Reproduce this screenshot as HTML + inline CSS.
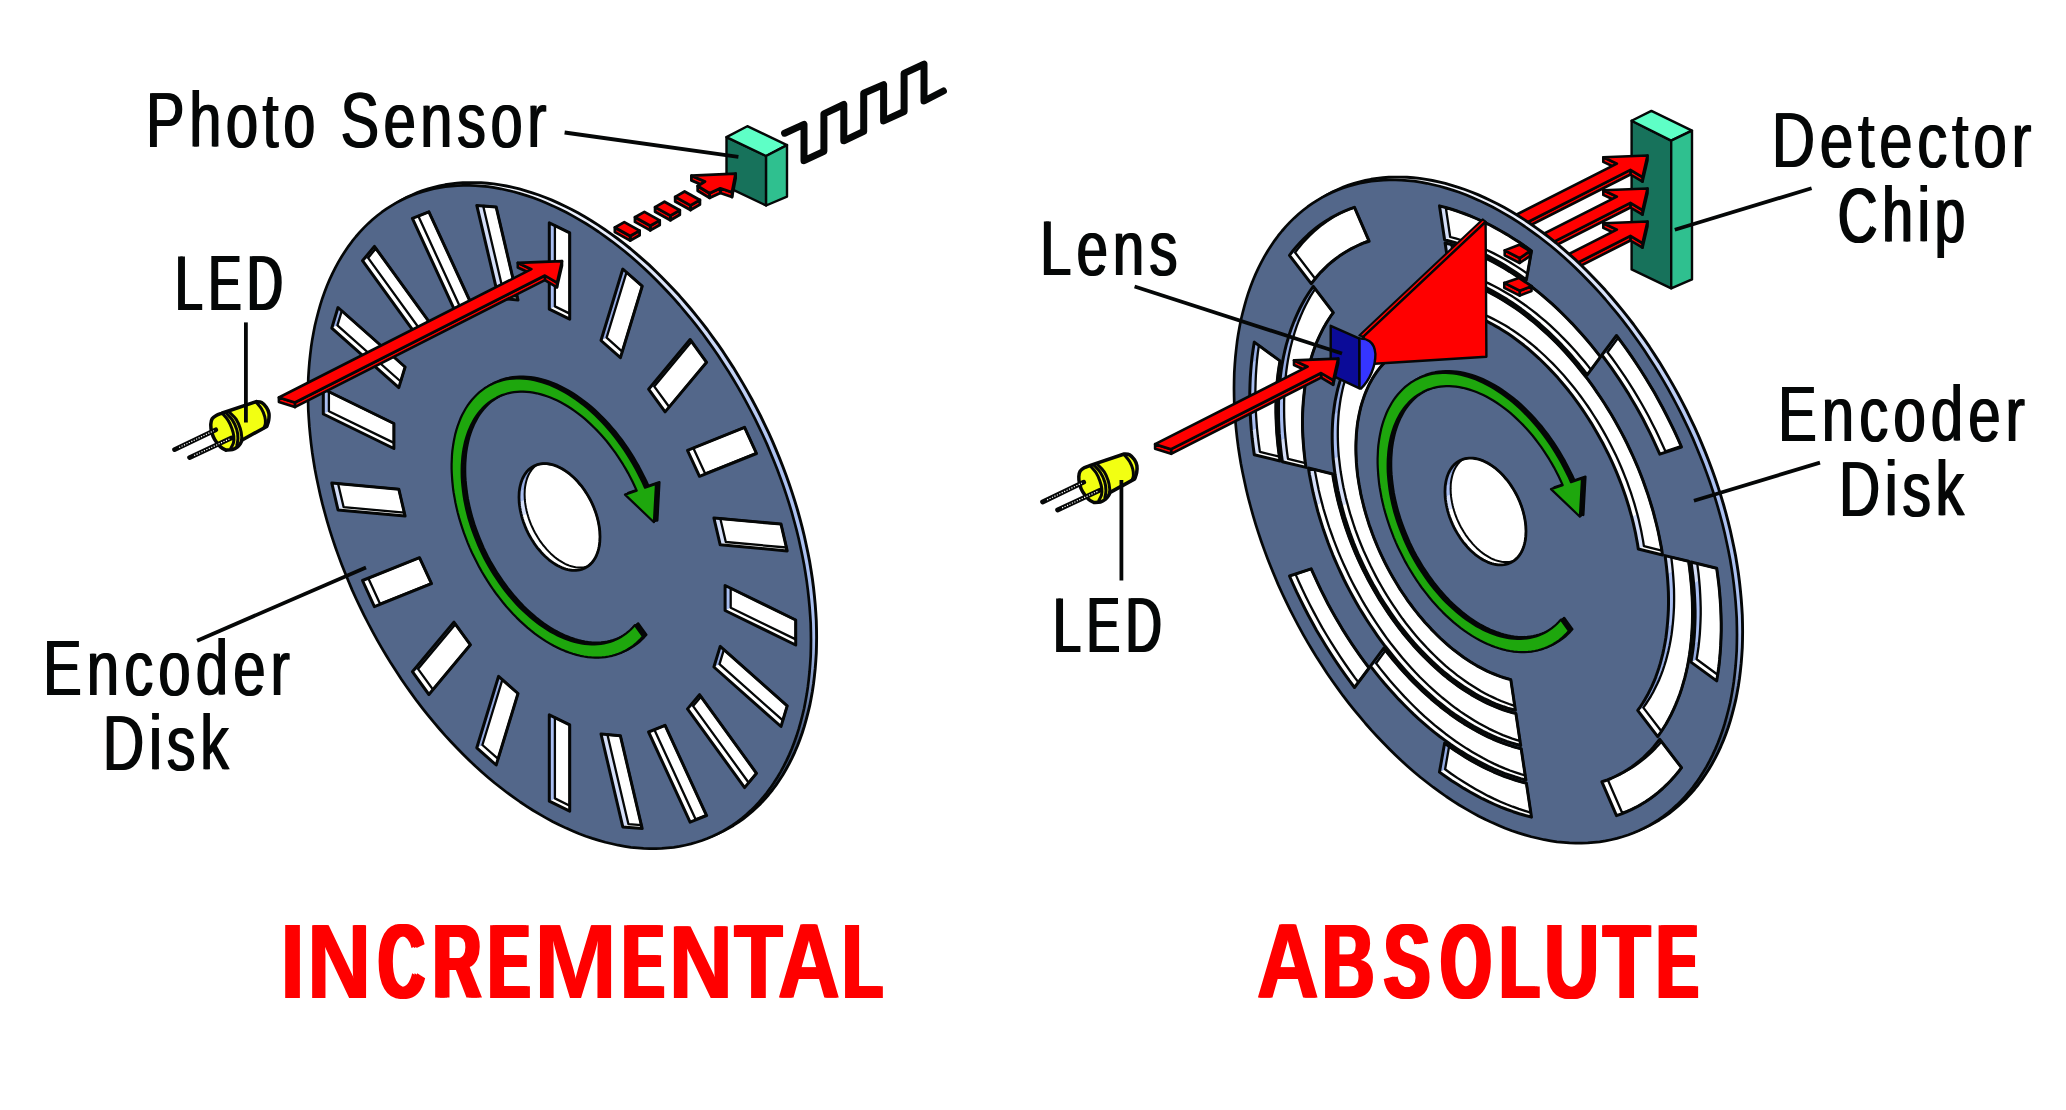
<!DOCTYPE html>
<html><head><meta charset="utf-8"><title>Encoders</title>
<style>
html,body{margin:0;padding:0;background:#fff;}
body{width:2066px;height:1110px;overflow:hidden;}
svg{display:block;}
text{font-family:"Liberation Sans",sans-serif;}
</style></head><body>
<svg width="2066" height="1110" viewBox="0 0 2066 1110">
<rect width="2066" height="1110" fill="#fff"/>
<polygon points="726.5,137.1 766.1,156.0 766.1,205.5 726.5,186.7" fill="#17725b" stroke="#050707" stroke-width="2.40" stroke-linejoin="round" />
<polygon points="726.5,137.1 747.3,126.2 787.0,145.1 766.1,156.0" fill="#5effc6" stroke="#050707" stroke-width="2.40" stroke-linejoin="round" />
<polygon points="766.1,156.0 787.0,145.1 787.0,196.6 766.1,205.5" fill="#2fc08f" stroke="#050707" stroke-width="2.40" stroke-linejoin="round" />
<polyline points="784.6,133.2 804.0,124.4 804.0,160.7 823.9,151.3 823.9,113.8 843.8,104.5 843.8,140.8 863.7,131.4 863.7,93.3 883.6,84.6 883.6,120.9 904.1,111.5 904.1,73.4 924.0,64.1 924.0,101.0 943.4,91.0" fill="none" stroke="#050707" stroke-width="7" stroke-linejoin="round" stroke-linecap="round"/>
<polygon points="639.6,230.6 630.2,236.0 630.2,240.6 639.6,235.2" fill="#ff0000" stroke="#050707" stroke-width="2.80" stroke-linejoin="round" />
<polygon points="630.2,236.0 614.9,227.5 614.9,232.1 630.2,240.6" fill="#ff0000" stroke="#050707" stroke-width="2.80" stroke-linejoin="round" />
<polygon points="614.9,227.5 624.3,222.1 639.6,230.6 630.2,236.0" fill="#ff0000" stroke="#050707" stroke-width="2.80" stroke-linejoin="round" />
<polygon points="659.7,220.4 650.3,225.8 650.3,230.4 659.7,225.0" fill="#ff0000" stroke="#050707" stroke-width="2.80" stroke-linejoin="round" />
<polygon points="650.3,225.8 635.0,217.3 635.0,221.9 650.3,230.4" fill="#ff0000" stroke="#050707" stroke-width="2.80" stroke-linejoin="round" />
<polygon points="635.0,217.3 644.4,211.9 659.7,220.4 650.3,225.8" fill="#ff0000" stroke="#050707" stroke-width="2.80" stroke-linejoin="round" />
<polygon points="679.8,210.2 670.4,215.6 670.4,220.2 679.8,214.8" fill="#ff0000" stroke="#050707" stroke-width="2.80" stroke-linejoin="round" />
<polygon points="670.4,215.6 655.1,207.1 655.1,211.7 670.4,220.2" fill="#ff0000" stroke="#050707" stroke-width="2.80" stroke-linejoin="round" />
<polygon points="655.1,207.1 664.5,201.7 679.8,210.2 670.4,215.6" fill="#ff0000" stroke="#050707" stroke-width="2.80" stroke-linejoin="round" />
<polygon points="699.9,200.0 690.5,205.4 690.5,210.0 699.9,204.6" fill="#ff0000" stroke="#050707" stroke-width="2.80" stroke-linejoin="round" />
<polygon points="690.5,205.4 675.2,196.9 675.2,201.5 690.5,210.0" fill="#ff0000" stroke="#050707" stroke-width="2.80" stroke-linejoin="round" />
<polygon points="675.2,196.9 684.6,191.5 699.9,200.0 690.5,205.4" fill="#ff0000" stroke="#050707" stroke-width="2.80" stroke-linejoin="round" />
<polygon points="735.6,173.6 732.0,192.3 732.0,197.0 735.6,178.3" fill="#ff0000" stroke="#050707" stroke-width="2.80" stroke-linejoin="round" />
<polygon points="732.0,192.3 720.3,188.3 720.3,193.0 732.0,197.0" fill="#ff0000" stroke="#050707" stroke-width="2.80" stroke-linejoin="round" />
<polygon points="720.3,188.3 709.5,193.2 709.5,197.9 720.3,193.0" fill="#ff0000" stroke="#050707" stroke-width="2.80" stroke-linejoin="round" />
<polygon points="709.5,193.2 697.7,186.0 697.7,190.7 709.5,197.9" fill="#ff0000" stroke="#050707" stroke-width="2.80" stroke-linejoin="round" />
<polygon points="705.0,181.5 691.4,175.7 691.4,180.4 705.0,186.2" fill="#ff0000" stroke="#050707" stroke-width="2.80" stroke-linejoin="round" />
<polygon points="691.4,175.7 735.6,173.6 732.0,192.3 720.3,188.3 709.5,193.2 697.7,186.0 705.0,181.5" fill="#ff0000" stroke="#050707" stroke-width="2.80" stroke-linejoin="round" />
<defs><linearGradient id="rim559" gradientUnits="userSpaceOnUse" x1="0" y1="182.0" x2="0" y2="852.0"><stop offset="0" stop-color="#f6f8ff"/><stop offset="0.42" stop-color="#abc0f0"/><stop offset="0.68" stop-color="#abc0f0"/><stop offset="0.84" stop-color="#44577a"/><stop offset="1" stop-color="#38496a"/></linearGradient></defs>
<polygon points="816.6,637.2 816.5,629.1 816.3,620.9 815.8,612.7 815.2,604.3 814.4,595.9 813.5,587.5 812.4,579.0 811.1,570.5 809.7,561.9 808.0,553.3 806.2,544.7 804.3,536.0 802.2,527.3 799.9,518.7 797.5,510.0 794.9,501.3 792.1,492.6 789.2,484.0 786.1,475.3 782.9,466.7 779.5,458.1 776.0,449.6 772.4,441.1 768.6,432.7 764.6,424.3 760.6,416.0 756.3,407.7 752.0,399.5 747.5,391.4 742.9,383.4 738.2,375.5 733.4,367.6 728.4,359.9 723.4,352.2 718.2,344.7 712.9,337.3 707.6,330.0 702.1,322.9 696.5,315.9 690.9,309.0 685.1,302.2 679.3,295.6 673.4,289.2 667.4,282.9 661.3,276.7 655.2,270.7 649.1,264.9 642.8,259.3 636.5,253.8 630.2,248.5 623.8,243.4 617.4,238.5 610.9,233.8 604.4,229.2 597.9,224.9 591.4,220.7 584.8,216.8 578.3,213.1 571.7,209.5 565.1,206.2 558.5,203.1 551.9,200.2 545.4,197.5 538.8,195.0 532.3,192.8 525.8,190.8 519.3,188.9 512.8,187.4 506.4,186.0 500.0,184.9 493.7,183.9 487.4,183.3 481.1,182.8 475.0,182.6 468.9,182.6 462.8,182.8 456.8,183.3 450.9,183.9 445.1,184.8 439.4,186.0 433.7,187.3 428.1,188.9 422.6,190.7 417.3,192.7 412.0,195.0 406.8,197.4 401.8,200.1 396.8,203.0 392.0,206.1 387.3,209.4 382.7,213.0 378.2,216.7 373.9,220.6 369.6,224.8 365.6,229.1 361.6,233.7 357.8,238.4 354.2,243.3 350.7,248.4 347.3,253.7 344.1,259.1 341.0,264.8 338.1,270.6 335.3,276.6 332.7,282.7 330.3,289.0 328.0,295.4 325.9,302.0 324.0,308.8 322.2,315.7 320.5,322.7 319.1,329.9 317.8,337.1 316.7,344.5 315.8,352.1 315.0,359.7 314.4,367.4 313.9,375.2 313.7,383.2 313.6,391.2 313.7,399.3 313.9,407.5 314.4,415.7 315.0,424.1 315.8,432.5 316.7,440.9 317.8,449.4 319.1,457.9 320.5,466.5 322.2,475.1 324.0,483.7 325.9,492.4 328.0,501.1 330.3,509.7 332.7,518.4 335.3,527.1 338.1,535.8 341.0,544.4 344.1,553.1 347.3,561.7 350.7,570.3 354.2,578.8 357.8,587.3 361.6,595.7 365.6,604.1 369.6,612.4 373.9,620.7 378.2,628.9 382.7,637.0 387.3,645.0 392.0,652.9 396.8,660.8 401.8,668.5 406.8,676.2 412.0,683.7 417.3,691.1 422.6,698.4 428.1,705.5 433.7,712.5 439.3,719.4 445.1,726.2 450.9,732.8 456.8,739.2 462.8,745.5 468.9,751.7 475.0,757.7 481.1,763.5 487.4,769.1 493.7,774.6 500.0,779.9 506.4,785.0 512.8,789.9 519.3,794.6 525.8,799.2 532.3,803.5 538.8,807.7 545.4,811.6 551.9,815.3 558.5,818.9 565.1,822.2 571.7,825.3 578.3,828.2 584.8,830.9 591.4,833.4 597.9,835.6 604.4,837.6 610.9,839.5 617.4,841.0 623.8,842.4 630.2,843.5 636.5,844.5 642.8,845.1 649.1,845.6 655.2,845.8 661.3,845.8 667.4,845.6 673.4,845.1 679.3,844.5 685.1,843.6 690.9,842.4 696.5,841.1 702.1,839.5 707.6,837.7 712.9,835.7 718.2,833.4 723.4,831.0 728.4,828.3 733.4,825.4 738.2,822.3 742.9,819.0 747.5,815.4 752.0,811.7 756.3,807.8 760.6,803.6 764.6,799.3 768.6,794.7 772.4,790.0 776.0,785.1 779.5,780.0 782.9,774.7 786.1,769.3 789.2,763.6 792.1,757.8 794.9,751.8 797.5,745.7 799.9,739.4 802.2,733.0 804.3,726.4 806.2,719.6 808.0,712.7 809.7,705.7 811.1,698.5 812.4,691.3 813.5,683.9 814.4,676.3 815.2,668.7 815.8,661.0 816.3,653.2 816.5,645.2 816.6,637.2" fill="url(#rim559)" stroke="#050707" stroke-width="2.90" stroke-linejoin="round" />
<polygon points="811.0,640.0 810.9,631.9 810.7,623.7 810.2,615.5 809.6,607.1 808.8,598.7 807.9,590.3 806.8,581.8 805.5,573.3 804.1,564.7 802.4,556.1 800.6,547.5 798.7,538.8 796.6,530.1 794.3,521.5 791.9,512.8 789.3,504.1 786.5,495.4 783.6,486.8 780.5,478.1 777.3,469.5 773.9,460.9 770.4,452.4 766.8,443.9 763.0,435.5 759.0,427.1 755.0,418.8 750.7,410.5 746.4,402.3 741.9,394.2 737.3,386.2 732.6,378.3 727.8,370.4 722.8,362.7 717.8,355.0 712.6,347.5 707.3,340.1 702.0,332.8 696.5,325.7 690.9,318.7 685.2,311.8 679.5,305.0 673.7,298.4 667.8,292.0 661.8,285.7 655.7,279.5 649.6,273.5 643.5,267.7 637.2,262.1 630.9,256.6 624.6,251.3 618.2,246.2 611.8,241.3 605.3,236.6 598.8,232.0 592.3,227.7 585.8,223.5 579.2,219.6 572.7,215.9 566.1,212.3 559.5,209.0 552.9,205.9 546.3,203.0 539.8,200.3 533.2,197.8 526.7,195.6 520.2,193.6 513.7,191.7 507.2,190.2 500.8,188.8 494.4,187.7 488.1,186.7 481.8,186.1 475.5,185.6 469.4,185.4 463.3,185.4 457.2,185.6 451.2,186.1 445.3,186.7 439.5,187.6 433.8,188.8 428.1,190.1 422.5,191.7 417.0,193.5 411.7,195.5 406.4,197.8 401.2,200.2 396.2,202.9 391.2,205.8 386.4,208.9 381.7,212.2 377.1,215.8 372.6,219.5 368.3,223.4 364.0,227.6 360.0,231.9 356.0,236.5 352.2,241.2 348.6,246.1 345.1,251.2 341.7,256.5 338.5,261.9 335.4,267.6 332.5,273.4 329.7,279.4 327.1,285.5 324.7,291.8 322.4,298.2 320.3,304.8 318.4,311.6 316.6,318.5 314.9,325.5 313.5,332.7 312.2,339.9 311.1,347.3 310.2,354.9 309.4,362.5 308.8,370.2 308.3,378.0 308.1,386.0 308.0,394.0 308.1,402.1 308.3,410.3 308.8,418.5 309.4,426.9 310.2,435.3 311.1,443.7 312.2,452.2 313.5,460.7 314.9,469.3 316.6,477.9 318.4,486.5 320.3,495.2 322.4,503.9 324.7,512.5 327.1,521.2 329.7,529.9 332.5,538.6 335.4,547.2 338.5,555.9 341.7,564.5 345.1,573.1 348.6,581.6 352.2,590.1 356.0,598.5 360.0,606.9 364.0,615.2 368.3,623.5 372.6,631.7 377.1,639.8 381.7,647.8 386.4,655.7 391.2,663.6 396.2,671.3 401.2,679.0 406.4,686.5 411.7,693.9 417.0,701.2 422.5,708.3 428.1,715.3 433.7,722.2 439.5,729.0 445.3,735.6 451.2,742.0 457.2,748.3 463.3,754.5 469.4,760.5 475.5,766.3 481.8,771.9 488.1,777.4 494.4,782.7 500.8,787.8 507.2,792.7 513.7,797.4 520.2,802.0 526.7,806.3 533.2,810.5 539.8,814.4 546.3,818.1 552.9,821.7 559.5,825.0 566.1,828.1 572.7,831.0 579.2,833.7 585.8,836.2 592.3,838.4 598.8,840.4 605.3,842.3 611.8,843.8 618.2,845.2 624.6,846.3 630.9,847.3 637.2,847.9 643.5,848.4 649.6,848.6 655.7,848.6 661.8,848.4 667.8,847.9 673.7,847.3 679.5,846.4 685.2,845.2 690.9,843.9 696.5,842.3 702.0,840.5 707.3,838.5 712.6,836.2 717.8,833.8 722.8,831.1 727.8,828.2 732.6,825.1 737.3,821.8 741.9,818.2 746.4,814.5 750.7,810.6 755.0,806.4 759.0,802.1 763.0,797.5 766.8,792.8 770.4,787.9 773.9,782.8 777.3,777.5 780.5,772.1 783.6,766.4 786.5,760.6 789.3,754.6 791.9,748.5 794.3,742.2 796.6,735.8 798.7,729.2 800.6,722.4 802.4,715.5 804.1,708.5 805.5,701.3 806.8,694.1 807.9,686.7 808.8,679.1 809.6,671.5 810.2,663.8 810.7,656.0 810.9,648.0 811.0,640.0" fill="#53678a" stroke="#050707" stroke-width="2.70" stroke-linejoin="round" />
<path d="M569.7 232.8 L549.3 222.8 L549.3 309.2 L569.7 319.2Z" fill="#ccd8f6"/>
<path d="M549.3 309.2 L554.9 306.4 L554.9 225.5 L549.3 222.8Z" fill="#a9bef1"/>
<path d="M569.7 319.2 L569.7 313.6 L554.9 306.4 L549.3 309.2Z" fill="#ffffff"/>
<path d="M554.9 225.5 L554.9 306.4 L569.7 313.6 L569.7 232.8Z" fill="#fff" stroke="#050707" stroke-width="2.30" stroke-linejoin="round"/>
<path d="M569.7 232.8 L549.3 222.8 L549.3 309.2 L569.7 319.2Z" fill="none" stroke="#050707" stroke-width="3.00" stroke-linejoin="round"/>
<path d="M642.2 286.2 L622.8 269.0 L601.0 340.5 L620.4 357.7Z" fill="#ccd8f6"/>
<path d="M601.0 340.5 L606.6 337.7 L626.5 272.4 L622.8 269.0Z" fill="#94aae0"/>
<path d="M620.4 357.7 L622.2 351.6 L606.6 337.7 L601.0 340.5Z" fill="#ffffff"/>
<path d="M626.5 272.4 L606.6 337.7 L622.2 351.6 L642.2 286.2Z" fill="#fff" stroke="#050707" stroke-width="2.30" stroke-linejoin="round"/>
<path d="M642.2 286.2 L622.8 269.0 L601.0 340.5 L620.4 357.7Z" fill="none" stroke="#050707" stroke-width="3.00" stroke-linejoin="round"/>
<path d="M706.6 362.3 L690.1 339.5 L648.6 389.2 L665.1 411.9Z" fill="#ccd8f6"/>
<path d="M648.6 389.2 L654.2 386.4 L691.6 341.6 L690.1 339.5Z" fill="#7f97cf"/>
<path d="M665.1 411.9 L669.2 407.0 L654.2 386.4 L648.6 389.2Z" fill="#ffffff"/>
<path d="M691.6 341.6 L654.2 386.4 L669.2 407.0 L706.6 362.3Z" fill="#fff" stroke="#050707" stroke-width="2.30" stroke-linejoin="round"/>
<path d="M706.6 362.3 L690.1 339.5 L648.6 389.2 L665.1 411.9Z" fill="none" stroke="#050707" stroke-width="3.00" stroke-linejoin="round"/>
<path d="M756.5 453.5 L744.6 427.4 L687.5 450.3 L699.5 476.3Z" fill="#ccd8f6"/>
<path d="M699.5 476.3 L756.5 453.5 L756.3 453.0 L705.1 473.5 L693.3 448.0 L687.5 450.3Z" fill="#ffffff"/>
<path d="M744.6 427.4 L693.3 448.0 L705.1 473.5 L756.3 453.0Z" fill="#fff" stroke="#050707" stroke-width="2.30" stroke-linejoin="round"/>
<path d="M756.5 453.5 L744.6 427.4 L687.5 450.3 L699.5 476.3Z" fill="none" stroke="#050707" stroke-width="3.00" stroke-linejoin="round"/>
<path d="M787.2 550.9 L781.0 524.1 L713.9 518.0 L720.2 544.8Z" fill="#ccd8f6"/>
<path d="M720.2 544.8 L725.8 542.0 L720.3 518.5 L713.9 518.0Z" fill="#d4def8"/>
<path d="M787.2 550.9 L786.5 547.5 L725.8 542.0 L720.2 544.8Z" fill="#ffffff"/>
<path d="M781.0 524.1 L720.3 518.5 L725.8 542.0 L786.5 547.5Z" fill="#fff" stroke="#050707" stroke-width="2.30" stroke-linejoin="round"/>
<path d="M787.2 550.9 L781.0 524.1 L713.9 518.0 L720.2 544.8Z" fill="none" stroke="#050707" stroke-width="3.00" stroke-linejoin="round"/>
<path d="M795.7 645.0 L795.7 620.0 L725.1 585.5 L725.1 610.5Z" fill="#ccd8f6"/>
<path d="M725.1 610.5 L730.7 607.7 L730.7 588.3 L725.1 585.5Z" fill="#a9bef1"/>
<path d="M795.7 645.0 L795.7 639.4 L730.7 607.7 L725.1 610.5Z" fill="#ffffff"/>
<path d="M795.7 620.0 L730.7 588.3 L730.7 607.7 L795.7 639.4Z" fill="#fff" stroke="#050707" stroke-width="2.30" stroke-linejoin="round"/>
<path d="M795.7 645.0 L795.7 620.0 L725.1 585.5 L725.1 610.5Z" fill="none" stroke="#050707" stroke-width="3.00" stroke-linejoin="round"/>
<path d="M781.0 726.5 L787.2 705.9 L720.2 646.4 L713.9 667.0Z" fill="#ccd8f6"/>
<path d="M713.9 667.0 L719.5 664.2 L723.9 649.7 L720.2 646.4Z" fill="#94aae0"/>
<path d="M781.0 726.5 L782.8 720.4 L719.5 664.2 L713.9 667.0Z" fill="#ffffff"/>
<path d="M787.2 705.9 L723.9 649.7 L719.5 664.2 L782.8 720.4Z" fill="#fff" stroke="#050707" stroke-width="2.30" stroke-linejoin="round"/>
<path d="M781.0 726.5 L787.2 705.9 L720.2 646.4 L713.9 667.0Z" fill="none" stroke="#050707" stroke-width="3.00" stroke-linejoin="round"/>
<path d="M744.6 787.6 L756.5 773.3 L699.5 694.6 L687.5 708.9Z" fill="#ccd8f6"/>
<path d="M687.5 708.9 L693.1 706.1 L701.0 696.7 L699.5 694.6Z" fill="#7f97cf"/>
<path d="M744.6 787.6 L748.7 782.7 L693.1 706.1 L687.5 708.9Z" fill="#ffffff"/>
<path d="M756.5 773.3 L701.0 696.7 L693.1 706.1 L748.7 782.7Z" fill="#fff" stroke="#050707" stroke-width="2.30" stroke-linejoin="round"/>
<path d="M744.6 787.6 L756.5 773.3 L699.5 694.6 L687.5 708.9Z" fill="none" stroke="#050707" stroke-width="3.00" stroke-linejoin="round"/>
<path d="M690.1 822.2 L706.6 815.6 L665.1 725.4 L648.6 732.0Z" fill="#ccd8f6"/>
<path d="M690.1 822.2 L706.6 815.6 L706.3 815.1 L695.7 819.4 L654.4 729.7 L648.6 732.0Z" fill="#ffffff"/>
<path d="M665.1 725.4 L654.4 729.7 L695.7 819.4 L706.3 815.1Z" fill="#fff" stroke="#050707" stroke-width="2.30" stroke-linejoin="round"/>
<path d="M690.1 822.2 L706.6 815.6 L665.1 725.4 L648.6 732.0Z" fill="none" stroke="#050707" stroke-width="3.00" stroke-linejoin="round"/>
<path d="M622.8 826.9 L642.2 828.6 L620.4 735.8 L601.0 734.0Z" fill="#ccd8f6"/>
<path d="M642.2 828.6 L641.4 825.2 L628.4 824.1 L622.8 826.9Z" fill="#ffffff"/>
<path d="M622.8 826.9 L628.4 824.1 L607.4 734.6 L601.0 734.0Z" fill="#d4def8"/>
<path d="M620.4 735.8 L607.4 734.6 L628.4 824.1 L641.4 825.2Z" fill="#fff" stroke="#050707" stroke-width="2.30" stroke-linejoin="round"/>
<path d="M622.8 826.9 L642.2 828.6 L620.4 735.8 L601.0 734.0Z" fill="none" stroke="#050707" stroke-width="3.00" stroke-linejoin="round"/>
<path d="M549.3 801.2 L569.7 811.2 L569.7 724.8 L549.3 714.8Z" fill="#ccd8f6"/>
<path d="M569.7 811.2 L569.7 805.7 L554.9 798.4 L549.3 801.2Z" fill="#ffffff"/>
<path d="M549.3 801.2 L554.9 798.4 L554.9 717.6 L549.3 714.8Z" fill="#a9bef1"/>
<path d="M569.7 724.8 L554.9 717.6 L554.9 798.4 L569.7 805.7Z" fill="#fff" stroke="#050707" stroke-width="2.30" stroke-linejoin="round"/>
<path d="M549.3 801.2 L569.7 811.2 L569.7 724.8 L549.3 714.8Z" fill="none" stroke="#050707" stroke-width="3.00" stroke-linejoin="round"/>
<path d="M476.8 747.8 L496.2 765.0 L518.0 693.5 L498.6 676.3Z" fill="#ccd8f6"/>
<path d="M496.2 765.0 L498.1 758.8 L482.4 745.0 L476.8 747.8Z" fill="#ffffff"/>
<path d="M476.8 747.8 L482.4 745.0 L502.4 679.6 L498.6 676.3Z" fill="#94aae0"/>
<path d="M518.0 693.5 L502.4 679.6 L482.4 745.0 L498.1 758.8Z" fill="#fff" stroke="#050707" stroke-width="2.30" stroke-linejoin="round"/>
<path d="M476.8 747.8 L496.2 765.0 L518.0 693.5 L498.6 676.3Z" fill="none" stroke="#050707" stroke-width="3.00" stroke-linejoin="round"/>
<path d="M412.4 671.7 L428.9 694.5 L470.4 644.8 L453.9 622.1Z" fill="#ccd8f6"/>
<path d="M428.9 694.5 L433.0 689.6 L418.0 668.9 L412.4 671.7Z" fill="#ffffff"/>
<path d="M412.4 671.7 L418.0 668.9 L455.4 624.2 L453.9 622.1Z" fill="#7f97cf"/>
<path d="M470.4 644.8 L455.4 624.2 L418.0 668.9 L433.0 689.6Z" fill="#fff" stroke="#050707" stroke-width="2.30" stroke-linejoin="round"/>
<path d="M412.4 671.7 L428.9 694.5 L470.4 644.8 L453.9 622.1Z" fill="none" stroke="#050707" stroke-width="3.00" stroke-linejoin="round"/>
<path d="M362.5 580.5 L374.4 606.6 L431.5 583.7 L419.5 557.7Z" fill="#ccd8f6"/>
<path d="M374.4 606.6 L431.5 583.7 L431.3 583.2 L380.0 603.8 L368.3 578.2 L362.5 580.5Z" fill="#ffffff"/>
<path d="M419.5 557.7 L368.3 578.2 L380.0 603.8 L431.3 583.2Z" fill="#fff" stroke="#050707" stroke-width="2.30" stroke-linejoin="round"/>
<path d="M362.5 580.5 L374.4 606.6 L431.5 583.7 L419.5 557.7Z" fill="none" stroke="#050707" stroke-width="3.00" stroke-linejoin="round"/>
<path d="M331.8 483.1 L338.0 509.9 L405.1 516.0 L398.8 489.2Z" fill="#ccd8f6"/>
<path d="M338.0 509.9 L343.6 507.1 L338.1 483.7 L331.8 483.1Z" fill="#d4def8"/>
<path d="M405.1 516.0 L404.3 512.7 L343.6 507.1 L338.0 509.9Z" fill="#ffffff"/>
<path d="M398.8 489.2 L338.1 483.7 L343.6 507.1 L404.3 512.7Z" fill="#fff" stroke="#050707" stroke-width="2.30" stroke-linejoin="round"/>
<path d="M331.8 483.1 L338.0 509.9 L405.1 516.0 L398.8 489.2Z" fill="none" stroke="#050707" stroke-width="3.00" stroke-linejoin="round"/>
<path d="M323.3 389.0 L323.3 414.0 L393.9 448.5 L393.9 423.5Z" fill="#ccd8f6"/>
<path d="M323.3 414.0 L328.9 411.2 L328.9 391.8 L323.3 389.0Z" fill="#a9bef1"/>
<path d="M393.9 448.5 L393.9 442.9 L328.9 411.2 L323.3 414.0Z" fill="#ffffff"/>
<path d="M393.9 423.5 L328.9 391.8 L328.9 411.2 L393.9 442.9Z" fill="#fff" stroke="#050707" stroke-width="2.30" stroke-linejoin="round"/>
<path d="M323.3 389.0 L323.3 414.0 L393.9 448.5 L393.9 423.5Z" fill="none" stroke="#050707" stroke-width="3.00" stroke-linejoin="round"/>
<path d="M338.0 307.5 L331.8 328.1 L398.8 387.6 L405.1 367.0Z" fill="#ccd8f6"/>
<path d="M331.8 328.1 L337.4 325.3 L341.8 310.8 L338.0 307.5Z" fill="#94aae0"/>
<path d="M398.8 387.6 L400.7 381.5 L337.4 325.3 L331.8 328.1Z" fill="#ffffff"/>
<path d="M405.1 367.0 L341.8 310.8 L337.4 325.3 L400.7 381.5Z" fill="#fff" stroke="#050707" stroke-width="2.30" stroke-linejoin="round"/>
<path d="M338.0 307.5 L331.8 328.1 L398.8 387.6 L405.1 367.0Z" fill="none" stroke="#050707" stroke-width="3.00" stroke-linejoin="round"/>
<path d="M374.4 246.4 L362.5 260.7 L419.5 339.4 L431.5 325.1Z" fill="#ccd8f6"/>
<path d="M362.5 260.7 L368.1 257.9 L375.9 248.5 L374.4 246.4Z" fill="#7f97cf"/>
<path d="M419.5 339.4 L423.6 334.5 L368.1 257.9 L362.5 260.7Z" fill="#ffffff"/>
<path d="M431.5 325.1 L375.9 248.5 L368.1 257.9 L423.6 334.5Z" fill="#fff" stroke="#050707" stroke-width="2.30" stroke-linejoin="round"/>
<path d="M374.4 246.4 L362.5 260.7 L419.5 339.4 L431.5 325.1Z" fill="none" stroke="#050707" stroke-width="3.00" stroke-linejoin="round"/>
<path d="M428.9 211.8 L412.4 218.4 L453.9 308.6 L470.4 302.0Z" fill="#ccd8f6"/>
<path d="M453.9 308.6 L470.4 302.0 L470.2 301.5 L459.5 305.8 L418.3 216.1 L412.4 218.4Z" fill="#ffffff"/>
<path d="M418.3 216.1 L459.5 305.8 L470.2 301.5 L428.9 211.8Z" fill="#fff" stroke="#050707" stroke-width="2.30" stroke-linejoin="round"/>
<path d="M428.9 211.8 L412.4 218.4 L453.9 308.6 L470.4 302.0Z" fill="none" stroke="#050707" stroke-width="3.00" stroke-linejoin="round"/>
<path d="M496.2 207.1 L476.8 205.4 L498.6 298.2 L518.0 300.0Z" fill="#ccd8f6"/>
<path d="M498.6 298.2 L504.2 295.4 L483.2 206.0 L476.8 205.4Z" fill="#d4def8"/>
<path d="M518.0 300.0 L517.2 296.6 L504.2 295.4 L498.6 298.2Z" fill="#ffffff"/>
<path d="M483.2 206.0 L504.2 295.4 L517.2 296.6 L496.2 207.1Z" fill="#fff" stroke="#050707" stroke-width="2.30" stroke-linejoin="round"/>
<path d="M496.2 207.1 L476.8 205.4 L498.6 298.2 L518.0 300.0Z" fill="none" stroke="#050707" stroke-width="3.00" stroke-linejoin="round"/>
<path d="M600.0 536.8 L599.9 534.2 L599.8 531.5 L599.5 528.8 L599.1 526.1 L598.6 523.3 L598.0 520.5 L597.3 517.7 L596.5 514.9 L595.6 512.1 L594.6 509.4 L593.5 506.6 L592.3 503.9 L591.0 501.2 L589.6 498.5 L588.1 495.9 L586.6 493.4 L585.0 490.9 L583.3 488.5 L581.6 486.2 L579.7 484.0 L577.9 481.8 L576.0 479.8 L574.0 477.8 L572.0 476.0 L570.0 474.2 L567.9 472.6 L565.8 471.1 L563.7 469.8 L561.6 468.5 L559.5 467.4 L557.4 466.4 L555.3 465.6 L553.2 464.9 L551.1 464.4 L549.0 464.0 L547.0 463.7 L545.0 463.6 L543.0 463.6 L541.1 463.8 L539.3 464.2 L537.4 464.6 L535.7 465.2 L534.0 466.0 L532.4 466.9 L530.9 467.9 L529.4 469.1 L528.0 470.4 L526.7 471.8 L525.5 473.4 L524.4 475.1 L523.4 476.8 L522.5 478.7 L521.7 480.7 L521.0 482.8 L520.4 485.0 L519.9 487.3 L519.5 489.7 L519.2 492.1 L519.1 494.6 L519.0 497.2 L519.1 499.8 L519.2 502.5 L519.5 505.2 L519.9 507.9 L520.4 510.7 L521.0 513.5 L521.7 516.3 L522.5 519.1 L523.4 521.9 L524.4 524.6 L525.5 527.4 L526.7 530.1 L528.0 532.8 L529.4 535.5 L530.9 538.1 L532.4 540.6 L534.0 543.1 L535.7 545.5 L537.4 547.8 L539.3 550.0 L541.1 552.2 L543.0 554.2 L545.0 556.2 L547.0 558.0 L549.0 559.8 L551.1 561.4 L553.2 562.9 L555.3 564.2 L557.4 565.5 L559.5 566.6 L561.6 567.6 L563.7 568.4 L565.8 569.1 L567.9 569.6 L570.0 570.0 L572.0 570.3 L574.0 570.4 L576.0 570.4 L577.9 570.2 L579.7 569.8 L581.6 569.4 L583.3 568.8 L585.0 568.0 L586.6 567.1 L588.1 566.1 L589.6 564.9 L591.0 563.6 L592.3 562.2 L593.5 560.6 L594.6 558.9 L595.6 557.2 L596.5 555.3 L597.3 553.3 L598.0 551.2 L598.6 549.0 L599.1 546.7 L599.5 544.3 L599.8 541.9 L599.9 539.4Z" fill="#ccd8f6"/>
<path d="M532.4 466.9 L530.9 467.9 L529.4 469.1 L528.0 470.4 L526.7 471.8 L525.5 473.4 L524.4 475.1 L523.4 476.8 L522.5 478.7 L521.7 480.7 L527.3 477.9 L528.1 475.9 L529.0 474.0 L530.0 472.3 L531.1 470.6 L532.3 469.0 L533.6 467.6 L535.0 466.3 L536.5 465.1 L537.0 464.8 L535.7 465.2 L534.0 466.0Z" fill="#7f97cf"/>
<path d="M521.0 482.8 L520.4 485.0 L519.9 487.3 L519.5 489.7 L519.2 492.1 L524.8 489.3 L525.1 486.9 L525.5 484.5 L526.0 482.2 L526.6 480.0 L527.3 477.9 L521.7 480.7Z" fill="#94aae0"/>
<path d="M519.1 494.6 L519.0 497.2 L519.1 499.8 L519.2 502.5 L524.8 499.7 L524.7 497.0 L524.6 494.4 L524.7 491.8 L524.8 489.3 L519.2 492.1Z" fill="#a9bef1"/>
<path d="M519.5 505.2 L519.9 507.9 L520.4 510.7 L521.0 513.5 L521.7 516.3 L527.3 513.5 L526.6 510.7 L526.0 507.9 L525.5 505.1 L525.1 502.4 L524.8 499.7 L519.2 502.5Z" fill="#d4def8"/>
<path d="M522.5 519.1 L523.4 521.9 L524.4 524.6 L525.5 527.4 L526.7 530.1 L528.0 532.8 L529.4 535.5 L530.9 538.1 L532.4 540.6 L534.0 543.1 L535.7 545.5 L537.4 547.8 L539.3 550.0 L541.1 552.2 L543.0 554.2 L545.0 556.2 L547.0 558.0 L549.0 559.8 L551.1 561.4 L553.2 562.9 L555.3 564.2 L557.4 565.5 L559.5 566.6 L561.6 567.6 L563.7 568.4 L565.8 569.1 L567.9 569.6 L570.0 570.0 L572.0 570.3 L574.0 570.4 L576.0 570.4 L577.9 570.2 L579.7 569.8 L581.6 569.4 L583.3 568.8 L585.0 568.0 L586.6 567.1 L587.6 566.4 L587.2 566.6 L585.3 567.0 L583.5 567.4 L581.6 567.6 L579.6 567.6 L577.6 567.5 L575.6 567.2 L573.5 566.8 L571.4 566.3 L569.3 565.6 L567.2 564.8 L565.1 563.8 L563.0 562.7 L560.9 561.4 L558.8 560.1 L556.7 558.6 L554.6 557.0 L552.6 555.2 L550.6 553.4 L548.6 551.4 L546.7 549.4 L544.9 547.2 L543.0 545.0 L541.3 542.7 L539.6 540.3 L538.0 537.8 L536.5 535.3 L535.0 532.7 L533.6 530.0 L532.3 527.3 L531.1 524.6 L530.0 521.8 L529.0 519.1 L528.1 516.3 L527.3 513.5 L521.7 516.3Z" fill="#ffffff"/>
<path d="M599.9 534.2 L599.8 531.5 L599.5 528.8 L599.1 526.1 L598.6 523.3 L598.0 520.5 L597.3 517.7 L596.5 514.9 L595.6 512.1 L594.6 509.4 L593.5 506.6 L592.3 503.9 L591.0 501.2 L589.6 498.5 L588.1 495.9 L586.6 493.4 L585.0 490.9 L583.3 488.5 L581.6 486.2 L579.7 484.0 L577.9 481.8 L576.0 479.8 L574.0 477.8 L572.0 476.0 L570.0 474.2 L567.9 472.6 L565.8 471.1 L563.7 469.8 L561.6 468.5 L559.5 467.4 L557.4 466.4 L555.3 465.6 L553.2 464.9 L551.1 464.4 L549.0 464.0 L547.0 463.7 L545.0 463.6 L543.0 463.6 L541.1 463.8 L539.3 464.2 L537.4 464.6 L537.0 464.8 L536.5 465.1 L535.0 466.3 L533.6 467.6 L532.3 469.0 L531.1 470.6 L530.0 472.3 L529.0 474.0 L528.1 475.9 L527.3 477.9 L526.6 480.0 L526.0 482.2 L525.5 484.5 L525.1 486.9 L524.8 489.3 L524.7 491.8 L524.6 494.4 L524.7 497.0 L524.8 499.7 L525.1 502.4 L525.5 505.1 L526.0 507.9 L526.6 510.7 L527.3 513.5 L528.1 516.3 L529.0 519.1 L530.0 521.8 L531.1 524.6 L532.3 527.3 L533.6 530.0 L535.0 532.7 L536.5 535.3 L538.0 537.8 L539.6 540.3 L541.3 542.7 L543.0 545.0 L544.9 547.2 L546.7 549.4 L548.6 551.4 L550.6 553.4 L552.6 555.2 L554.6 557.0 L556.7 558.6 L558.8 560.1 L560.9 561.4 L563.0 562.7 L565.1 563.8 L567.2 564.8 L569.3 565.6 L571.4 566.3 L573.5 566.8 L575.6 567.2 L577.6 567.5 L579.6 567.6 L581.6 567.6 L583.5 567.4 L585.3 567.0 L587.2 566.6 L587.6 566.4 L588.1 566.1 L589.6 564.9 L591.0 563.6 L592.3 562.2 L593.5 560.6 L594.6 558.9 L595.6 557.2 L596.5 555.3 L597.3 553.3 L598.0 551.2 L598.6 549.0 L599.1 546.7 L599.5 544.3 L599.8 541.9 L599.9 539.4 L600.0 536.8Z" fill="#fff" stroke="#050707" stroke-width="2.00" stroke-linejoin="round"/>
<path d="M600.0 536.8 L599.9 534.2 L599.8 531.5 L599.5 528.8 L599.1 526.1 L598.6 523.3 L598.0 520.5 L597.3 517.7 L596.5 514.9 L595.6 512.1 L594.6 509.4 L593.5 506.6 L592.3 503.9 L591.0 501.2 L589.6 498.5 L588.1 495.9 L586.6 493.4 L585.0 490.9 L583.3 488.5 L581.6 486.2 L579.7 484.0 L577.9 481.8 L576.0 479.8 L574.0 477.8 L572.0 476.0 L570.0 474.2 L567.9 472.6 L565.8 471.1 L563.7 469.8 L561.6 468.5 L559.5 467.4 L557.4 466.4 L555.3 465.6 L553.2 464.9 L551.1 464.4 L549.0 464.0 L547.0 463.7 L545.0 463.6 L543.0 463.6 L541.1 463.8 L539.3 464.2 L537.4 464.6 L535.7 465.2 L534.0 466.0 L532.4 466.9 L530.9 467.9 L529.4 469.1 L528.0 470.4 L526.7 471.8 L525.5 473.4 L524.4 475.1 L523.4 476.8 L522.5 478.7 L521.7 480.7 L521.0 482.8 L520.4 485.0 L519.9 487.3 L519.5 489.7 L519.2 492.1 L519.1 494.6 L519.0 497.2 L519.1 499.8 L519.2 502.5 L519.5 505.2 L519.9 507.9 L520.4 510.7 L521.0 513.5 L521.7 516.3 L522.5 519.1 L523.4 521.9 L524.4 524.6 L525.5 527.4 L526.7 530.1 L528.0 532.8 L529.4 535.5 L530.9 538.1 L532.4 540.6 L534.0 543.1 L535.7 545.5 L537.4 547.8 L539.3 550.0 L541.1 552.2 L543.0 554.2 L545.0 556.2 L547.0 558.0 L549.0 559.8 L551.1 561.4 L553.2 562.9 L555.3 564.2 L557.4 565.5 L559.5 566.6 L561.6 567.6 L563.7 568.4 L565.8 569.1 L567.9 569.6 L570.0 570.0 L572.0 570.3 L574.0 570.4 L576.0 570.4 L577.9 570.2 L579.7 569.8 L581.6 569.4 L583.3 568.8 L585.0 568.0 L586.6 567.1 L588.1 566.1 L589.6 564.9 L591.0 563.6 L592.3 562.2 L593.5 560.6 L594.6 558.9 L595.6 557.2 L596.5 555.3 L597.3 553.3 L598.0 551.2 L598.6 549.0 L599.1 546.7 L599.5 544.3 L599.8 541.9 L599.9 539.4Z" fill="none" stroke="#050707" stroke-width="2.80" stroke-linejoin="round"/>
<polygon points="646.3,634.7 644.0,637.3 641.6,639.7 639.1,642.0 636.5,644.1 633.7,646.0 630.9,647.8 628.0,649.4 625.0,650.9 621.9,652.1 618.8,653.2 615.5,654.1 612.2,654.8 608.8,655.4 605.4,655.7 601.9,655.9 598.4,655.9 594.8,655.7 591.1,655.4 587.4,654.8 583.7,654.1 580.0,653.2 576.2,652.1 572.4,650.8 568.6,649.4 564.8,647.8 561.0,646.0 557.1,644.1 553.3,641.9 549.5,639.7 545.7,637.2 542.0,634.6 538.2,631.9 534.5,629.0 530.8,625.9 527.2,622.7 523.6,619.4 520.0,615.9 516.5,612.3 513.1,608.6 509.7,604.8 506.4,600.8 503.2,596.7 500.0,592.6 496.9,588.3 493.9,583.9 491.0,579.5 488.2,575.0 485.4,570.3 482.8,565.7 480.3,560.9 477.9,556.1 475.5,551.3 473.3,546.4 471.2,541.4 469.3,536.5 467.4,531.5 465.7,526.4 464.1,521.4 462.6,516.4 461.2,511.3 460.0,506.3 458.9,501.3 458.0,496.3 457.1,491.3 456.4,486.4 455.9,481.5 455.5,476.6 455.2,471.8 455.0,467.1 455.0,462.4 455.2,457.8 455.4,453.2 455.8,448.8 456.4,444.4 457.1,440.1 457.9,436.0 458.8,431.9 459.9,427.9 461.1,424.1 462.5,420.4 463.9,416.8 465.5,413.3 467.3,410.0 469.1,406.8 471.1,403.7 473.2,400.8 475.4,398.1 477.7,395.5 480.1,393.0 482.6,390.7 485.2,388.6 487.9,386.6 490.8,384.9 493.7,383.2 496.7,381.8 499.7,380.5 502.9,379.5 506.1,378.5 509.4,377.8 512.8,377.3 516.2,376.9 519.7,376.7 523.3,376.7 526.9,376.9 530.5,377.2 534.2,377.8 537.9,378.5 541.7,379.4 545.4,380.5 549.2,381.7 553.0,383.1 556.8,384.7 560.7,386.5 564.5,388.5 568.3,390.6 572.1,392.8 575.9,395.3 579.7,397.9 583.4,400.6 587.1,403.5 590.8,406.5 594.5,409.7 598.1,413.1 601.6,416.5 605.1,420.1 608.6,423.8 611.9,427.7 615.3,431.6 618.5,435.7 621.7,439.8 624.8,444.1 627.8,448.5 630.7,452.9 633.5,457.4 636.2,462.0 638.9,466.7 641.4,471.5 643.8,476.3 646.2,481.1 648.4,486.0 659.4,482.2 657.3,520.5 628.4,492.9 640.1,488.9 638.1,484.5 636.0,480.1 633.8,475.7 631.5,471.4 629.1,467.2 626.6,463.0 624.0,458.9 621.4,454.9 618.7,451.0 615.9,447.1 613.0,443.3 610.1,439.6 607.1,436.1 604.0,432.6 600.9,429.2 597.7,426.0 594.5,422.9 591.3,419.9 588.0,417.0 584.6,414.2 581.3,411.6 577.9,409.1 574.5,406.8 571.0,404.6 567.6,402.5 564.1,400.6 560.7,398.8 557.2,397.2 553.8,395.8 550.3,394.5 546.9,393.4 543.5,392.4 540.1,391.6 536.7,390.9 533.4,390.4 530.1,390.1 526.9,390.0 523.6,390.0 520.5,390.1 517.4,390.5 514.3,391.0 511.3,391.6 508.4,392.5 505.5,393.4 502.8,394.6 500.1,395.9 497.4,397.4 494.9,399.0 492.4,400.7 490.0,402.7 487.8,404.7 485.6,406.9 483.5,409.3 481.5,411.8 479.6,414.4 477.8,417.2 476.2,420.1 474.6,423.1 473.2,426.2 471.8,429.5 470.6,432.9 469.5,436.3 468.5,439.9 467.7,443.6 466.9,447.4 466.3,451.2 465.8,455.2 465.5,459.2 465.2,463.3 465.1,467.5 465.1,471.7 465.2,476.0 465.5,480.4 465.9,484.8 466.4,489.2 467.0,493.7 467.7,498.2 468.6,502.7 469.6,507.2 470.7,511.8 471.9,516.4 473.3,520.9 474.7,525.5 476.3,530.0 478.0,534.5 479.8,539.0 481.7,543.5 483.6,547.9 485.7,552.3 487.9,556.7 490.2,561.0 492.6,565.2 495.1,569.4 497.6,573.5 500.3,577.5 503.0,581.5 505.8,585.3 508.6,589.1 511.6,592.8 514.6,596.4 517.6,599.8 520.7,603.2 523.9,606.5 527.1,609.6 530.4,612.6 533.7,615.5 537.0,618.3 540.4,620.9 543.8,623.4 547.2,625.7 550.6,627.9 554.0,630.0 557.5,631.9 561.0,633.7 564.4,635.3 567.9,636.7 571.3,638.0 574.7,639.2 578.2,640.2 581.5,641.0 584.9,641.6 588.2,642.1 591.5,642.5 594.8,642.6 598.0,642.6 601.2,642.5 604.3,642.1 607.3,641.7 610.3,641.0 613.3,640.2 616.1,639.2 618.9,638.1 621.6,636.8 624.3,635.3 626.8,633.7 629.3,631.9 631.7,630.0 633.9,628.0 636.1,625.8 638.2,623.4" fill="#050707" stroke="#050707" stroke-width="2.40" stroke-linejoin="round" />
<polygon points="642.9,636.4 640.6,639.0 644.0,637.3 646.3,634.7" fill="#050707" stroke="#050707" stroke-width="1.00" stroke-linejoin="round" />
<polygon points="640.6,639.0 638.2,641.4 641.6,639.7 644.0,637.3" fill="#050707" stroke="#050707" stroke-width="1.00" stroke-linejoin="round" />
<polygon points="638.2,641.4 635.7,643.7 639.1,642.0 641.6,639.7" fill="#050707" stroke="#050707" stroke-width="1.00" stroke-linejoin="round" />
<polygon points="635.7,643.7 633.1,645.8 636.5,644.1 639.1,642.0" fill="#050707" stroke="#050707" stroke-width="1.00" stroke-linejoin="round" />
<polygon points="633.1,645.8 630.3,647.7 633.7,646.0 636.5,644.1" fill="#050707" stroke="#050707" stroke-width="1.00" stroke-linejoin="round" />
<polygon points="630.3,647.7 627.5,649.5 630.9,647.8 633.7,646.0" fill="#050707" stroke="#050707" stroke-width="1.00" stroke-linejoin="round" />
<polygon points="627.5,649.5 624.6,651.1 628.0,649.4 630.9,647.8" fill="#050707" stroke="#050707" stroke-width="1.00" stroke-linejoin="round" />
<polygon points="624.6,651.1 621.6,652.6 625.0,650.9 628.0,649.4" fill="#050707" stroke="#050707" stroke-width="1.00" stroke-linejoin="round" />
<polygon points="621.6,652.6 618.5,653.8 621.9,652.1 625.0,650.9" fill="#050707" stroke="#050707" stroke-width="1.00" stroke-linejoin="round" />
<polygon points="618.5,653.8 615.4,654.9 618.8,653.2 621.9,652.1" fill="#050707" stroke="#050707" stroke-width="1.00" stroke-linejoin="round" />
<polygon points="615.4,654.9 612.1,655.8 615.5,654.1 618.8,653.2" fill="#050707" stroke="#050707" stroke-width="1.00" stroke-linejoin="round" />
<polygon points="612.1,655.8 608.8,656.5 612.2,654.8 615.5,654.1" fill="#050707" stroke="#050707" stroke-width="1.00" stroke-linejoin="round" />
<polygon points="608.8,656.5 605.4,657.1 608.8,655.4 612.2,654.8" fill="#050707" stroke="#050707" stroke-width="1.00" stroke-linejoin="round" />
<polygon points="605.4,657.1 602.0,657.4 605.4,655.7 608.8,655.4" fill="#050707" stroke="#050707" stroke-width="1.00" stroke-linejoin="round" />
<polygon points="602.0,657.4 598.5,657.6 601.9,655.9 605.4,655.7" fill="#050707" stroke="#050707" stroke-width="1.00" stroke-linejoin="round" />
<polygon points="598.5,657.6 595.0,657.6 598.4,655.9 601.9,655.9" fill="#050707" stroke="#050707" stroke-width="1.00" stroke-linejoin="round" />
<polygon points="595.0,657.6 591.4,657.4 594.8,655.7 598.4,655.9" fill="#050707" stroke="#050707" stroke-width="1.00" stroke-linejoin="round" />
<polygon points="591.4,657.4 587.7,657.1 591.1,655.4 594.8,655.7" fill="#050707" stroke="#050707" stroke-width="1.00" stroke-linejoin="round" />
<polygon points="587.7,657.1 584.0,656.5 587.4,654.8 591.1,655.4" fill="#050707" stroke="#050707" stroke-width="1.00" stroke-linejoin="round" />
<polygon points="584.0,656.5 580.3,655.8 583.7,654.1 587.4,654.8" fill="#050707" stroke="#050707" stroke-width="1.00" stroke-linejoin="round" />
<polygon points="580.3,655.8 576.6,654.9 580.0,653.2 583.7,654.1" fill="#050707" stroke="#050707" stroke-width="1.00" stroke-linejoin="round" />
<polygon points="576.6,654.9 572.8,653.8 576.2,652.1 580.0,653.2" fill="#050707" stroke="#050707" stroke-width="1.00" stroke-linejoin="round" />
<polygon points="572.8,653.8 569.0,652.5 572.4,650.8 576.2,652.1" fill="#050707" stroke="#050707" stroke-width="1.00" stroke-linejoin="round" />
<polygon points="569.0,652.5 565.2,651.1 568.6,649.4 572.4,650.8" fill="#050707" stroke="#050707" stroke-width="1.00" stroke-linejoin="round" />
<polygon points="565.2,651.1 561.4,649.5 564.8,647.8 568.6,649.4" fill="#050707" stroke="#050707" stroke-width="1.00" stroke-linejoin="round" />
<polygon points="561.4,649.5 557.6,647.7 561.0,646.0 564.8,647.8" fill="#050707" stroke="#050707" stroke-width="1.00" stroke-linejoin="round" />
<polygon points="557.6,647.7 553.7,645.8 557.1,644.1 561.0,646.0" fill="#050707" stroke="#050707" stroke-width="1.00" stroke-linejoin="round" />
<polygon points="553.7,645.8 549.9,643.6 553.3,641.9 557.1,644.1" fill="#050707" stroke="#050707" stroke-width="1.00" stroke-linejoin="round" />
<polygon points="549.9,643.6 546.1,641.4 549.5,639.7 553.3,641.9" fill="#050707" stroke="#050707" stroke-width="1.00" stroke-linejoin="round" />
<polygon points="546.1,641.4 542.3,638.9 545.7,637.2 549.5,639.7" fill="#050707" stroke="#050707" stroke-width="1.00" stroke-linejoin="round" />
<polygon points="542.3,638.9 538.6,636.3 542.0,634.6 545.7,637.2" fill="#050707" stroke="#050707" stroke-width="1.00" stroke-linejoin="round" />
<polygon points="538.6,636.3 534.8,633.6 538.2,631.9 542.0,634.6" fill="#050707" stroke="#050707" stroke-width="1.00" stroke-linejoin="round" />
<polygon points="534.8,633.6 531.1,630.7 534.5,629.0 538.2,631.9" fill="#050707" stroke="#050707" stroke-width="1.00" stroke-linejoin="round" />
<polygon points="531.1,630.7 527.4,627.6 530.8,625.9 534.5,629.0" fill="#050707" stroke="#050707" stroke-width="1.00" stroke-linejoin="round" />
<polygon points="527.4,627.6 523.8,624.4 527.2,622.7 530.8,625.9" fill="#050707" stroke="#050707" stroke-width="1.00" stroke-linejoin="round" />
<polygon points="523.8,624.4 520.2,621.1 523.6,619.4 527.2,622.7" fill="#050707" stroke="#050707" stroke-width="1.00" stroke-linejoin="round" />
<polygon points="520.2,621.1 516.6,617.6 520.0,615.9 523.6,619.4" fill="#050707" stroke="#050707" stroke-width="1.00" stroke-linejoin="round" />
<polygon points="516.6,617.6 513.1,614.0 516.5,612.3 520.0,615.9" fill="#050707" stroke="#050707" stroke-width="1.00" stroke-linejoin="round" />
<polygon points="513.1,614.0 509.7,610.3 513.1,608.6 516.5,612.3" fill="#050707" stroke="#050707" stroke-width="1.00" stroke-linejoin="round" />
<polygon points="509.7,610.3 506.3,606.5 509.7,604.8 513.1,608.6" fill="#050707" stroke="#050707" stroke-width="1.00" stroke-linejoin="round" />
<polygon points="506.3,606.5 503.0,602.5 506.4,600.8 509.7,604.8" fill="#050707" stroke="#050707" stroke-width="1.00" stroke-linejoin="round" />
<polygon points="503.0,602.5 499.8,598.4 503.2,596.7 506.4,600.8" fill="#050707" stroke="#050707" stroke-width="1.00" stroke-linejoin="round" />
<polygon points="499.8,598.4 496.6,594.3 500.0,592.6 503.2,596.7" fill="#050707" stroke="#050707" stroke-width="1.00" stroke-linejoin="round" />
<polygon points="496.6,594.3 493.5,590.0 496.9,588.3 500.0,592.6" fill="#050707" stroke="#050707" stroke-width="1.00" stroke-linejoin="round" />
<polygon points="493.5,590.0 490.5,585.6 493.9,583.9 496.9,588.3" fill="#050707" stroke="#050707" stroke-width="1.00" stroke-linejoin="round" />
<polygon points="490.5,585.6 487.6,581.2 491.0,579.5 493.9,583.9" fill="#050707" stroke="#050707" stroke-width="1.00" stroke-linejoin="round" />
<polygon points="487.6,581.2 484.8,576.7 488.2,575.0 491.0,579.5" fill="#050707" stroke="#050707" stroke-width="1.00" stroke-linejoin="round" />
<polygon points="484.8,576.7 482.0,572.0 485.4,570.3 488.2,575.0" fill="#050707" stroke="#050707" stroke-width="1.00" stroke-linejoin="round" />
<polygon points="482.0,572.0 479.4,567.4 482.8,565.7 485.4,570.3" fill="#050707" stroke="#050707" stroke-width="1.00" stroke-linejoin="round" />
<polygon points="479.4,567.4 476.9,562.6 480.3,560.9 482.8,565.7" fill="#050707" stroke="#050707" stroke-width="1.00" stroke-linejoin="round" />
<polygon points="476.9,562.6 474.5,557.8 477.9,556.1 480.3,560.9" fill="#050707" stroke="#050707" stroke-width="1.00" stroke-linejoin="round" />
<polygon points="474.5,557.8 472.1,553.0 475.5,551.3 477.9,556.1" fill="#050707" stroke="#050707" stroke-width="1.00" stroke-linejoin="round" />
<polygon points="472.1,553.0 469.9,548.1 473.3,546.4 475.5,551.3" fill="#050707" stroke="#050707" stroke-width="1.00" stroke-linejoin="round" />
<polygon points="469.9,548.1 467.8,543.1 471.2,541.4 473.3,546.4" fill="#050707" stroke="#050707" stroke-width="1.00" stroke-linejoin="round" />
<polygon points="467.8,543.1 465.9,538.2 469.3,536.5 471.2,541.4" fill="#050707" stroke="#050707" stroke-width="1.00" stroke-linejoin="round" />
<polygon points="465.9,538.2 464.0,533.2 467.4,531.5 469.3,536.5" fill="#050707" stroke="#050707" stroke-width="1.00" stroke-linejoin="round" />
<polygon points="464.0,533.2 462.3,528.1 465.7,526.4 467.4,531.5" fill="#050707" stroke="#050707" stroke-width="1.00" stroke-linejoin="round" />
<polygon points="462.3,528.1 460.7,523.1 464.1,521.4 465.7,526.4" fill="#050707" stroke="#050707" stroke-width="1.00" stroke-linejoin="round" />
<polygon points="460.7,523.1 459.2,518.1 462.6,516.4 464.1,521.4" fill="#050707" stroke="#050707" stroke-width="1.00" stroke-linejoin="round" />
<polygon points="459.2,518.1 457.8,513.0 461.2,511.3 462.6,516.4" fill="#050707" stroke="#050707" stroke-width="1.00" stroke-linejoin="round" />
<polygon points="457.8,513.0 456.6,508.0 460.0,506.3 461.2,511.3" fill="#050707" stroke="#050707" stroke-width="1.00" stroke-linejoin="round" />
<polygon points="456.6,508.0 455.5,503.0 458.9,501.3 460.0,506.3" fill="#050707" stroke="#050707" stroke-width="1.00" stroke-linejoin="round" />
<polygon points="455.5,503.0 454.6,498.0 458.0,496.3 458.9,501.3" fill="#050707" stroke="#050707" stroke-width="1.00" stroke-linejoin="round" />
<polygon points="454.6,498.0 453.7,493.0 457.1,491.3 458.0,496.3" fill="#050707" stroke="#050707" stroke-width="1.00" stroke-linejoin="round" />
<polygon points="453.7,493.0 453.0,488.1 456.4,486.4 457.1,491.3" fill="#050707" stroke="#050707" stroke-width="1.00" stroke-linejoin="round" />
<polygon points="453.0,488.1 452.5,483.2 455.9,481.5 456.4,486.4" fill="#050707" stroke="#050707" stroke-width="1.00" stroke-linejoin="round" />
<polygon points="452.5,483.2 452.1,478.3 455.5,476.6 455.9,481.5" fill="#050707" stroke="#050707" stroke-width="1.00" stroke-linejoin="round" />
<polygon points="452.1,478.3 451.8,473.5 455.2,471.8 455.5,476.6" fill="#050707" stroke="#050707" stroke-width="1.00" stroke-linejoin="round" />
<polygon points="451.8,473.5 451.6,468.8 455.0,467.1 455.2,471.8" fill="#050707" stroke="#050707" stroke-width="1.00" stroke-linejoin="round" />
<polygon points="451.6,468.8 451.6,464.1 455.0,462.4 455.0,467.1" fill="#050707" stroke="#050707" stroke-width="1.00" stroke-linejoin="round" />
<polygon points="451.6,464.1 451.8,459.5 455.2,457.8 455.0,462.4" fill="#050707" stroke="#050707" stroke-width="1.00" stroke-linejoin="round" />
<polygon points="451.8,459.5 452.0,454.9 455.4,453.2 455.2,457.8" fill="#050707" stroke="#050707" stroke-width="1.00" stroke-linejoin="round" />
<polygon points="452.0,454.9 452.4,450.5 455.8,448.8 455.4,453.2" fill="#050707" stroke="#050707" stroke-width="1.00" stroke-linejoin="round" />
<polygon points="452.4,450.5 453.0,446.1 456.4,444.4 455.8,448.8" fill="#050707" stroke="#050707" stroke-width="1.00" stroke-linejoin="round" />
<polygon points="453.0,446.1 453.7,441.8 457.1,440.1 456.4,444.4" fill="#050707" stroke="#050707" stroke-width="1.00" stroke-linejoin="round" />
<polygon points="453.7,441.8 454.5,437.7 457.9,436.0 457.1,440.1" fill="#050707" stroke="#050707" stroke-width="1.00" stroke-linejoin="round" />
<polygon points="454.5,437.7 455.4,433.6 458.8,431.9 457.9,436.0" fill="#050707" stroke="#050707" stroke-width="1.00" stroke-linejoin="round" />
<polygon points="455.4,433.6 456.5,429.6 459.9,427.9 458.8,431.9" fill="#050707" stroke="#050707" stroke-width="1.00" stroke-linejoin="round" />
<polygon points="456.5,429.6 457.7,425.8 461.1,424.1 459.9,427.9" fill="#050707" stroke="#050707" stroke-width="1.00" stroke-linejoin="round" />
<polygon points="457.7,425.8 459.1,422.1 462.5,420.4 461.1,424.1" fill="#050707" stroke="#050707" stroke-width="1.00" stroke-linejoin="round" />
<polygon points="459.1,422.1 460.5,418.5 463.9,416.8 462.5,420.4" fill="#050707" stroke="#050707" stroke-width="1.00" stroke-linejoin="round" />
<polygon points="460.5,418.5 462.1,415.0 465.5,413.3 463.9,416.8" fill="#050707" stroke="#050707" stroke-width="1.00" stroke-linejoin="round" />
<polygon points="462.1,415.0 463.9,411.7 467.3,410.0 465.5,413.3" fill="#050707" stroke="#050707" stroke-width="1.00" stroke-linejoin="round" />
<polygon points="463.9,411.7 465.7,408.5 469.1,406.8 467.3,410.0" fill="#050707" stroke="#050707" stroke-width="1.00" stroke-linejoin="round" />
<polygon points="465.7,408.5 467.7,405.4 471.1,403.7 469.1,406.8" fill="#050707" stroke="#050707" stroke-width="1.00" stroke-linejoin="round" />
<polygon points="467.7,405.4 469.8,402.5 473.2,400.8 471.1,403.7" fill="#050707" stroke="#050707" stroke-width="1.00" stroke-linejoin="round" />
<polygon points="469.8,402.5 472.0,399.8 475.4,398.1 473.2,400.8" fill="#050707" stroke="#050707" stroke-width="1.00" stroke-linejoin="round" />
<polygon points="472.0,399.8 474.3,397.2 477.7,395.5 475.4,398.1" fill="#050707" stroke="#050707" stroke-width="1.00" stroke-linejoin="round" />
<polygon points="474.3,397.2 476.7,394.7 480.1,393.0 477.7,395.5" fill="#050707" stroke="#050707" stroke-width="1.00" stroke-linejoin="round" />
<polygon points="476.7,394.7 479.2,392.4 482.6,390.7 480.1,393.0" fill="#050707" stroke="#050707" stroke-width="1.00" stroke-linejoin="round" />
<polygon points="479.2,392.4 481.8,390.3 485.2,388.6 482.6,390.7" fill="#050707" stroke="#050707" stroke-width="1.00" stroke-linejoin="round" />
<polygon points="481.8,390.3 484.5,388.3 487.9,386.6 485.2,388.6" fill="#050707" stroke="#050707" stroke-width="1.00" stroke-linejoin="round" />
<polygon points="484.5,388.3 487.4,386.6 490.8,384.9 487.9,386.6" fill="#050707" stroke="#050707" stroke-width="1.00" stroke-linejoin="round" />
<polygon points="487.4,386.6 490.3,384.9 493.7,383.2 490.8,384.9" fill="#050707" stroke="#050707" stroke-width="1.00" stroke-linejoin="round" />
<polygon points="490.3,384.9 493.3,383.5 496.7,381.8 493.7,383.2" fill="#050707" stroke="#050707" stroke-width="1.00" stroke-linejoin="round" />
<polygon points="493.3,383.5 496.3,382.2 499.7,380.5 496.7,381.8" fill="#050707" stroke="#050707" stroke-width="1.00" stroke-linejoin="round" />
<polygon points="496.3,382.2 499.5,381.2 502.9,379.5 499.7,380.5" fill="#050707" stroke="#050707" stroke-width="1.00" stroke-linejoin="round" />
<polygon points="499.5,381.2 502.7,380.2 506.1,378.5 502.9,379.5" fill="#050707" stroke="#050707" stroke-width="1.00" stroke-linejoin="round" />
<polygon points="502.7,380.2 506.0,379.5 509.4,377.8 506.1,378.5" fill="#050707" stroke="#050707" stroke-width="1.00" stroke-linejoin="round" />
<polygon points="506.0,379.5 509.4,379.0 512.8,377.3 509.4,377.8" fill="#050707" stroke="#050707" stroke-width="1.00" stroke-linejoin="round" />
<polygon points="509.4,379.0 512.8,378.6 516.2,376.9 512.8,377.3" fill="#050707" stroke="#050707" stroke-width="1.00" stroke-linejoin="round" />
<polygon points="512.8,378.6 516.3,378.4 519.7,376.7 516.2,376.9" fill="#050707" stroke="#050707" stroke-width="1.00" stroke-linejoin="round" />
<polygon points="516.3,378.4 519.9,378.4 523.3,376.7 519.7,376.7" fill="#050707" stroke="#050707" stroke-width="1.00" stroke-linejoin="round" />
<polygon points="519.9,378.4 523.5,378.6 526.9,376.9 523.3,376.7" fill="#050707" stroke="#050707" stroke-width="1.00" stroke-linejoin="round" />
<polygon points="523.5,378.6 527.1,378.9 530.5,377.2 526.9,376.9" fill="#050707" stroke="#050707" stroke-width="1.00" stroke-linejoin="round" />
<polygon points="527.1,378.9 530.8,379.5 534.2,377.8 530.5,377.2" fill="#050707" stroke="#050707" stroke-width="1.00" stroke-linejoin="round" />
<polygon points="530.8,379.5 534.5,380.2 537.9,378.5 534.2,377.8" fill="#050707" stroke="#050707" stroke-width="1.00" stroke-linejoin="round" />
<polygon points="534.5,380.2 538.3,381.1 541.7,379.4 537.9,378.5" fill="#050707" stroke="#050707" stroke-width="1.00" stroke-linejoin="round" />
<polygon points="538.3,381.1 542.0,382.2 545.4,380.5 541.7,379.4" fill="#050707" stroke="#050707" stroke-width="1.00" stroke-linejoin="round" />
<polygon points="542.0,382.2 545.8,383.4 549.2,381.7 545.4,380.5" fill="#050707" stroke="#050707" stroke-width="1.00" stroke-linejoin="round" />
<polygon points="545.8,383.4 549.6,384.8 553.0,383.1 549.2,381.7" fill="#050707" stroke="#050707" stroke-width="1.00" stroke-linejoin="round" />
<polygon points="549.6,384.8 553.4,386.4 556.8,384.7 553.0,383.1" fill="#050707" stroke="#050707" stroke-width="1.00" stroke-linejoin="round" />
<polygon points="553.4,386.4 557.3,388.2 560.7,386.5 556.8,384.7" fill="#050707" stroke="#050707" stroke-width="1.00" stroke-linejoin="round" />
<polygon points="557.3,388.2 561.1,390.2 564.5,388.5 560.7,386.5" fill="#050707" stroke="#050707" stroke-width="1.00" stroke-linejoin="round" />
<polygon points="561.1,390.2 564.9,392.3 568.3,390.6 564.5,388.5" fill="#050707" stroke="#050707" stroke-width="1.00" stroke-linejoin="round" />
<polygon points="564.9,392.3 568.7,394.5 572.1,392.8 568.3,390.6" fill="#050707" stroke="#050707" stroke-width="1.00" stroke-linejoin="round" />
<polygon points="568.7,394.5 572.5,397.0 575.9,395.3 572.1,392.8" fill="#050707" stroke="#050707" stroke-width="1.00" stroke-linejoin="round" />
<polygon points="572.5,397.0 576.3,399.6 579.7,397.9 575.9,395.3" fill="#050707" stroke="#050707" stroke-width="1.00" stroke-linejoin="round" />
<polygon points="576.3,399.6 580.0,402.3 583.4,400.6 579.7,397.9" fill="#050707" stroke="#050707" stroke-width="1.00" stroke-linejoin="round" />
<polygon points="580.0,402.3 583.7,405.2 587.1,403.5 583.4,400.6" fill="#050707" stroke="#050707" stroke-width="1.00" stroke-linejoin="round" />
<polygon points="583.7,405.2 587.4,408.2 590.8,406.5 587.1,403.5" fill="#050707" stroke="#050707" stroke-width="1.00" stroke-linejoin="round" />
<polygon points="587.4,408.2 591.1,411.4 594.5,409.7 590.8,406.5" fill="#050707" stroke="#050707" stroke-width="1.00" stroke-linejoin="round" />
<polygon points="591.1,411.4 594.7,414.8 598.1,413.1 594.5,409.7" fill="#050707" stroke="#050707" stroke-width="1.00" stroke-linejoin="round" />
<polygon points="594.7,414.8 598.2,418.2 601.6,416.5 598.1,413.1" fill="#050707" stroke="#050707" stroke-width="1.00" stroke-linejoin="round" />
<polygon points="598.2,418.2 601.7,421.8 605.1,420.1 601.6,416.5" fill="#050707" stroke="#050707" stroke-width="1.00" stroke-linejoin="round" />
<polygon points="601.7,421.8 605.2,425.5 608.6,423.8 605.1,420.1" fill="#050707" stroke="#050707" stroke-width="1.00" stroke-linejoin="round" />
<polygon points="605.2,425.5 608.5,429.4 611.9,427.7 608.6,423.8" fill="#050707" stroke="#050707" stroke-width="1.00" stroke-linejoin="round" />
<polygon points="608.5,429.4 611.9,433.3 615.3,431.6 611.9,427.7" fill="#050707" stroke="#050707" stroke-width="1.00" stroke-linejoin="round" />
<polygon points="611.9,433.3 615.1,437.4 618.5,435.7 615.3,431.6" fill="#050707" stroke="#050707" stroke-width="1.00" stroke-linejoin="round" />
<polygon points="615.1,437.4 618.3,441.5 621.7,439.8 618.5,435.7" fill="#050707" stroke="#050707" stroke-width="1.00" stroke-linejoin="round" />
<polygon points="618.3,441.5 621.4,445.8 624.8,444.1 621.7,439.8" fill="#050707" stroke="#050707" stroke-width="1.00" stroke-linejoin="round" />
<polygon points="621.4,445.8 624.4,450.2 627.8,448.5 624.8,444.1" fill="#050707" stroke="#050707" stroke-width="1.00" stroke-linejoin="round" />
<polygon points="624.4,450.2 627.3,454.6 630.7,452.9 627.8,448.5" fill="#050707" stroke="#050707" stroke-width="1.00" stroke-linejoin="round" />
<polygon points="627.3,454.6 630.1,459.1 633.5,457.4 630.7,452.9" fill="#050707" stroke="#050707" stroke-width="1.00" stroke-linejoin="round" />
<polygon points="630.1,459.1 632.8,463.7 636.2,462.0 633.5,457.4" fill="#050707" stroke="#050707" stroke-width="1.00" stroke-linejoin="round" />
<polygon points="632.8,463.7 635.5,468.4 638.9,466.7 636.2,462.0" fill="#050707" stroke="#050707" stroke-width="1.00" stroke-linejoin="round" />
<polygon points="635.5,468.4 638.0,473.2 641.4,471.5 638.9,466.7" fill="#050707" stroke="#050707" stroke-width="1.00" stroke-linejoin="round" />
<polygon points="638.0,473.2 640.4,478.0 643.8,476.3 641.4,471.5" fill="#050707" stroke="#050707" stroke-width="1.00" stroke-linejoin="round" />
<polygon points="640.4,478.0 642.8,482.8 646.2,481.1 643.8,476.3" fill="#050707" stroke="#050707" stroke-width="1.00" stroke-linejoin="round" />
<polygon points="642.8,482.8 645.0,487.7 648.4,486.0 646.2,481.1" fill="#050707" stroke="#050707" stroke-width="1.00" stroke-linejoin="round" />
<polygon points="645.0,487.7 656.0,483.9 659.4,482.2 648.4,486.0" fill="#050707" stroke="#050707" stroke-width="1.00" stroke-linejoin="round" />
<polygon points="656.0,483.9 653.9,522.2 657.3,520.5 659.4,482.2" fill="#050707" stroke="#050707" stroke-width="1.00" stroke-linejoin="round" />
<polygon points="653.9,522.2 625.0,494.6 628.4,492.9 657.3,520.5" fill="#050707" stroke="#050707" stroke-width="1.00" stroke-linejoin="round" />
<polygon points="625.0,494.6 636.7,490.6 640.1,488.9 628.4,492.9" fill="#050707" stroke="#050707" stroke-width="1.00" stroke-linejoin="round" />
<polygon points="636.7,490.6 634.7,486.2 638.1,484.5 640.1,488.9" fill="#050707" stroke="#050707" stroke-width="1.00" stroke-linejoin="round" />
<polygon points="634.7,486.2 632.6,481.8 636.0,480.1 638.1,484.5" fill="#050707" stroke="#050707" stroke-width="1.00" stroke-linejoin="round" />
<polygon points="632.6,481.8 630.4,477.4 633.8,475.7 636.0,480.1" fill="#050707" stroke="#050707" stroke-width="1.00" stroke-linejoin="round" />
<polygon points="630.4,477.4 628.1,473.1 631.5,471.4 633.8,475.7" fill="#050707" stroke="#050707" stroke-width="1.00" stroke-linejoin="round" />
<polygon points="628.1,473.1 625.7,468.9 629.1,467.2 631.5,471.4" fill="#050707" stroke="#050707" stroke-width="1.00" stroke-linejoin="round" />
<polygon points="625.7,468.9 623.2,464.7 626.6,463.0 629.1,467.2" fill="#050707" stroke="#050707" stroke-width="1.00" stroke-linejoin="round" />
<polygon points="623.2,464.7 620.6,460.6 624.0,458.9 626.6,463.0" fill="#050707" stroke="#050707" stroke-width="1.00" stroke-linejoin="round" />
<polygon points="620.6,460.6 618.0,456.6 621.4,454.9 624.0,458.9" fill="#050707" stroke="#050707" stroke-width="1.00" stroke-linejoin="round" />
<polygon points="618.0,456.6 615.3,452.7 618.7,451.0 621.4,454.9" fill="#050707" stroke="#050707" stroke-width="1.00" stroke-linejoin="round" />
<polygon points="615.3,452.7 612.5,448.8 615.9,447.1 618.7,451.0" fill="#050707" stroke="#050707" stroke-width="1.00" stroke-linejoin="round" />
<polygon points="612.5,448.8 609.6,445.0 613.0,443.3 615.9,447.1" fill="#050707" stroke="#050707" stroke-width="1.00" stroke-linejoin="round" />
<polygon points="609.6,445.0 606.7,441.3 610.1,439.6 613.0,443.3" fill="#050707" stroke="#050707" stroke-width="1.00" stroke-linejoin="round" />
<polygon points="606.7,441.3 603.7,437.8 607.1,436.1 610.1,439.6" fill="#050707" stroke="#050707" stroke-width="1.00" stroke-linejoin="round" />
<polygon points="603.7,437.8 600.6,434.3 604.0,432.6 607.1,436.1" fill="#050707" stroke="#050707" stroke-width="1.00" stroke-linejoin="round" />
<polygon points="600.6,434.3 597.5,430.9 600.9,429.2 604.0,432.6" fill="#050707" stroke="#050707" stroke-width="1.00" stroke-linejoin="round" />
<polygon points="597.5,430.9 594.3,427.7 597.7,426.0 600.9,429.2" fill="#050707" stroke="#050707" stroke-width="1.00" stroke-linejoin="round" />
<polygon points="594.3,427.7 591.1,424.6 594.5,422.9 597.7,426.0" fill="#050707" stroke="#050707" stroke-width="1.00" stroke-linejoin="round" />
<polygon points="591.1,424.6 587.9,421.6 591.3,419.9 594.5,422.9" fill="#050707" stroke="#050707" stroke-width="1.00" stroke-linejoin="round" />
<polygon points="587.9,421.6 584.6,418.7 588.0,417.0 591.3,419.9" fill="#050707" stroke="#050707" stroke-width="1.00" stroke-linejoin="round" />
<polygon points="584.6,418.7 581.2,415.9 584.6,414.2 588.0,417.0" fill="#050707" stroke="#050707" stroke-width="1.00" stroke-linejoin="round" />
<polygon points="581.2,415.9 577.9,413.3 581.3,411.6 584.6,414.2" fill="#050707" stroke="#050707" stroke-width="1.00" stroke-linejoin="round" />
<polygon points="577.9,413.3 574.5,410.8 577.9,409.1 581.3,411.6" fill="#050707" stroke="#050707" stroke-width="1.00" stroke-linejoin="round" />
<polygon points="574.5,410.8 571.1,408.5 574.5,406.8 577.9,409.1" fill="#050707" stroke="#050707" stroke-width="1.00" stroke-linejoin="round" />
<polygon points="571.1,408.5 567.6,406.3 571.0,404.6 574.5,406.8" fill="#050707" stroke="#050707" stroke-width="1.00" stroke-linejoin="round" />
<polygon points="567.6,406.3 564.2,404.2 567.6,402.5 571.0,404.6" fill="#050707" stroke="#050707" stroke-width="1.00" stroke-linejoin="round" />
<polygon points="564.2,404.2 560.7,402.3 564.1,400.6 567.6,402.5" fill="#050707" stroke="#050707" stroke-width="1.00" stroke-linejoin="round" />
<polygon points="560.7,402.3 557.3,400.5 560.7,398.8 564.1,400.6" fill="#050707" stroke="#050707" stroke-width="1.00" stroke-linejoin="round" />
<polygon points="557.3,400.5 553.8,398.9 557.2,397.2 560.7,398.8" fill="#050707" stroke="#050707" stroke-width="1.00" stroke-linejoin="round" />
<polygon points="553.8,398.9 550.4,397.5 553.8,395.8 557.2,397.2" fill="#050707" stroke="#050707" stroke-width="1.00" stroke-linejoin="round" />
<polygon points="550.4,397.5 546.9,396.2 550.3,394.5 553.8,395.8" fill="#050707" stroke="#050707" stroke-width="1.00" stroke-linejoin="round" />
<polygon points="546.9,396.2 543.5,395.1 546.9,393.4 550.3,394.5" fill="#050707" stroke="#050707" stroke-width="1.00" stroke-linejoin="round" />
<polygon points="543.5,395.1 540.1,394.1 543.5,392.4 546.9,393.4" fill="#050707" stroke="#050707" stroke-width="1.00" stroke-linejoin="round" />
<polygon points="540.1,394.1 536.7,393.3 540.1,391.6 543.5,392.4" fill="#050707" stroke="#050707" stroke-width="1.00" stroke-linejoin="round" />
<polygon points="536.7,393.3 533.3,392.6 536.7,390.9 540.1,391.6" fill="#050707" stroke="#050707" stroke-width="1.00" stroke-linejoin="round" />
<polygon points="533.3,392.6 530.0,392.1 533.4,390.4 536.7,390.9" fill="#050707" stroke="#050707" stroke-width="1.00" stroke-linejoin="round" />
<polygon points="530.0,392.1 526.7,391.8 530.1,390.1 533.4,390.4" fill="#050707" stroke="#050707" stroke-width="1.00" stroke-linejoin="round" />
<polygon points="526.7,391.8 523.5,391.7 526.9,390.0 530.1,390.1" fill="#050707" stroke="#050707" stroke-width="1.00" stroke-linejoin="round" />
<polygon points="523.5,391.7 520.2,391.7 523.6,390.0 526.9,390.0" fill="#050707" stroke="#050707" stroke-width="1.00" stroke-linejoin="round" />
<polygon points="520.2,391.7 517.1,391.8 520.5,390.1 523.6,390.0" fill="#050707" stroke="#050707" stroke-width="1.00" stroke-linejoin="round" />
<polygon points="517.1,391.8 514.0,392.2 517.4,390.5 520.5,390.1" fill="#050707" stroke="#050707" stroke-width="1.00" stroke-linejoin="round" />
<polygon points="514.0,392.2 510.9,392.7 514.3,391.0 517.4,390.5" fill="#050707" stroke="#050707" stroke-width="1.00" stroke-linejoin="round" />
<polygon points="510.9,392.7 507.9,393.3 511.3,391.6 514.3,391.0" fill="#050707" stroke="#050707" stroke-width="1.00" stroke-linejoin="round" />
<polygon points="507.9,393.3 505.0,394.2 508.4,392.5 511.3,391.6" fill="#050707" stroke="#050707" stroke-width="1.00" stroke-linejoin="round" />
<polygon points="505.0,394.2 502.1,395.1 505.5,393.4 508.4,392.5" fill="#050707" stroke="#050707" stroke-width="1.00" stroke-linejoin="round" />
<polygon points="502.1,395.1 499.4,396.3 502.8,394.6 505.5,393.4" fill="#050707" stroke="#050707" stroke-width="1.00" stroke-linejoin="round" />
<polygon points="499.4,396.3 496.7,397.6 500.1,395.9 502.8,394.6" fill="#050707" stroke="#050707" stroke-width="1.00" stroke-linejoin="round" />
<polygon points="496.7,397.6 494.0,399.1 497.4,397.4 500.1,395.9" fill="#050707" stroke="#050707" stroke-width="1.00" stroke-linejoin="round" />
<polygon points="494.0,399.1 491.5,400.7 494.9,399.0 497.4,397.4" fill="#050707" stroke="#050707" stroke-width="1.00" stroke-linejoin="round" />
<polygon points="491.5,400.7 489.0,402.4 492.4,400.7 494.9,399.0" fill="#050707" stroke="#050707" stroke-width="1.00" stroke-linejoin="round" />
<polygon points="489.0,402.4 486.6,404.4 490.0,402.7 492.4,400.7" fill="#050707" stroke="#050707" stroke-width="1.00" stroke-linejoin="round" />
<polygon points="486.6,404.4 484.4,406.4 487.8,404.7 490.0,402.7" fill="#050707" stroke="#050707" stroke-width="1.00" stroke-linejoin="round" />
<polygon points="484.4,406.4 482.2,408.6 485.6,406.9 487.8,404.7" fill="#050707" stroke="#050707" stroke-width="1.00" stroke-linejoin="round" />
<polygon points="482.2,408.6 480.1,411.0 483.5,409.3 485.6,406.9" fill="#050707" stroke="#050707" stroke-width="1.00" stroke-linejoin="round" />
<polygon points="480.1,411.0 478.1,413.5 481.5,411.8 483.5,409.3" fill="#050707" stroke="#050707" stroke-width="1.00" stroke-linejoin="round" />
<polygon points="478.1,413.5 476.2,416.1 479.6,414.4 481.5,411.8" fill="#050707" stroke="#050707" stroke-width="1.00" stroke-linejoin="round" />
<polygon points="476.2,416.1 474.4,418.9 477.8,417.2 479.6,414.4" fill="#050707" stroke="#050707" stroke-width="1.00" stroke-linejoin="round" />
<polygon points="474.4,418.9 472.8,421.8 476.2,420.1 477.8,417.2" fill="#050707" stroke="#050707" stroke-width="1.00" stroke-linejoin="round" />
<polygon points="472.8,421.8 471.2,424.8 474.6,423.1 476.2,420.1" fill="#050707" stroke="#050707" stroke-width="1.00" stroke-linejoin="round" />
<polygon points="471.2,424.8 469.8,427.9 473.2,426.2 474.6,423.1" fill="#050707" stroke="#050707" stroke-width="1.00" stroke-linejoin="round" />
<polygon points="469.8,427.9 468.4,431.2 471.8,429.5 473.2,426.2" fill="#050707" stroke="#050707" stroke-width="1.00" stroke-linejoin="round" />
<polygon points="468.4,431.2 467.2,434.6 470.6,432.9 471.8,429.5" fill="#050707" stroke="#050707" stroke-width="1.00" stroke-linejoin="round" />
<polygon points="467.2,434.6 466.1,438.0 469.5,436.3 470.6,432.9" fill="#050707" stroke="#050707" stroke-width="1.00" stroke-linejoin="round" />
<polygon points="466.1,438.0 465.1,441.6 468.5,439.9 469.5,436.3" fill="#050707" stroke="#050707" stroke-width="1.00" stroke-linejoin="round" />
<polygon points="465.1,441.6 464.3,445.3 467.7,443.6 468.5,439.9" fill="#050707" stroke="#050707" stroke-width="1.00" stroke-linejoin="round" />
<polygon points="464.3,445.3 463.5,449.1 466.9,447.4 467.7,443.6" fill="#050707" stroke="#050707" stroke-width="1.00" stroke-linejoin="round" />
<polygon points="463.5,449.1 462.9,452.9 466.3,451.2 466.9,447.4" fill="#050707" stroke="#050707" stroke-width="1.00" stroke-linejoin="round" />
<polygon points="462.9,452.9 462.4,456.9 465.8,455.2 466.3,451.2" fill="#050707" stroke="#050707" stroke-width="1.00" stroke-linejoin="round" />
<polygon points="462.4,456.9 462.1,460.9 465.5,459.2 465.8,455.2" fill="#050707" stroke="#050707" stroke-width="1.00" stroke-linejoin="round" />
<polygon points="462.1,460.9 461.8,465.0 465.2,463.3 465.5,459.2" fill="#050707" stroke="#050707" stroke-width="1.00" stroke-linejoin="round" />
<polygon points="461.8,465.0 461.7,469.2 465.1,467.5 465.2,463.3" fill="#050707" stroke="#050707" stroke-width="1.00" stroke-linejoin="round" />
<polygon points="461.7,469.2 461.7,473.4 465.1,471.7 465.1,467.5" fill="#050707" stroke="#050707" stroke-width="1.00" stroke-linejoin="round" />
<polygon points="461.7,473.4 461.8,477.7 465.2,476.0 465.1,471.7" fill="#050707" stroke="#050707" stroke-width="1.00" stroke-linejoin="round" />
<polygon points="461.8,477.7 462.1,482.1 465.5,480.4 465.2,476.0" fill="#050707" stroke="#050707" stroke-width="1.00" stroke-linejoin="round" />
<polygon points="462.1,482.1 462.5,486.5 465.9,484.8 465.5,480.4" fill="#050707" stroke="#050707" stroke-width="1.00" stroke-linejoin="round" />
<polygon points="462.5,486.5 463.0,490.9 466.4,489.2 465.9,484.8" fill="#050707" stroke="#050707" stroke-width="1.00" stroke-linejoin="round" />
<polygon points="463.0,490.9 463.6,495.4 467.0,493.7 466.4,489.2" fill="#050707" stroke="#050707" stroke-width="1.00" stroke-linejoin="round" />
<polygon points="463.6,495.4 464.3,499.9 467.7,498.2 467.0,493.7" fill="#050707" stroke="#050707" stroke-width="1.00" stroke-linejoin="round" />
<polygon points="464.3,499.9 465.2,504.4 468.6,502.7 467.7,498.2" fill="#050707" stroke="#050707" stroke-width="1.00" stroke-linejoin="round" />
<polygon points="465.2,504.4 466.2,508.9 469.6,507.2 468.6,502.7" fill="#050707" stroke="#050707" stroke-width="1.00" stroke-linejoin="round" />
<polygon points="466.2,508.9 467.3,513.5 470.7,511.8 469.6,507.2" fill="#050707" stroke="#050707" stroke-width="1.00" stroke-linejoin="round" />
<polygon points="467.3,513.5 468.5,518.1 471.9,516.4 470.7,511.8" fill="#050707" stroke="#050707" stroke-width="1.00" stroke-linejoin="round" />
<polygon points="468.5,518.1 469.9,522.6 473.3,520.9 471.9,516.4" fill="#050707" stroke="#050707" stroke-width="1.00" stroke-linejoin="round" />
<polygon points="469.9,522.6 471.3,527.2 474.7,525.5 473.3,520.9" fill="#050707" stroke="#050707" stroke-width="1.00" stroke-linejoin="round" />
<polygon points="471.3,527.2 472.9,531.7 476.3,530.0 474.7,525.5" fill="#050707" stroke="#050707" stroke-width="1.00" stroke-linejoin="round" />
<polygon points="472.9,531.7 474.6,536.2 478.0,534.5 476.3,530.0" fill="#050707" stroke="#050707" stroke-width="1.00" stroke-linejoin="round" />
<polygon points="474.6,536.2 476.4,540.7 479.8,539.0 478.0,534.5" fill="#050707" stroke="#050707" stroke-width="1.00" stroke-linejoin="round" />
<polygon points="476.4,540.7 478.3,545.2 481.7,543.5 479.8,539.0" fill="#050707" stroke="#050707" stroke-width="1.00" stroke-linejoin="round" />
<polygon points="478.3,545.2 480.2,549.6 483.6,547.9 481.7,543.5" fill="#050707" stroke="#050707" stroke-width="1.00" stroke-linejoin="round" />
<polygon points="480.2,549.6 482.3,554.0 485.7,552.3 483.6,547.9" fill="#050707" stroke="#050707" stroke-width="1.00" stroke-linejoin="round" />
<polygon points="482.3,554.0 484.5,558.4 487.9,556.7 485.7,552.3" fill="#050707" stroke="#050707" stroke-width="1.00" stroke-linejoin="round" />
<polygon points="484.5,558.4 486.8,562.7 490.2,561.0 487.9,556.7" fill="#050707" stroke="#050707" stroke-width="1.00" stroke-linejoin="round" />
<polygon points="486.8,562.7 489.2,566.9 492.6,565.2 490.2,561.0" fill="#050707" stroke="#050707" stroke-width="1.00" stroke-linejoin="round" />
<polygon points="489.2,566.9 491.7,571.1 495.1,569.4 492.6,565.2" fill="#050707" stroke="#050707" stroke-width="1.00" stroke-linejoin="round" />
<polygon points="491.7,571.1 494.2,575.2 497.6,573.5 495.1,569.4" fill="#050707" stroke="#050707" stroke-width="1.00" stroke-linejoin="round" />
<polygon points="494.2,575.2 496.9,579.2 500.3,577.5 497.6,573.5" fill="#050707" stroke="#050707" stroke-width="1.00" stroke-linejoin="round" />
<polygon points="496.9,579.2 499.6,583.2 503.0,581.5 500.3,577.5" fill="#050707" stroke="#050707" stroke-width="1.00" stroke-linejoin="round" />
<polygon points="499.6,583.2 502.4,587.0 505.8,585.3 503.0,581.5" fill="#050707" stroke="#050707" stroke-width="1.00" stroke-linejoin="round" />
<polygon points="502.4,587.0 505.2,590.8 508.6,589.1 505.8,585.3" fill="#050707" stroke="#050707" stroke-width="1.00" stroke-linejoin="round" />
<polygon points="505.2,590.8 508.2,594.5 511.6,592.8 508.6,589.1" fill="#050707" stroke="#050707" stroke-width="1.00" stroke-linejoin="round" />
<polygon points="508.2,594.5 511.2,598.1 514.6,596.4 511.6,592.8" fill="#050707" stroke="#050707" stroke-width="1.00" stroke-linejoin="round" />
<polygon points="511.2,598.1 514.2,601.5 517.6,599.8 514.6,596.4" fill="#050707" stroke="#050707" stroke-width="1.00" stroke-linejoin="round" />
<polygon points="514.2,601.5 517.3,604.9 520.7,603.2 517.6,599.8" fill="#050707" stroke="#050707" stroke-width="1.00" stroke-linejoin="round" />
<polygon points="517.3,604.9 520.5,608.2 523.9,606.5 520.7,603.2" fill="#050707" stroke="#050707" stroke-width="1.00" stroke-linejoin="round" />
<polygon points="520.5,608.2 523.7,611.3 527.1,609.6 523.9,606.5" fill="#050707" stroke="#050707" stroke-width="1.00" stroke-linejoin="round" />
<polygon points="523.7,611.3 527.0,614.3 530.4,612.6 527.1,609.6" fill="#050707" stroke="#050707" stroke-width="1.00" stroke-linejoin="round" />
<polygon points="527.0,614.3 530.3,617.2 533.7,615.5 530.4,612.6" fill="#050707" stroke="#050707" stroke-width="1.00" stroke-linejoin="round" />
<polygon points="530.3,617.2 533.6,620.0 537.0,618.3 533.7,615.5" fill="#050707" stroke="#050707" stroke-width="1.00" stroke-linejoin="round" />
<polygon points="533.6,620.0 537.0,622.6 540.4,620.9 537.0,618.3" fill="#050707" stroke="#050707" stroke-width="1.00" stroke-linejoin="round" />
<polygon points="537.0,622.6 540.4,625.1 543.8,623.4 540.4,620.9" fill="#050707" stroke="#050707" stroke-width="1.00" stroke-linejoin="round" />
<polygon points="540.4,625.1 543.8,627.4 547.2,625.7 543.8,623.4" fill="#050707" stroke="#050707" stroke-width="1.00" stroke-linejoin="round" />
<polygon points="543.8,627.4 547.2,629.6 550.6,627.9 547.2,625.7" fill="#050707" stroke="#050707" stroke-width="1.00" stroke-linejoin="round" />
<polygon points="547.2,629.6 550.6,631.7 554.0,630.0 550.6,627.9" fill="#050707" stroke="#050707" stroke-width="1.00" stroke-linejoin="round" />
<polygon points="550.6,631.7 554.1,633.6 557.5,631.9 554.0,630.0" fill="#050707" stroke="#050707" stroke-width="1.00" stroke-linejoin="round" />
<polygon points="554.1,633.6 557.6,635.4 561.0,633.7 557.5,631.9" fill="#050707" stroke="#050707" stroke-width="1.00" stroke-linejoin="round" />
<polygon points="557.6,635.4 561.0,637.0 564.4,635.3 561.0,633.7" fill="#050707" stroke="#050707" stroke-width="1.00" stroke-linejoin="round" />
<polygon points="561.0,637.0 564.5,638.4 567.9,636.7 564.4,635.3" fill="#050707" stroke="#050707" stroke-width="1.00" stroke-linejoin="round" />
<polygon points="564.5,638.4 567.9,639.7 571.3,638.0 567.9,636.7" fill="#050707" stroke="#050707" stroke-width="1.00" stroke-linejoin="round" />
<polygon points="567.9,639.7 571.3,640.9 574.7,639.2 571.3,638.0" fill="#050707" stroke="#050707" stroke-width="1.00" stroke-linejoin="round" />
<polygon points="571.3,640.9 574.8,641.9 578.2,640.2 574.7,639.2" fill="#050707" stroke="#050707" stroke-width="1.00" stroke-linejoin="round" />
<polygon points="574.8,641.9 578.1,642.7 581.5,641.0 578.2,640.2" fill="#050707" stroke="#050707" stroke-width="1.00" stroke-linejoin="round" />
<polygon points="578.1,642.7 581.5,643.3 584.9,641.6 581.5,641.0" fill="#050707" stroke="#050707" stroke-width="1.00" stroke-linejoin="round" />
<polygon points="581.5,643.3 584.8,643.8 588.2,642.1 584.9,641.6" fill="#050707" stroke="#050707" stroke-width="1.00" stroke-linejoin="round" />
<polygon points="584.8,643.8 588.1,644.2 591.5,642.5 588.2,642.1" fill="#050707" stroke="#050707" stroke-width="1.00" stroke-linejoin="round" />
<polygon points="588.1,644.2 591.4,644.3 594.8,642.6 591.5,642.5" fill="#050707" stroke="#050707" stroke-width="1.00" stroke-linejoin="round" />
<polygon points="591.4,644.3 594.6,644.3 598.0,642.6 594.8,642.6" fill="#050707" stroke="#050707" stroke-width="1.00" stroke-linejoin="round" />
<polygon points="594.6,644.3 597.8,644.2 601.2,642.5 598.0,642.6" fill="#050707" stroke="#050707" stroke-width="1.00" stroke-linejoin="round" />
<polygon points="597.8,644.2 600.9,643.8 604.3,642.1 601.2,642.5" fill="#050707" stroke="#050707" stroke-width="1.00" stroke-linejoin="round" />
<polygon points="600.9,643.8 603.9,643.4 607.3,641.7 604.3,642.1" fill="#050707" stroke="#050707" stroke-width="1.00" stroke-linejoin="round" />
<polygon points="603.9,643.4 606.9,642.7 610.3,641.0 607.3,641.7" fill="#050707" stroke="#050707" stroke-width="1.00" stroke-linejoin="round" />
<polygon points="606.9,642.7 609.9,641.9 613.3,640.2 610.3,641.0" fill="#050707" stroke="#050707" stroke-width="1.00" stroke-linejoin="round" />
<polygon points="609.9,641.9 612.7,640.9 616.1,639.2 613.3,640.2" fill="#050707" stroke="#050707" stroke-width="1.00" stroke-linejoin="round" />
<polygon points="612.7,640.9 615.5,639.8 618.9,638.1 616.1,639.2" fill="#050707" stroke="#050707" stroke-width="1.00" stroke-linejoin="round" />
<polygon points="615.5,639.8 618.2,638.5 621.6,636.8 618.9,638.1" fill="#050707" stroke="#050707" stroke-width="1.00" stroke-linejoin="round" />
<polygon points="618.2,638.5 620.9,637.0 624.3,635.3 621.6,636.8" fill="#050707" stroke="#050707" stroke-width="1.00" stroke-linejoin="round" />
<polygon points="620.9,637.0 623.4,635.4 626.8,633.7 624.3,635.3" fill="#050707" stroke="#050707" stroke-width="1.00" stroke-linejoin="round" />
<polygon points="623.4,635.4 625.9,633.6 629.3,631.9 626.8,633.7" fill="#050707" stroke="#050707" stroke-width="1.00" stroke-linejoin="round" />
<polygon points="625.9,633.6 628.3,631.7 631.7,630.0 629.3,631.9" fill="#050707" stroke="#050707" stroke-width="1.00" stroke-linejoin="round" />
<polygon points="628.3,631.7 630.5,629.7 633.9,628.0 631.7,630.0" fill="#050707" stroke="#050707" stroke-width="1.00" stroke-linejoin="round" />
<polygon points="630.5,629.7 632.7,627.5 636.1,625.8 633.9,628.0" fill="#050707" stroke="#050707" stroke-width="1.00" stroke-linejoin="round" />
<polygon points="632.7,627.5 634.8,625.1 638.2,623.4 636.1,625.8" fill="#050707" stroke="#050707" stroke-width="1.00" stroke-linejoin="round" />
<polygon points="634.8,625.1 642.9,636.4 646.3,634.7 638.2,623.4" fill="#050707" stroke="#050707" stroke-width="1.00" stroke-linejoin="round" />
<polygon points="642.9,636.4 640.6,639.0 638.2,641.4 635.7,643.7 633.1,645.8 630.3,647.7 627.5,649.5 624.6,651.1 621.6,652.6 618.5,653.8 615.4,654.9 612.1,655.8 608.8,656.5 605.4,657.1 602.0,657.4 598.5,657.6 595.0,657.6 591.4,657.4 587.7,657.1 584.0,656.5 580.3,655.8 576.6,654.9 572.8,653.8 569.0,652.5 565.2,651.1 561.4,649.5 557.6,647.7 553.7,645.8 549.9,643.6 546.1,641.4 542.3,638.9 538.6,636.3 534.8,633.6 531.1,630.7 527.4,627.6 523.8,624.4 520.2,621.1 516.6,617.6 513.1,614.0 509.7,610.3 506.3,606.5 503.0,602.5 499.8,598.4 496.6,594.3 493.5,590.0 490.5,585.6 487.6,581.2 484.8,576.7 482.0,572.0 479.4,567.4 476.9,562.6 474.5,557.8 472.1,553.0 469.9,548.1 467.8,543.1 465.9,538.2 464.0,533.2 462.3,528.1 460.7,523.1 459.2,518.1 457.8,513.0 456.6,508.0 455.5,503.0 454.6,498.0 453.7,493.0 453.0,488.1 452.5,483.2 452.1,478.3 451.8,473.5 451.6,468.8 451.6,464.1 451.8,459.5 452.0,454.9 452.4,450.5 453.0,446.1 453.7,441.8 454.5,437.7 455.4,433.6 456.5,429.6 457.7,425.8 459.1,422.1 460.5,418.5 462.1,415.0 463.9,411.7 465.7,408.5 467.7,405.4 469.8,402.5 472.0,399.8 474.3,397.2 476.7,394.7 479.2,392.4 481.8,390.3 484.5,388.3 487.4,386.6 490.3,384.9 493.3,383.5 496.3,382.2 499.5,381.2 502.7,380.2 506.0,379.5 509.4,379.0 512.8,378.6 516.3,378.4 519.9,378.4 523.5,378.6 527.1,378.9 530.8,379.5 534.5,380.2 538.3,381.1 542.0,382.2 545.8,383.4 549.6,384.8 553.4,386.4 557.3,388.2 561.1,390.2 564.9,392.3 568.7,394.5 572.5,397.0 576.3,399.6 580.0,402.3 583.7,405.2 587.4,408.2 591.1,411.4 594.7,414.8 598.2,418.2 601.7,421.8 605.2,425.5 608.5,429.4 611.9,433.3 615.1,437.4 618.3,441.5 621.4,445.8 624.4,450.2 627.3,454.6 630.1,459.1 632.8,463.7 635.5,468.4 638.0,473.2 640.4,478.0 642.8,482.8 645.0,487.7 656.0,483.9 653.9,522.2 625.0,494.6 636.7,490.6 634.7,486.2 632.6,481.8 630.4,477.4 628.1,473.1 625.7,468.9 623.2,464.7 620.6,460.6 618.0,456.6 615.3,452.7 612.5,448.8 609.6,445.0 606.7,441.3 603.7,437.8 600.6,434.3 597.5,430.9 594.3,427.7 591.1,424.6 587.9,421.6 584.6,418.7 581.2,415.9 577.9,413.3 574.5,410.8 571.1,408.5 567.6,406.3 564.2,404.2 560.7,402.3 557.3,400.5 553.8,398.9 550.4,397.5 546.9,396.2 543.5,395.1 540.1,394.1 536.7,393.3 533.3,392.6 530.0,392.1 526.7,391.8 523.5,391.7 520.2,391.7 517.1,391.8 514.0,392.2 510.9,392.7 507.9,393.3 505.0,394.2 502.1,395.1 499.4,396.3 496.7,397.6 494.0,399.1 491.5,400.7 489.0,402.4 486.6,404.4 484.4,406.4 482.2,408.6 480.1,411.0 478.1,413.5 476.2,416.1 474.4,418.9 472.8,421.8 471.2,424.8 469.8,427.9 468.4,431.2 467.2,434.6 466.1,438.0 465.1,441.6 464.3,445.3 463.5,449.1 462.9,452.9 462.4,456.9 462.1,460.9 461.8,465.0 461.7,469.2 461.7,473.4 461.8,477.7 462.1,482.1 462.5,486.5 463.0,490.9 463.6,495.4 464.3,499.9 465.2,504.4 466.2,508.9 467.3,513.5 468.5,518.1 469.9,522.6 471.3,527.2 472.9,531.7 474.6,536.2 476.4,540.7 478.3,545.2 480.2,549.6 482.3,554.0 484.5,558.4 486.8,562.7 489.2,566.9 491.7,571.1 494.2,575.2 496.9,579.2 499.6,583.2 502.4,587.0 505.2,590.8 508.2,594.5 511.2,598.1 514.2,601.5 517.3,604.9 520.5,608.2 523.7,611.3 527.0,614.3 530.3,617.2 533.6,620.0 537.0,622.6 540.4,625.1 543.8,627.4 547.2,629.6 550.6,631.7 554.1,633.6 557.6,635.4 561.0,637.0 564.5,638.4 567.9,639.7 571.3,640.9 574.8,641.9 578.1,642.7 581.5,643.3 584.8,643.8 588.1,644.2 591.4,644.3 594.6,644.3 597.8,644.2 600.9,643.8 603.9,643.4 606.9,642.7 609.9,641.9 612.7,640.9 615.5,639.8 618.2,638.5 620.9,637.0 623.4,635.4 625.9,633.6 628.3,631.7 630.5,629.7 632.7,627.5 634.8,625.1" fill="#1ea70d" stroke="#050707" stroke-width="2.20" stroke-linejoin="round" />
<polygon points="562.0,261.1 557.0,282.7 557.0,287.3 562.0,265.7" fill="#ff0000" stroke="#050707" stroke-width="2.60" stroke-linejoin="round" />
<polygon points="557.0,282.7 544.9,275.5 544.9,280.1 557.0,287.3" fill="#ff0000" stroke="#050707" stroke-width="2.60" stroke-linejoin="round" />
<polygon points="544.9,275.5 294.9,402.5 294.9,407.1 544.9,280.1" fill="#ff0000" stroke="#050707" stroke-width="2.60" stroke-linejoin="round" />
<polygon points="294.9,402.5 278.9,397.5 278.9,402.1 294.9,407.1" fill="#ff0000" stroke="#050707" stroke-width="2.60" stroke-linejoin="round" />
<polygon points="531.4,269.2 517.8,262.9 517.8,267.5 531.4,273.8" fill="#ff0000" stroke="#050707" stroke-width="2.60" stroke-linejoin="round" />
<polygon points="517.8,262.9 562.0,261.1 557.0,282.7 544.9,275.5 294.9,402.5 278.9,397.5 531.4,269.2" fill="#ff0000" stroke="#050707" stroke-width="2.60" stroke-linejoin="round" />
<g transform="translate(0.0,0.0)">
<path d="M225.95,450.14 C225.05,449.59 222.43,448.69 220.54,446.89 C218.65,445.09 216.08,441.85 214.59,439.32 C213.11,436.80 212.25,434.28 211.62,431.76 C210.99,429.23 210.72,426.35 210.81,424.19 C210.90,422.03 211.26,420.24 212.16,418.78 C213.06,417.32 214.64,416.35 216.22,415.43 C217.79,414.51 220.72,413.63 221.62,413.27 L256.22,401.59 C257.12,401.74 259.91,401.49 261.62,402.46 C263.33,403.43 265.27,405.61 266.49,407.43 C267.70,409.25 268.56,411.22 268.92,413.38 C269.28,415.54 269.01,418.23 268.65,420.41 C268.29,422.59 267.07,425.45 266.76,426.46 L242.16,439.97 C241.85,440.59 241.08,442.48 240.27,443.65 C239.46,444.82 238.60,446.01 237.30,447.00 C235.99,447.99 234.32,449.07 232.43,449.59 C230.54,450.12 227.03,450.05 225.95,450.14Z" fill="#f2ff12" stroke="#050707" stroke-width="3.5" stroke-linejoin="round"/>
<path d="M222.43,413.65 C223.38,414.77 226.53,417.93 228.11,420.41 C229.68,422.88 230.95,425.90 231.89,428.51 C232.84,431.13 233.51,433.74 233.78,436.08 C234.05,438.42 234.01,440.54 233.51,442.57 C233.02,444.59 231.26,447.30 230.81,448.24" fill="none" stroke="#050707" stroke-width="3.0" stroke-linecap="round"/>
<path d="M225.95,412.84 C227.03,414.05 230.63,417.34 232.43,420.14 C234.23,422.93 235.84,426.58 236.76,429.59 C237.68,432.61 237.93,435.63 237.95,438.24 C237.96,440.86 237.05,444.10 236.86,445.27" fill="none" stroke="#050707" stroke-width="3.0" stroke-linecap="round"/>
<path d="M229.46,412.19 C230.59,413.38 234.41,416.60 236.22,419.32 C238.02,422.05 239.35,425.63 240.27,428.51 C241.19,431.40 241.55,434.55 241.73,436.62 C241.91,438.69 241.41,440.23 241.35,440.95" fill="none" stroke="#050707" stroke-width="3.0" stroke-linecap="round"/>
<path d="M256.49,402.57 C257.34,403.65 260.24,406.71 261.62,409.05 C263.00,411.40 264.13,414.28 264.76,416.62 C265.39,418.96 265.52,421.26 265.41,423.11 C265.29,424.95 264.28,426.94 264.05,427.70" fill="none" stroke="#050707" stroke-width="3.0" stroke-linecap="round"/>
<line x1="174.6" y1="449.6" x2="215.7" y2="429.8" stroke="#050707" stroke-width="4.8" stroke-linecap="round"/>
<line x1="179.1" y1="447.5" x2="213.9" y2="430.7" stroke="#fff" stroke-width="1.2" stroke-dasharray="1.2 1.5"/>
<line x1="189.6" y1="457.6" x2="231.6" y2="437.9" stroke="#050707" stroke-width="4.8" stroke-linecap="round"/>
<line x1="194.1" y1="455.5" x2="229.8" y2="438.8" stroke="#fff" stroke-width="1.2" stroke-dasharray="1.2 1.5"/>
</g>
<line x1="245.9" y1="322.4" x2="245.9" y2="422.5" stroke="#050707" stroke-width="3.80" stroke-linecap="butt"/>
<line x1="564.6" y1="132.5" x2="738.4" y2="156.9" stroke="#050707" stroke-width="3.80" stroke-linecap="butt"/>
<line x1="197.1" y1="640.7" x2="366.0" y2="567.5" stroke="#050707" stroke-width="3.80" stroke-linecap="butt"/>
<polygon points="1631.6,120.8 1671.2,140.6 1671.2,288.3 1631.6,269.4" fill="#17725b" stroke="#050707" stroke-width="2.40" stroke-linejoin="round" />
<polygon points="1631.6,120.8 1651.4,110.9 1692.0,130.7 1671.2,140.6" fill="#5effc6" stroke="#050707" stroke-width="2.40" stroke-linejoin="round" />
<polygon points="1671.2,140.6 1692.0,130.7 1692.0,279.4 1671.2,288.3" fill="#2fc08f" stroke="#050707" stroke-width="2.40" stroke-linejoin="round" />
<polygon points="1647.5,155.5 1642.5,177.1 1642.5,181.7 1647.5,160.1" fill="#ff0000" stroke="#050707" stroke-width="2.60" stroke-linejoin="round" />
<polygon points="1642.5,177.1 1630.4,169.9 1630.4,174.5 1642.5,181.7" fill="#ff0000" stroke="#050707" stroke-width="2.60" stroke-linejoin="round" />
<polygon points="1630.4,169.9 1482.9,244.8 1482.9,249.4 1630.4,174.5" fill="#ff0000" stroke="#050707" stroke-width="2.60" stroke-linejoin="round" />
<polygon points="1482.9,244.8 1466.9,239.8 1466.9,244.4 1482.9,249.4" fill="#ff0000" stroke="#050707" stroke-width="2.60" stroke-linejoin="round" />
<polygon points="1616.9,163.6 1603.3,157.3 1603.3,161.9 1616.9,168.2" fill="#ff0000" stroke="#050707" stroke-width="2.60" stroke-linejoin="round" />
<polygon points="1603.3,157.3 1647.5,155.5 1642.5,177.1 1630.4,169.9 1482.9,244.8 1466.9,239.8 1616.9,163.6" fill="#ff0000" stroke="#050707" stroke-width="2.60" stroke-linejoin="round" />
<polygon points="1647.5,188.5 1642.5,210.1 1642.5,214.7 1647.5,193.1" fill="#ff0000" stroke="#050707" stroke-width="2.60" stroke-linejoin="round" />
<polygon points="1642.5,210.1 1630.4,202.9 1630.4,207.5 1642.5,214.7" fill="#ff0000" stroke="#050707" stroke-width="2.60" stroke-linejoin="round" />
<polygon points="1630.4,202.9 1482.9,277.8 1482.9,282.4 1630.4,207.5" fill="#ff0000" stroke="#050707" stroke-width="2.60" stroke-linejoin="round" />
<polygon points="1482.9,277.8 1466.9,272.8 1466.9,277.4 1482.9,282.4" fill="#ff0000" stroke="#050707" stroke-width="2.60" stroke-linejoin="round" />
<polygon points="1616.9,196.6 1603.3,190.3 1603.3,194.9 1616.9,201.2" fill="#ff0000" stroke="#050707" stroke-width="2.60" stroke-linejoin="round" />
<polygon points="1603.3,190.3 1647.5,188.5 1642.5,210.1 1630.4,202.9 1482.9,277.8 1466.9,272.8 1616.9,196.6" fill="#ff0000" stroke="#050707" stroke-width="2.60" stroke-linejoin="round" />
<polygon points="1647.5,221.5 1642.5,243.1 1642.5,247.7 1647.5,226.1" fill="#ff0000" stroke="#050707" stroke-width="2.60" stroke-linejoin="round" />
<polygon points="1642.5,243.1 1630.4,235.9 1630.4,240.5 1642.5,247.7" fill="#ff0000" stroke="#050707" stroke-width="2.60" stroke-linejoin="round" />
<polygon points="1630.4,235.9 1482.9,310.8 1482.9,315.4 1630.4,240.5" fill="#ff0000" stroke="#050707" stroke-width="2.60" stroke-linejoin="round" />
<polygon points="1482.9,310.8 1466.9,305.8 1466.9,310.4 1482.9,315.4" fill="#ff0000" stroke="#050707" stroke-width="2.60" stroke-linejoin="round" />
<polygon points="1616.9,229.6 1603.3,223.3 1603.3,227.9 1616.9,234.2" fill="#ff0000" stroke="#050707" stroke-width="2.60" stroke-linejoin="round" />
<polygon points="1603.3,223.3 1647.5,221.5 1642.5,243.1 1630.4,235.9 1482.9,310.8 1466.9,305.8 1616.9,229.6" fill="#ff0000" stroke="#050707" stroke-width="2.60" stroke-linejoin="round" />
<defs><linearGradient id="rim1485" gradientUnits="userSpaceOnUse" x1="0" y1="176.5" x2="0" y2="846.5"><stop offset="0" stop-color="#f6f8ff"/><stop offset="0.42" stop-color="#abc0f0"/><stop offset="0.68" stop-color="#abc0f0"/><stop offset="0.84" stop-color="#44577a"/><stop offset="1" stop-color="#38496a"/></linearGradient></defs>
<polygon points="1742.6,631.7 1742.5,623.6 1742.3,615.4 1741.8,607.2 1741.2,598.8 1740.4,590.4 1739.5,582.0 1738.4,573.5 1737.1,565.0 1735.7,556.4 1734.0,547.8 1732.2,539.2 1730.3,530.5 1728.2,521.8 1725.9,513.2 1723.5,504.5 1720.9,495.8 1718.1,487.1 1715.2,478.5 1712.1,469.8 1708.9,461.2 1705.5,452.6 1702.0,444.1 1698.4,435.6 1694.6,427.2 1690.6,418.8 1686.6,410.5 1682.3,402.2 1678.0,394.0 1673.5,385.9 1668.9,377.9 1664.2,370.0 1659.4,362.1 1654.4,354.4 1649.4,346.7 1644.2,339.2 1638.9,331.8 1633.6,324.5 1628.1,317.4 1622.5,310.4 1616.8,303.5 1611.1,296.7 1605.3,290.1 1599.4,283.7 1593.4,277.4 1587.3,271.2 1581.2,265.2 1575.1,259.4 1568.8,253.8 1562.5,248.3 1556.2,243.0 1549.8,237.9 1543.4,233.0 1536.9,228.3 1530.4,223.7 1523.9,219.4 1517.4,215.2 1510.8,211.3 1504.3,207.6 1497.7,204.0 1491.1,200.7 1484.5,197.6 1477.9,194.7 1471.4,192.0 1464.8,189.5 1458.3,187.3 1451.8,185.3 1445.3,183.4 1438.8,181.9 1432.4,180.5 1426.0,179.4 1419.7,178.4 1413.4,177.8 1407.1,177.3 1401.0,177.1 1394.9,177.1 1388.8,177.3 1382.8,177.8 1376.9,178.4 1371.1,179.3 1365.3,180.5 1359.7,181.8 1354.1,183.4 1348.6,185.2 1343.3,187.2 1338.0,189.5 1332.8,191.9 1327.8,194.6 1322.8,197.5 1318.0,200.6 1313.3,203.9 1308.7,207.5 1304.2,211.2 1299.9,215.1 1295.6,219.3 1291.6,223.6 1287.6,228.2 1283.8,232.9 1280.2,237.8 1276.7,242.9 1273.3,248.2 1270.1,253.6 1267.0,259.3 1264.1,265.1 1261.3,271.1 1258.7,277.2 1256.3,283.5 1254.0,289.9 1251.9,296.5 1250.0,303.3 1248.2,310.2 1246.5,317.2 1245.1,324.4 1243.8,331.6 1242.7,339.0 1241.8,346.6 1241.0,354.2 1240.4,361.9 1239.9,369.7 1239.7,377.7 1239.6,385.7 1239.7,393.8 1239.9,402.0 1240.4,410.2 1241.0,418.6 1241.8,427.0 1242.7,435.4 1243.8,443.9 1245.1,452.4 1246.5,461.0 1248.2,469.6 1250.0,478.2 1251.9,486.9 1254.0,495.6 1256.3,504.2 1258.7,512.9 1261.3,521.6 1264.1,530.3 1267.0,538.9 1270.1,547.6 1273.3,556.2 1276.7,564.8 1280.2,573.3 1283.8,581.8 1287.6,590.2 1291.6,598.6 1295.6,606.9 1299.9,615.2 1304.2,623.4 1308.7,631.5 1313.3,639.5 1318.0,647.4 1322.8,655.3 1327.8,663.0 1332.8,670.7 1338.0,678.2 1343.3,685.6 1348.6,692.9 1354.1,700.0 1359.7,707.0 1365.3,713.9 1371.1,720.7 1376.9,727.3 1382.8,733.7 1388.8,740.0 1394.9,746.2 1401.0,752.2 1407.1,758.0 1413.4,763.6 1419.7,769.1 1426.0,774.4 1432.4,779.5 1438.8,784.4 1445.3,789.1 1451.8,793.7 1458.3,798.0 1464.8,802.2 1471.4,806.1 1477.9,809.8 1484.5,813.4 1491.1,816.7 1497.7,819.8 1504.3,822.7 1510.8,825.4 1517.4,827.9 1523.9,830.1 1530.4,832.1 1536.9,834.0 1543.4,835.5 1549.8,836.9 1556.2,838.0 1562.5,839.0 1568.8,839.6 1575.1,840.1 1581.2,840.3 1587.3,840.3 1593.4,840.1 1599.4,839.6 1605.3,839.0 1611.1,838.1 1616.8,836.9 1622.5,835.6 1628.1,834.0 1633.6,832.2 1638.9,830.2 1644.2,827.9 1649.4,825.5 1654.4,822.8 1659.4,819.9 1664.2,816.8 1668.9,813.5 1673.5,809.9 1678.0,806.2 1682.3,802.3 1686.6,798.1 1690.6,793.8 1694.6,789.2 1698.4,784.5 1702.0,779.6 1705.5,774.5 1708.9,769.2 1712.1,763.8 1715.2,758.1 1718.1,752.3 1720.9,746.3 1723.5,740.2 1725.9,733.9 1728.2,727.5 1730.3,720.9 1732.2,714.1 1734.0,707.2 1735.7,700.2 1737.1,693.0 1738.4,685.8 1739.5,678.4 1740.4,670.8 1741.2,663.2 1741.8,655.5 1742.3,647.7 1742.5,639.7 1742.6,631.7" fill="url(#rim1485)" stroke="#050707" stroke-width="2.90" stroke-linejoin="round" />
<polygon points="1737.0,634.5 1736.9,626.4 1736.7,618.2 1736.2,610.0 1735.6,601.6 1734.8,593.2 1733.9,584.8 1732.8,576.3 1731.5,567.8 1730.1,559.2 1728.4,550.6 1726.6,542.0 1724.7,533.3 1722.6,524.6 1720.3,516.0 1717.9,507.3 1715.3,498.6 1712.5,489.9 1709.6,481.3 1706.5,472.6 1703.3,464.0 1699.9,455.4 1696.4,446.9 1692.8,438.4 1689.0,430.0 1685.0,421.6 1681.0,413.3 1676.7,405.0 1672.4,396.8 1667.9,388.7 1663.3,380.7 1658.6,372.8 1653.8,364.9 1648.8,357.2 1643.8,349.5 1638.6,342.0 1633.3,334.6 1628.0,327.3 1622.5,320.2 1616.9,313.2 1611.2,306.3 1605.5,299.5 1599.7,292.9 1593.8,286.5 1587.8,280.2 1581.7,274.0 1575.6,268.0 1569.5,262.2 1563.2,256.6 1556.9,251.1 1550.6,245.8 1544.2,240.7 1537.8,235.8 1531.3,231.1 1524.8,226.5 1518.3,222.2 1511.8,218.0 1505.2,214.1 1498.7,210.4 1492.1,206.8 1485.5,203.5 1478.9,200.4 1472.3,197.5 1465.8,194.8 1459.2,192.3 1452.7,190.1 1446.2,188.1 1439.7,186.2 1433.2,184.7 1426.8,183.3 1420.4,182.2 1414.1,181.2 1407.8,180.6 1401.5,180.1 1395.4,179.9 1389.3,179.9 1383.2,180.1 1377.2,180.6 1371.3,181.2 1365.5,182.1 1359.8,183.3 1354.1,184.6 1348.5,186.2 1343.0,188.0 1337.7,190.0 1332.4,192.3 1327.2,194.7 1322.2,197.4 1317.2,200.3 1312.4,203.4 1307.7,206.7 1303.1,210.3 1298.6,214.0 1294.3,217.9 1290.0,222.1 1286.0,226.4 1282.0,231.0 1278.2,235.7 1274.6,240.6 1271.1,245.7 1267.7,251.0 1264.5,256.4 1261.4,262.1 1258.5,267.9 1255.7,273.9 1253.1,280.0 1250.7,286.3 1248.4,292.7 1246.3,299.3 1244.4,306.1 1242.6,313.0 1240.9,320.0 1239.5,327.2 1238.2,334.4 1237.1,341.8 1236.2,349.4 1235.4,357.0 1234.8,364.7 1234.3,372.5 1234.1,380.5 1234.0,388.5 1234.1,396.6 1234.3,404.8 1234.8,413.0 1235.4,421.4 1236.2,429.8 1237.1,438.2 1238.2,446.7 1239.5,455.2 1240.9,463.8 1242.6,472.4 1244.4,481.0 1246.3,489.7 1248.4,498.4 1250.7,507.0 1253.1,515.7 1255.7,524.4 1258.5,533.1 1261.4,541.7 1264.5,550.4 1267.7,559.0 1271.1,567.6 1274.6,576.1 1278.2,584.6 1282.0,593.0 1286.0,601.4 1290.0,609.7 1294.3,618.0 1298.6,626.2 1303.1,634.3 1307.7,642.3 1312.4,650.2 1317.2,658.1 1322.2,665.8 1327.2,673.5 1332.4,681.0 1337.7,688.4 1343.0,695.7 1348.5,702.8 1354.1,709.8 1359.8,716.7 1365.5,723.5 1371.3,730.1 1377.2,736.5 1383.2,742.8 1389.3,749.0 1395.4,755.0 1401.5,760.8 1407.8,766.4 1414.1,771.9 1420.4,777.2 1426.8,782.3 1433.2,787.2 1439.7,791.9 1446.2,796.5 1452.7,800.8 1459.2,805.0 1465.8,808.9 1472.3,812.6 1478.9,816.2 1485.5,819.5 1492.1,822.6 1498.7,825.5 1505.2,828.2 1511.8,830.7 1518.3,832.9 1524.8,834.9 1531.3,836.8 1537.8,838.3 1544.2,839.7 1550.6,840.8 1556.9,841.8 1563.2,842.4 1569.5,842.9 1575.6,843.1 1581.7,843.1 1587.8,842.9 1593.8,842.4 1599.7,841.8 1605.5,840.9 1611.2,839.7 1616.9,838.4 1622.5,836.8 1628.0,835.0 1633.3,833.0 1638.6,830.7 1643.8,828.3 1648.8,825.6 1653.8,822.7 1658.6,819.6 1663.3,816.3 1667.9,812.7 1672.4,809.0 1676.7,805.1 1681.0,800.9 1685.0,796.6 1689.0,792.0 1692.8,787.3 1696.4,782.4 1699.9,777.3 1703.3,772.0 1706.5,766.6 1709.6,760.9 1712.5,755.1 1715.3,749.1 1717.9,743.0 1720.3,736.7 1722.6,730.3 1724.7,723.7 1726.6,716.9 1728.4,710.0 1730.1,703.0 1731.5,695.8 1732.8,688.6 1733.9,681.2 1734.8,673.6 1735.6,666.0 1736.2,658.3 1736.7,650.5 1736.9,642.5 1737.0,634.5" fill="#53678a" stroke="#050707" stroke-width="2.70" stroke-linejoin="round" />
<path d="M1515.4 710.3 L1510.8 679.6 L1507.5 678.7 L1504.1 677.7 L1500.7 676.6 L1497.4 675.4 L1494.0 674.0 L1490.6 672.6 L1487.2 671.1 L1483.8 669.4 L1480.4 667.6 L1477.0 665.8 L1473.6 663.8 L1470.3 661.7 L1466.9 659.5 L1463.5 657.2 L1460.2 654.8 L1456.9 652.3 L1453.6 649.8 L1450.3 647.1 L1447.1 644.3 L1443.8 641.4 L1440.6 638.5 L1437.5 635.5 L1434.3 632.3 L1431.2 629.1 L1428.2 625.8 L1425.1 622.5 L1422.2 619.0 L1419.2 615.5 L1416.3 611.9 L1413.5 608.3 L1410.7 604.5 L1407.9 600.8 L1405.3 596.9 L1402.6 593.0 L1400.0 589.1 L1397.5 585.0 L1395.1 581.0 L1392.7 576.9 L1390.3 572.7 L1388.0 568.5 L1385.8 564.3 L1383.7 560.0 L1381.6 555.7 L1379.6 551.3 L1377.7 547.0 L1375.9 542.6 L1374.1 538.2 L1372.4 533.8 L1370.8 529.3 L1369.2 524.9 L1367.8 520.4 L1366.4 515.9 L1365.1 511.4 L1363.9 507.0 L1362.8 502.5 L1361.7 498.0 L1360.7 493.6 L1359.9 489.1 L1359.1 484.7 L1358.4 480.3 L1357.7 475.9 L1357.2 471.5 L1356.8 467.2 L1356.4 462.9 L1356.2 458.6 L1356.0 454.4 L1355.9 450.2 L1355.9 446.0 L1356.0 441.9 L1356.2 437.9 L1356.4 433.8 L1356.8 429.9 L1357.2 426.0 L1357.7 422.1 L1358.4 418.4 L1359.1 414.6 L1359.9 411.0 L1360.7 407.4 L1361.7 403.9 L1362.8 400.4 L1363.9 397.1 L1365.1 393.8 L1366.4 390.6 L1367.8 387.5 L1369.2 384.4 L1370.8 381.5 L1372.4 378.6 L1374.1 375.9 L1375.9 373.2 L1377.7 370.6 L1379.6 368.1 L1381.6 365.7 L1383.7 363.4 L1385.8 361.3 L1388.0 359.2 L1390.3 357.2 L1392.7 355.3 L1395.1 353.6 L1397.5 351.9 L1400.0 350.4 L1402.6 348.9 L1405.3 347.6 L1407.9 346.4 L1410.7 345.3 L1413.5 344.3 L1416.3 343.4 L1419.2 342.7 L1422.2 342.0 L1425.1 341.5 L1428.2 341.1 L1431.2 340.8 L1434.3 340.6 L1437.5 340.6 L1440.6 340.6 L1443.8 340.8 L1447.1 341.1 L1450.3 341.5 L1453.6 342.0 L1456.9 342.7 L1460.2 343.4 L1455.6 312.7 L1451.7 311.8 L1447.8 311.1 L1443.9 310.4 L1440.0 310.0 L1436.2 309.6 L1432.4 309.4 L1428.7 309.3 L1425.0 309.4 L1421.3 309.6 L1417.7 309.9 L1414.1 310.4 L1410.6 311.0 L1407.1 311.8 L1403.7 312.7 L1400.3 313.7 L1397.0 314.9 L1393.8 316.2 L1390.6 317.6 L1387.5 319.2 L1384.4 320.9 L1381.4 322.7 L1378.5 324.7 L1375.7 326.8 L1372.9 329.0 L1370.2 331.3 L1367.6 333.8 L1365.1 336.4 L1362.7 339.1 L1360.3 341.9 L1358.0 344.8 L1355.8 347.9 L1353.7 351.1 L1351.7 354.3 L1349.8 357.7 L1348.0 361.2 L1346.3 364.8 L1344.6 368.5 L1343.1 372.3 L1341.7 376.2 L1340.3 380.1 L1339.1 384.2 L1337.9 388.4 L1336.9 392.6 L1336.0 396.9 L1335.1 401.3 L1334.4 405.8 L1333.8 410.4 L1333.2 415.0 L1332.8 419.7 L1332.5 424.4 L1332.3 429.2 L1332.2 434.1 L1332.2 439.0 L1332.3 443.9 L1332.5 449.0 L1332.8 454.0 L1333.2 459.1 L1333.8 464.2 L1334.4 469.4 L1335.1 474.6 L1336.0 479.8 L1336.9 485.0 L1337.9 490.3 L1339.1 495.6 L1340.3 500.9 L1341.7 506.1 L1343.1 511.4 L1344.6 516.7 L1346.3 522.0 L1348.0 527.3 L1349.8 532.6 L1351.7 537.8 L1353.7 543.1 L1355.8 548.3 L1358.0 553.5 L1360.3 558.6 L1362.7 563.8 L1365.1 568.9 L1367.6 573.9 L1370.2 578.9 L1372.9 583.9 L1375.7 588.8 L1378.5 593.7 L1381.4 598.5 L1384.4 603.2 L1387.5 607.9 L1390.6 612.5 L1393.8 617.1 L1397.0 621.6 L1400.3 626.0 L1403.7 630.3 L1407.1 634.5 L1410.6 638.7 L1414.1 642.8 L1417.7 646.7 L1421.3 650.6 L1425.0 654.4 L1428.7 658.1 L1432.4 661.7 L1436.2 665.2 L1440.0 668.6 L1443.9 671.9 L1447.8 675.0 L1451.7 678.1 L1455.6 681.0 L1459.5 683.8 L1463.5 686.6 L1467.5 689.1 L1471.5 691.6 L1475.5 694.0 L1479.5 696.2 L1483.5 698.3 L1487.5 700.2 L1491.5 702.1 L1495.5 703.8 L1499.5 705.3 L1503.5 706.8 L1507.5 708.1 L1511.5 709.2Z" fill="#ccd8f6"/>
<path d="M1513.1 705.3 L1509.1 704.0 L1505.1 702.5 L1501.1 701.0 L1497.1 699.3 L1493.1 697.4 L1489.1 695.5 L1485.1 693.4 L1481.1 691.2 L1477.1 688.8 L1473.1 686.3 L1469.1 683.8 L1465.1 681.0 L1461.2 678.2 L1457.3 675.3 L1453.4 672.2 L1449.5 669.1 L1445.6 665.8 L1441.8 662.4 L1438.0 658.9 L1434.3 655.3 L1430.6 651.6 L1426.9 647.8 L1423.3 643.9 L1419.7 640.0 L1416.2 635.9 L1412.7 631.7 L1409.3 627.5 L1405.9 623.2 L1402.6 618.8 L1399.4 614.3 L1396.2 609.7 L1393.1 605.1 L1390.0 600.4 L1387.0 595.7 L1384.1 590.9 L1381.3 586.0 L1378.5 581.1 L1375.8 576.1 L1373.2 571.1 L1370.7 566.1 L1368.3 561.0 L1365.9 555.8 L1363.6 550.7 L1361.4 545.5 L1359.3 540.3 L1357.3 535.0 L1355.4 529.8 L1353.6 524.5 L1351.9 519.2 L1350.2 513.9 L1348.7 508.6 L1347.3 503.3 L1341.7 506.1 L1343.1 511.4 L1344.6 516.7 L1346.3 522.0 L1348.0 527.3 L1349.8 532.6 L1351.7 537.8 L1353.7 543.1 L1355.8 548.3 L1358.0 553.5 L1360.3 558.6 L1362.7 563.8 L1365.1 568.9 L1367.6 573.9 L1370.2 578.9 L1372.9 583.9 L1375.7 588.8 L1378.5 593.7 L1381.4 598.5 L1384.4 603.2 L1387.5 607.9 L1390.6 612.5 L1393.8 617.1 L1397.0 621.6 L1400.3 626.0 L1403.7 630.3 L1407.1 634.5 L1410.6 638.7 L1414.1 642.8 L1417.7 646.7 L1421.3 650.6 L1425.0 654.4 L1428.7 658.1 L1432.4 661.7 L1436.2 665.2 L1440.0 668.6 L1443.9 671.9 L1447.8 675.0 L1451.7 678.1 L1455.6 681.0 L1459.5 683.8 L1463.5 686.6 L1467.5 689.1 L1471.5 691.6 L1475.5 694.0 L1479.5 696.2 L1483.5 698.3 L1487.5 700.2 L1491.5 702.1 L1495.5 703.8 L1499.5 705.3 L1503.5 706.8 L1507.5 708.1 L1511.5 709.2 L1515.4 710.3 L1514.7 705.8Z" fill="#ffffff"/>
<path d="M1347.3 503.3 L1345.9 498.1 L1344.7 492.8 L1343.5 487.5 L1342.5 482.2 L1341.6 477.0 L1340.7 471.8 L1340.0 466.6 L1339.4 461.4 L1338.8 456.3 L1333.2 459.1 L1333.8 464.2 L1334.4 469.4 L1335.1 474.6 L1336.0 479.8 L1336.9 485.0 L1337.9 490.3 L1339.1 495.6 L1340.3 500.9 L1341.7 506.1Z" fill="#d4def8"/>
<path d="M1338.8 456.3 L1338.4 451.2 L1338.1 446.2 L1337.9 441.1 L1337.8 436.2 L1337.8 431.3 L1337.9 426.4 L1338.1 421.6 L1338.4 416.9 L1338.8 412.2 L1333.2 415.0 L1332.8 419.7 L1332.5 424.4 L1332.3 429.2 L1332.2 434.1 L1332.2 439.0 L1332.3 443.9 L1332.5 449.0 L1332.8 454.0 L1333.2 459.1Z" fill="#a9bef1"/>
<path d="M1338.8 412.2 L1339.4 407.6 L1340.0 403.0 L1340.7 398.5 L1341.6 394.1 L1342.5 389.8 L1343.5 385.6 L1344.7 381.4 L1345.9 377.3 L1347.3 373.4 L1348.7 369.5 L1343.1 372.3 L1341.7 376.2 L1340.3 380.1 L1339.1 384.2 L1337.9 388.4 L1336.9 392.6 L1336.0 396.9 L1335.1 401.3 L1334.4 405.8 L1333.8 410.4 L1333.2 415.0Z" fill="#94aae0"/>
<path d="M1348.7 369.5 L1350.2 365.7 L1351.9 362.0 L1353.6 358.4 L1355.4 354.9 L1357.3 351.5 L1359.3 348.3 L1361.4 345.1 L1363.6 342.0 L1365.9 339.1 L1368.3 336.3 L1370.7 333.6 L1373.2 331.0 L1375.8 328.5 L1378.5 326.2 L1381.3 324.0 L1384.1 321.9 L1387.0 319.9 L1390.0 318.1 L1392.0 317.0 L1390.6 317.6 L1387.5 319.2 L1384.4 320.9 L1381.4 322.7 L1378.5 324.7 L1375.7 326.8 L1372.9 329.0 L1370.2 331.3 L1367.6 333.8 L1365.1 336.4 L1362.7 339.1 L1360.3 341.9 L1358.0 344.8 L1355.8 347.9 L1353.7 351.1 L1351.7 354.3 L1349.8 357.7 L1348.0 361.2 L1346.3 364.8 L1344.6 368.5 L1343.1 372.3Z" fill="#7f97cf"/>
<path d="M1459.2 339.2 L1455.9 338.7 L1452.7 338.3 L1449.4 338.0 L1446.2 337.8 L1443.1 337.8 L1439.9 337.8 L1436.8 338.0 L1433.8 338.3 L1430.7 338.7 L1427.8 339.2 L1424.8 339.9 L1421.9 340.6 L1419.1 341.5 L1416.3 342.5 L1413.5 343.6 L1410.9 344.8 L1405.3 347.6 L1407.9 346.4 L1410.7 345.3 L1413.5 344.3 L1416.3 343.4 L1419.2 342.7 L1422.2 342.0 L1425.1 341.5 L1428.2 341.1 L1431.2 340.8 L1434.3 340.6 L1437.5 340.6 L1440.6 340.6 L1443.8 340.8 L1447.1 341.1 L1450.3 341.5 L1453.6 342.0 L1456.9 342.7 L1460.2 343.4 L1459.6 339.3Z" fill="#ffffff"/>
<path d="M1510.8 679.6 L1507.5 678.7 L1504.1 677.7 L1500.7 676.6 L1497.4 675.4 L1494.0 674.0 L1490.6 672.6 L1487.2 671.1 L1483.8 669.4 L1480.4 667.6 L1477.0 665.8 L1473.6 663.8 L1470.3 661.7 L1466.9 659.5 L1463.5 657.2 L1460.2 654.8 L1456.9 652.3 L1453.6 649.8 L1450.3 647.1 L1447.1 644.3 L1443.8 641.4 L1440.6 638.5 L1437.5 635.5 L1434.3 632.3 L1431.2 629.1 L1428.2 625.8 L1425.1 622.5 L1422.2 619.0 L1419.2 615.5 L1416.3 611.9 L1413.5 608.3 L1410.7 604.5 L1407.9 600.8 L1405.3 596.9 L1402.6 593.0 L1400.0 589.1 L1397.5 585.0 L1395.1 581.0 L1392.7 576.9 L1390.3 572.7 L1388.0 568.5 L1385.8 564.3 L1383.7 560.0 L1381.6 555.7 L1379.6 551.3 L1377.7 547.0 L1375.9 542.6 L1374.1 538.2 L1372.4 533.8 L1370.8 529.3 L1369.2 524.9 L1367.8 520.4 L1366.4 515.9 L1365.1 511.4 L1363.9 507.0 L1362.8 502.5 L1361.7 498.0 L1360.7 493.6 L1359.9 489.1 L1359.1 484.7 L1358.4 480.3 L1357.7 475.9 L1357.2 471.5 L1356.8 467.2 L1356.4 462.9 L1356.2 458.6 L1356.0 454.4 L1355.9 450.2 L1355.9 446.0 L1356.0 441.9 L1356.2 437.9 L1356.4 433.8 L1356.8 429.9 L1357.2 426.0 L1357.7 422.1 L1358.4 418.4 L1359.1 414.6 L1359.9 411.0 L1360.7 407.4 L1361.7 403.9 L1362.8 400.4 L1363.9 397.1 L1365.1 393.8 L1366.4 390.6 L1367.8 387.5 L1369.2 384.4 L1370.8 381.5 L1372.4 378.6 L1374.1 375.9 L1375.9 373.2 L1377.7 370.6 L1379.6 368.1 L1381.6 365.7 L1383.7 363.4 L1385.8 361.3 L1388.0 359.2 L1390.3 357.2 L1392.7 355.3 L1395.1 353.6 L1397.5 351.9 L1400.0 350.4 L1402.6 348.9 L1405.3 347.6 L1406.9 346.8 L1408.2 346.1 L1410.9 344.8 L1413.5 343.6 L1416.3 342.5 L1419.1 341.5 L1421.9 340.6 L1424.8 339.9 L1427.8 339.2 L1430.7 338.7 L1433.8 338.3 L1436.8 338.0 L1439.9 337.8 L1443.1 337.8 L1446.2 337.8 L1449.4 338.0 L1452.7 338.3 L1455.9 338.7 L1459.2 339.2 L1459.6 339.3 L1455.6 312.7 L1451.7 311.8 L1447.8 311.1 L1443.9 310.4 L1440.0 310.0 L1436.2 309.6 L1432.4 309.4 L1428.7 309.3 L1425.0 309.4 L1421.3 309.6 L1417.7 309.9 L1414.1 310.4 L1410.6 311.0 L1407.1 311.8 L1403.7 312.7 L1400.3 313.7 L1397.0 314.9 L1393.8 316.2 L1392.0 317.0 L1390.0 318.1 L1387.0 319.9 L1384.1 321.9 L1381.3 324.0 L1378.5 326.2 L1375.8 328.5 L1373.2 331.0 L1370.7 333.6 L1368.3 336.3 L1365.9 339.1 L1363.6 342.0 L1361.4 345.1 L1359.3 348.3 L1357.3 351.5 L1355.4 354.9 L1353.6 358.4 L1351.9 362.0 L1350.2 365.7 L1348.7 369.5 L1347.3 373.4 L1345.9 377.3 L1344.7 381.4 L1343.5 385.6 L1342.5 389.8 L1341.6 394.1 L1340.7 398.5 L1340.0 403.0 L1339.4 407.6 L1338.8 412.2 L1338.4 416.9 L1338.1 421.6 L1337.9 426.4 L1337.8 431.3 L1337.8 436.2 L1337.9 441.1 L1338.1 446.2 L1338.4 451.2 L1338.8 456.3 L1339.4 461.4 L1340.0 466.6 L1340.7 471.8 L1341.6 477.0 L1342.5 482.2 L1343.5 487.5 L1344.7 492.8 L1345.9 498.1 L1347.3 503.3 L1348.7 508.6 L1350.2 513.9 L1351.9 519.2 L1353.6 524.5 L1355.4 529.8 L1357.3 535.0 L1359.3 540.3 L1361.4 545.5 L1363.6 550.7 L1365.9 555.8 L1368.3 561.0 L1370.7 566.1 L1373.2 571.1 L1375.8 576.1 L1378.5 581.1 L1381.3 586.0 L1384.1 590.9 L1387.0 595.7 L1390.0 600.4 L1393.1 605.1 L1396.2 609.7 L1399.4 614.3 L1402.6 618.8 L1405.9 623.2 L1409.3 627.5 L1412.7 631.7 L1416.2 635.9 L1419.7 640.0 L1423.3 643.9 L1426.9 647.8 L1430.6 651.6 L1434.3 655.3 L1438.0 658.9 L1441.8 662.4 L1445.6 665.8 L1449.5 669.1 L1453.4 672.2 L1457.3 675.3 L1461.2 678.2 L1465.1 681.0 L1469.1 683.8 L1473.1 686.3 L1477.1 688.8 L1481.1 691.2 L1485.1 693.4 L1489.1 695.5 L1493.1 697.4 L1497.1 699.3 L1501.1 701.0 L1505.1 702.5 L1509.1 704.0 L1513.1 705.3 L1514.7 705.8Z" fill="#fff" stroke="#050707" stroke-width="2.30" stroke-linejoin="round"/>
<path d="M1515.4 710.3 L1510.8 679.6 L1507.5 678.7 L1504.1 677.7 L1500.7 676.6 L1497.4 675.4 L1494.0 674.0 L1490.6 672.6 L1487.2 671.1 L1483.8 669.4 L1480.4 667.6 L1477.0 665.8 L1473.6 663.8 L1470.3 661.7 L1466.9 659.5 L1463.5 657.2 L1460.2 654.8 L1456.9 652.3 L1453.6 649.8 L1450.3 647.1 L1447.1 644.3 L1443.8 641.4 L1440.6 638.5 L1437.5 635.5 L1434.3 632.3 L1431.2 629.1 L1428.2 625.8 L1425.1 622.5 L1422.2 619.0 L1419.2 615.5 L1416.3 611.9 L1413.5 608.3 L1410.7 604.5 L1407.9 600.8 L1405.3 596.9 L1402.6 593.0 L1400.0 589.1 L1397.5 585.0 L1395.1 581.0 L1392.7 576.9 L1390.3 572.7 L1388.0 568.5 L1385.8 564.3 L1383.7 560.0 L1381.6 555.7 L1379.6 551.3 L1377.7 547.0 L1375.9 542.6 L1374.1 538.2 L1372.4 533.8 L1370.8 529.3 L1369.2 524.9 L1367.8 520.4 L1366.4 515.9 L1365.1 511.4 L1363.9 507.0 L1362.8 502.5 L1361.7 498.0 L1360.7 493.6 L1359.9 489.1 L1359.1 484.7 L1358.4 480.3 L1357.7 475.9 L1357.2 471.5 L1356.8 467.2 L1356.4 462.9 L1356.2 458.6 L1356.0 454.4 L1355.9 450.2 L1355.9 446.0 L1356.0 441.9 L1356.2 437.9 L1356.4 433.8 L1356.8 429.9 L1357.2 426.0 L1357.7 422.1 L1358.4 418.4 L1359.1 414.6 L1359.9 411.0 L1360.7 407.4 L1361.7 403.9 L1362.8 400.4 L1363.9 397.1 L1365.1 393.8 L1366.4 390.6 L1367.8 387.5 L1369.2 384.4 L1370.8 381.5 L1372.4 378.6 L1374.1 375.9 L1375.9 373.2 L1377.7 370.6 L1379.6 368.1 L1381.6 365.7 L1383.7 363.4 L1385.8 361.3 L1388.0 359.2 L1390.3 357.2 L1392.7 355.3 L1395.1 353.6 L1397.5 351.9 L1400.0 350.4 L1402.6 348.9 L1405.3 347.6 L1407.9 346.4 L1410.7 345.3 L1413.5 344.3 L1416.3 343.4 L1419.2 342.7 L1422.2 342.0 L1425.1 341.5 L1428.2 341.1 L1431.2 340.8 L1434.3 340.6 L1437.5 340.6 L1440.6 340.6 L1443.8 340.8 L1447.1 341.1 L1450.3 341.5 L1453.6 342.0 L1456.9 342.7 L1460.2 343.4 L1455.6 312.7 L1451.7 311.8 L1447.8 311.1 L1443.9 310.4 L1440.0 310.0 L1436.2 309.6 L1432.4 309.4 L1428.7 309.3 L1425.0 309.4 L1421.3 309.6 L1417.7 309.9 L1414.1 310.4 L1410.6 311.0 L1407.1 311.8 L1403.7 312.7 L1400.3 313.7 L1397.0 314.9 L1393.8 316.2 L1390.6 317.6 L1387.5 319.2 L1384.4 320.9 L1381.4 322.7 L1378.5 324.7 L1375.7 326.8 L1372.9 329.0 L1370.2 331.3 L1367.6 333.8 L1365.1 336.4 L1362.7 339.1 L1360.3 341.9 L1358.0 344.8 L1355.8 347.9 L1353.7 351.1 L1351.7 354.3 L1349.8 357.7 L1348.0 361.2 L1346.3 364.8 L1344.6 368.5 L1343.1 372.3 L1341.7 376.2 L1340.3 380.1 L1339.1 384.2 L1337.9 388.4 L1336.9 392.6 L1336.0 396.9 L1335.1 401.3 L1334.4 405.8 L1333.8 410.4 L1333.2 415.0 L1332.8 419.7 L1332.5 424.4 L1332.3 429.2 L1332.2 434.1 L1332.2 439.0 L1332.3 443.9 L1332.5 449.0 L1332.8 454.0 L1333.2 459.1 L1333.8 464.2 L1334.4 469.4 L1335.1 474.6 L1336.0 479.8 L1336.9 485.0 L1337.9 490.3 L1339.1 495.6 L1340.3 500.9 L1341.7 506.1 L1343.1 511.4 L1344.6 516.7 L1346.3 522.0 L1348.0 527.3 L1349.8 532.6 L1351.7 537.8 L1353.7 543.1 L1355.8 548.3 L1358.0 553.5 L1360.3 558.6 L1362.7 563.8 L1365.1 568.9 L1367.6 573.9 L1370.2 578.9 L1372.9 583.9 L1375.7 588.8 L1378.5 593.7 L1381.4 598.5 L1384.4 603.2 L1387.5 607.9 L1390.6 612.5 L1393.8 617.1 L1397.0 621.6 L1400.3 626.0 L1403.7 630.3 L1407.1 634.5 L1410.6 638.7 L1414.1 642.8 L1417.7 646.7 L1421.3 650.6 L1425.0 654.4 L1428.7 658.1 L1432.4 661.7 L1436.2 665.2 L1440.0 668.6 L1443.9 671.9 L1447.8 675.0 L1451.7 678.1 L1455.6 681.0 L1459.5 683.8 L1463.5 686.6 L1467.5 689.1 L1471.5 691.6 L1475.5 694.0 L1479.5 696.2 L1483.5 698.3 L1487.5 700.2 L1491.5 702.1 L1495.5 703.8 L1499.5 705.3 L1503.5 706.8 L1507.5 708.1 L1511.5 709.2Z" fill="none" stroke="#050707" stroke-width="3.00" stroke-linejoin="round"/>
<path d="M1520.7 745.5 L1515.9 713.5 L1511.9 712.5 L1507.9 711.3 L1503.8 710.0 L1499.8 708.5 L1495.7 706.9 L1491.6 705.2 L1487.5 703.3 L1483.5 701.3 L1479.4 699.2 L1475.3 696.9 L1471.2 694.6 L1467.2 692.1 L1463.1 689.4 L1459.1 686.7 L1455.1 683.8 L1451.1 680.8 L1447.1 677.7 L1443.2 674.5 L1439.3 671.2 L1435.4 667.7 L1431.6 664.2 L1427.8 660.5 L1424.0 656.8 L1420.3 652.9 L1416.6 648.9 L1412.9 644.9 L1409.4 640.8 L1405.8 636.5 L1402.3 632.2 L1398.9 627.8 L1395.6 623.4 L1392.3 618.8 L1389.0 614.2 L1385.9 609.5 L1382.8 604.7 L1379.7 599.9 L1376.8 595.0 L1373.9 590.1 L1371.1 585.1 L1368.3 580.0 L1365.7 574.9 L1363.1 569.8 L1360.6 564.6 L1358.2 559.4 L1355.9 554.2 L1353.7 548.9 L1351.6 543.6 L1349.5 538.3 L1347.6 532.9 L1345.7 527.6 L1344.0 522.2 L1342.3 516.8 L1340.8 511.4 L1339.3 506.1 L1337.9 500.7 L1336.7 495.3 L1335.5 490.0 L1334.5 484.6 L1333.5 479.3 L1332.7 474.0 L1308.5 468.0 L1309.4 474.2 L1310.6 480.4 L1311.8 486.5 L1313.1 492.7 L1314.6 499.0 L1316.2 505.2 L1317.8 511.4 L1319.7 517.7 L1321.6 523.9 L1323.6 530.1 L1325.8 536.3 L1328.0 542.5 L1330.4 548.7 L1332.8 554.8 L1335.4 560.9 L1338.1 567.0 L1340.9 573.0 L1343.7 579.0 L1346.7 585.0 L1349.8 590.9 L1353.0 596.7 L1356.2 602.5 L1359.5 608.2 L1363.0 613.9 L1366.5 619.5 L1370.1 625.0 L1373.8 630.4 L1377.5 635.8 L1381.3 641.1 L1385.2 646.3 L1389.2 651.3 L1393.2 656.3 L1397.3 661.2 L1401.5 666.0 L1405.7 670.7 L1409.9 675.3 L1414.2 679.8 L1418.6 684.1 L1423.0 688.3 L1427.5 692.4 L1432.0 696.4 L1436.5 700.3 L1441.1 704.0 L1445.7 707.6 L1450.3 711.1 L1454.9 714.4 L1459.6 717.6 L1464.3 720.6 L1469.0 723.5 L1473.7 726.3 L1478.4 728.9 L1483.1 731.4 L1487.9 733.7 L1492.6 735.8 L1497.3 737.9 L1502.0 739.7 L1506.7 741.4 L1511.4 742.9 L1516.1 744.3Z" fill="#ccd8f6"/>
<path d="M1517.0 740.1 L1512.3 738.6 L1507.6 736.9 L1502.9 735.1 L1498.2 733.0 L1493.5 730.9 L1488.7 728.6 L1484.0 726.1 L1479.3 723.5 L1474.6 720.7 L1469.9 717.8 L1465.2 714.8 L1460.5 711.6 L1455.9 708.3 L1451.3 704.8 L1446.7 701.2 L1442.1 697.5 L1437.6 693.6 L1433.1 689.6 L1428.6 685.5 L1424.2 681.3 L1419.8 677.0 L1415.5 672.5 L1411.3 667.9 L1407.1 663.2 L1402.9 658.4 L1398.8 653.5 L1394.8 648.5 L1390.8 643.5 L1386.9 638.3 L1383.1 633.0 L1379.4 627.6 L1375.7 622.2 L1372.1 616.7 L1368.6 611.1 L1365.1 605.4 L1361.8 599.7 L1358.6 593.9 L1355.4 588.1 L1352.3 582.2 L1349.3 576.2 L1346.5 570.2 L1343.7 564.2 L1341.0 558.1 L1338.4 552.0 L1336.0 545.9 L1333.6 539.7 L1331.4 533.5 L1329.2 527.3 L1327.2 521.1 L1325.3 514.9 L1323.4 508.6 L1321.8 502.4 L1316.2 505.2 L1317.8 511.4 L1319.7 517.7 L1321.6 523.9 L1323.6 530.1 L1325.8 536.3 L1328.0 542.5 L1330.4 548.7 L1332.8 554.8 L1335.4 560.9 L1338.1 567.0 L1340.9 573.0 L1343.7 579.0 L1346.7 585.0 L1349.8 590.9 L1353.0 596.7 L1356.2 602.5 L1359.5 608.2 L1363.0 613.9 L1366.5 619.5 L1370.1 625.0 L1373.8 630.4 L1377.5 635.8 L1381.3 641.1 L1385.2 646.3 L1389.2 651.3 L1393.2 656.3 L1397.3 661.2 L1401.5 666.0 L1405.7 670.7 L1409.9 675.3 L1414.2 679.8 L1418.6 684.1 L1423.0 688.3 L1427.5 692.4 L1432.0 696.4 L1436.5 700.3 L1441.1 704.0 L1445.7 707.6 L1450.3 711.1 L1454.9 714.4 L1459.6 717.6 L1464.3 720.6 L1469.0 723.5 L1473.7 726.3 L1478.4 728.9 L1483.1 731.4 L1487.9 733.7 L1492.6 735.8 L1497.3 737.9 L1502.0 739.7 L1506.7 741.4 L1511.4 742.9 L1516.1 744.3 L1520.7 745.5 L1520.0 741.0Z" fill="#ffffff"/>
<path d="M1321.8 502.4 L1320.2 496.2 L1318.7 489.9 L1317.4 483.7 L1316.2 477.6 L1315.0 471.4 L1314.8 469.6 L1308.5 468.0 L1309.4 474.2 L1310.6 480.4 L1311.8 486.5 L1313.1 492.7 L1314.6 499.0 L1316.2 505.2Z" fill="#d4def8"/>
<path d="M1515.9 713.5 L1511.9 712.5 L1507.9 711.3 L1503.8 710.0 L1499.8 708.5 L1495.7 706.9 L1491.6 705.2 L1487.5 703.3 L1483.5 701.3 L1479.4 699.2 L1475.3 696.9 L1471.2 694.6 L1467.2 692.1 L1463.1 689.4 L1459.1 686.7 L1455.1 683.8 L1451.1 680.8 L1447.1 677.7 L1443.2 674.5 L1439.3 671.2 L1435.4 667.7 L1431.6 664.2 L1427.8 660.5 L1424.0 656.8 L1420.3 652.9 L1416.6 648.9 L1412.9 644.9 L1409.4 640.8 L1405.8 636.5 L1402.3 632.2 L1398.9 627.8 L1395.6 623.4 L1392.3 618.8 L1389.0 614.2 L1385.9 609.5 L1382.8 604.7 L1379.7 599.9 L1376.8 595.0 L1373.9 590.1 L1371.1 585.1 L1368.3 580.0 L1365.7 574.9 L1363.1 569.8 L1360.6 564.6 L1358.2 559.4 L1355.9 554.2 L1353.7 548.9 L1351.6 543.6 L1349.5 538.3 L1347.6 532.9 L1345.7 527.6 L1344.0 522.2 L1342.3 516.8 L1340.8 511.4 L1339.3 506.1 L1337.9 500.7 L1336.7 495.3 L1335.5 490.0 L1334.5 484.6 L1333.5 479.3 L1332.7 474.0 L1314.8 469.6 L1315.0 471.4 L1316.2 477.6 L1317.4 483.7 L1318.7 489.9 L1320.2 496.2 L1321.8 502.4 L1323.4 508.6 L1325.3 514.9 L1327.2 521.1 L1329.2 527.3 L1331.4 533.5 L1333.6 539.7 L1336.0 545.9 L1338.4 552.0 L1341.0 558.1 L1343.7 564.2 L1346.5 570.2 L1349.3 576.2 L1352.3 582.2 L1355.4 588.1 L1358.6 593.9 L1361.8 599.7 L1365.1 605.4 L1368.6 611.1 L1372.1 616.7 L1375.7 622.2 L1379.4 627.6 L1383.1 633.0 L1386.9 638.3 L1390.8 643.5 L1394.8 648.5 L1398.8 653.5 L1402.9 658.4 L1407.1 663.2 L1411.3 667.9 L1415.5 672.5 L1419.8 677.0 L1424.2 681.3 L1428.6 685.5 L1433.1 689.6 L1437.6 693.6 L1442.1 697.5 L1446.7 701.2 L1451.3 704.8 L1455.9 708.3 L1460.5 711.6 L1465.2 714.8 L1469.9 717.8 L1474.6 720.7 L1479.3 723.5 L1484.0 726.1 L1488.7 728.6 L1493.5 730.9 L1498.2 733.0 L1502.9 735.1 L1507.6 736.9 L1512.3 738.6 L1517.0 740.1 L1520.0 741.0Z" fill="#fff" stroke="#050707" stroke-width="2.30" stroke-linejoin="round"/>
<path d="M1520.7 745.5 L1515.9 713.5 L1511.9 712.5 L1507.9 711.3 L1503.8 710.0 L1499.8 708.5 L1495.7 706.9 L1491.6 705.2 L1487.5 703.3 L1483.5 701.3 L1479.4 699.2 L1475.3 696.9 L1471.2 694.6 L1467.2 692.1 L1463.1 689.4 L1459.1 686.7 L1455.1 683.8 L1451.1 680.8 L1447.1 677.7 L1443.2 674.5 L1439.3 671.2 L1435.4 667.7 L1431.6 664.2 L1427.8 660.5 L1424.0 656.8 L1420.3 652.9 L1416.6 648.9 L1412.9 644.9 L1409.4 640.8 L1405.8 636.5 L1402.3 632.2 L1398.9 627.8 L1395.6 623.4 L1392.3 618.8 L1389.0 614.2 L1385.9 609.5 L1382.8 604.7 L1379.7 599.9 L1376.8 595.0 L1373.9 590.1 L1371.1 585.1 L1368.3 580.0 L1365.7 574.9 L1363.1 569.8 L1360.6 564.6 L1358.2 559.4 L1355.9 554.2 L1353.7 548.9 L1351.6 543.6 L1349.5 538.3 L1347.6 532.9 L1345.7 527.6 L1344.0 522.2 L1342.3 516.8 L1340.8 511.4 L1339.3 506.1 L1337.9 500.7 L1336.7 495.3 L1335.5 490.0 L1334.5 484.6 L1333.5 479.3 L1332.7 474.0 L1308.5 468.0 L1309.4 474.2 L1310.6 480.4 L1311.8 486.5 L1313.1 492.7 L1314.6 499.0 L1316.2 505.2 L1317.8 511.4 L1319.7 517.7 L1321.6 523.9 L1323.6 530.1 L1325.8 536.3 L1328.0 542.5 L1330.4 548.7 L1332.8 554.8 L1335.4 560.9 L1338.1 567.0 L1340.9 573.0 L1343.7 579.0 L1346.7 585.0 L1349.8 590.9 L1353.0 596.7 L1356.2 602.5 L1359.5 608.2 L1363.0 613.9 L1366.5 619.5 L1370.1 625.0 L1373.8 630.4 L1377.5 635.8 L1381.3 641.1 L1385.2 646.3 L1389.2 651.3 L1393.2 656.3 L1397.3 661.2 L1401.5 666.0 L1405.7 670.7 L1409.9 675.3 L1414.2 679.8 L1418.6 684.1 L1423.0 688.3 L1427.5 692.4 L1432.0 696.4 L1436.5 700.3 L1441.1 704.0 L1445.7 707.6 L1450.3 711.1 L1454.9 714.4 L1459.6 717.6 L1464.3 720.6 L1469.0 723.5 L1473.7 726.3 L1478.4 728.9 L1483.1 731.4 L1487.9 733.7 L1492.6 735.8 L1497.3 737.9 L1502.0 739.7 L1506.7 741.4 L1511.4 742.9 L1516.1 744.3Z" fill="none" stroke="#050707" stroke-width="3.00" stroke-linejoin="round"/>
<path d="M1450.3 277.5 L1455.1 309.5 L1459.1 310.5 L1463.1 311.7 L1467.2 313.0 L1471.2 314.5 L1475.3 316.1 L1479.4 317.8 L1483.5 319.7 L1487.5 321.7 L1491.6 323.8 L1495.7 326.1 L1499.8 328.4 L1503.8 330.9 L1507.9 333.6 L1511.9 336.3 L1515.9 339.2 L1519.9 342.2 L1523.9 345.3 L1527.8 348.5 L1531.7 351.8 L1535.6 355.3 L1539.4 358.8 L1543.2 362.5 L1547.0 366.2 L1550.7 370.1 L1554.4 374.1 L1558.1 378.1 L1561.6 382.2 L1565.2 386.5 L1568.7 390.8 L1572.1 395.2 L1575.4 399.6 L1578.7 404.2 L1582.0 408.8 L1585.1 413.5 L1588.2 418.3 L1591.3 423.1 L1594.2 428.0 L1597.1 432.9 L1599.9 437.9 L1602.7 443.0 L1605.3 448.1 L1607.9 453.2 L1610.4 458.4 L1612.8 463.6 L1615.1 468.8 L1617.3 474.1 L1619.4 479.4 L1621.5 484.7 L1623.4 490.1 L1625.3 495.4 L1627.0 500.8 L1628.7 506.2 L1630.2 511.6 L1631.7 516.9 L1633.1 522.3 L1634.3 527.7 L1635.5 533.0 L1636.5 538.4 L1637.5 543.7 L1638.3 549.0 L1662.5 555.0 L1661.6 548.8 L1660.4 542.6 L1659.2 536.5 L1657.9 530.3 L1656.4 524.0 L1654.8 517.8 L1653.2 511.6 L1651.3 505.3 L1649.4 499.1 L1647.4 492.9 L1645.2 486.7 L1643.0 480.5 L1640.6 474.3 L1638.2 468.2 L1635.6 462.1 L1632.9 456.0 L1630.1 450.0 L1627.3 444.0 L1624.3 438.0 L1621.2 432.1 L1618.0 426.3 L1614.8 420.5 L1611.5 414.8 L1608.0 409.1 L1604.5 403.5 L1600.9 398.0 L1597.2 392.6 L1593.5 387.2 L1589.7 381.9 L1585.8 376.7 L1581.8 371.7 L1577.8 366.7 L1573.7 361.8 L1569.5 357.0 L1565.3 352.3 L1561.1 347.7 L1556.8 343.2 L1552.4 338.9 L1548.0 334.7 L1543.5 330.6 L1539.0 326.6 L1534.5 322.7 L1529.9 319.0 L1525.3 315.4 L1520.7 311.9 L1516.1 308.6 L1511.4 305.4 L1506.7 302.4 L1502.0 299.5 L1497.3 296.7 L1492.6 294.1 L1487.9 291.6 L1483.1 289.3 L1478.4 287.2 L1473.7 285.1 L1469.0 283.3 L1464.3 281.6 L1459.6 280.1 L1454.9 278.7Z" fill="#ccd8f6"/>
<path d="M1643.9 546.2 L1638.3 549.0 L1662.5 555.0 L1661.8 550.6Z" fill="#ffffff"/>
<path d="M1643.9 546.2 L1643.1 540.9 L1642.1 535.6 L1641.1 530.2 L1639.9 524.9 L1638.7 519.5 L1637.3 514.1 L1631.7 516.9 L1633.1 522.3 L1634.3 527.7 L1635.5 533.0 L1636.5 538.4 L1637.5 543.7 L1638.3 549.0Z" fill="#d4def8"/>
<path d="M1637.3 514.1 L1635.8 508.8 L1634.3 503.4 L1632.6 498.0 L1630.9 492.6 L1629.0 487.3 L1627.1 481.9 L1625.0 476.6 L1622.9 471.3 L1620.7 466.0 L1618.4 460.8 L1616.0 455.6 L1613.5 450.4 L1610.9 445.3 L1608.3 440.2 L1605.5 435.1 L1602.7 430.1 L1599.8 425.2 L1596.9 420.3 L1593.8 415.5 L1590.7 410.7 L1587.6 406.0 L1584.3 401.4 L1581.0 396.8 L1577.7 392.4 L1574.3 388.0 L1570.8 383.7 L1567.2 379.4 L1563.7 375.3 L1560.0 371.3 L1556.3 367.3 L1552.6 363.4 L1548.8 359.7 L1545.0 356.0 L1541.2 352.5 L1537.3 349.0 L1533.4 345.7 L1529.5 342.5 L1525.5 339.4 L1521.5 336.4 L1517.5 333.5 L1513.5 330.8 L1509.4 328.1 L1505.4 325.6 L1501.3 323.3 L1497.2 321.0 L1493.1 318.9 L1489.1 316.9 L1485.0 315.0 L1480.9 313.3 L1476.8 311.7 L1472.8 310.2 L1468.7 308.9 L1464.7 307.7 L1460.7 306.7 L1455.1 309.5 L1459.1 310.5 L1463.1 311.7 L1467.2 313.0 L1471.2 314.5 L1475.3 316.1 L1479.4 317.8 L1483.5 319.7 L1487.5 321.7 L1491.6 323.8 L1495.7 326.1 L1499.8 328.4 L1503.8 330.9 L1507.9 333.6 L1511.9 336.3 L1515.9 339.2 L1519.9 342.2 L1523.9 345.3 L1527.8 348.5 L1531.7 351.8 L1535.6 355.3 L1539.4 358.8 L1543.2 362.5 L1547.0 366.2 L1550.7 370.1 L1554.4 374.1 L1558.1 378.1 L1561.6 382.2 L1565.2 386.5 L1568.7 390.8 L1572.1 395.2 L1575.4 399.6 L1578.7 404.2 L1582.0 408.8 L1585.1 413.5 L1588.2 418.3 L1591.3 423.1 L1594.2 428.0 L1597.1 432.9 L1599.9 437.9 L1602.7 443.0 L1605.3 448.1 L1607.9 453.2 L1610.4 458.4 L1612.8 463.6 L1615.1 468.8 L1617.3 474.1 L1619.4 479.4 L1621.5 484.7 L1623.4 490.1 L1625.3 495.4 L1627.0 500.8 L1628.7 506.2 L1630.2 511.6 L1631.7 516.9Z" fill="#ffffff"/>
<path d="M1460.7 306.7 L1456.6 279.2 L1454.9 278.7 L1450.3 277.5 L1455.1 309.5Z" fill="#d4def8"/>
<path d="M1661.6 548.8 L1660.4 542.6 L1659.2 536.5 L1657.9 530.3 L1656.4 524.0 L1654.8 517.8 L1653.2 511.6 L1651.3 505.3 L1649.4 499.1 L1647.4 492.9 L1645.2 486.7 L1643.0 480.5 L1640.6 474.3 L1638.2 468.2 L1635.6 462.1 L1632.9 456.0 L1630.1 450.0 L1627.3 444.0 L1624.3 438.0 L1621.2 432.1 L1618.0 426.3 L1614.8 420.5 L1611.5 414.8 L1608.0 409.1 L1604.5 403.5 L1600.9 398.0 L1597.2 392.6 L1593.5 387.2 L1589.7 381.9 L1585.8 376.7 L1581.8 371.7 L1577.8 366.7 L1573.7 361.8 L1569.5 357.0 L1565.3 352.3 L1561.1 347.7 L1556.8 343.2 L1552.4 338.9 L1548.0 334.7 L1543.5 330.6 L1539.0 326.6 L1534.5 322.7 L1529.9 319.0 L1525.3 315.4 L1520.7 311.9 L1516.1 308.6 L1511.4 305.4 L1506.7 302.4 L1502.0 299.5 L1497.3 296.7 L1492.6 294.1 L1487.9 291.6 L1483.1 289.3 L1478.4 287.2 L1473.7 285.1 L1469.0 283.3 L1464.3 281.6 L1459.6 280.1 L1456.6 279.2 L1460.7 306.7 L1464.7 307.7 L1468.7 308.9 L1472.8 310.2 L1476.8 311.7 L1480.9 313.3 L1485.0 315.0 L1489.1 316.9 L1493.1 318.9 L1497.2 321.0 L1501.3 323.3 L1505.4 325.6 L1509.4 328.1 L1513.5 330.8 L1517.5 333.5 L1521.5 336.4 L1525.5 339.4 L1529.5 342.5 L1533.4 345.7 L1537.3 349.0 L1541.2 352.5 L1545.0 356.0 L1548.8 359.7 L1552.6 363.4 L1556.3 367.3 L1560.0 371.3 L1563.7 375.3 L1567.2 379.4 L1570.8 383.7 L1574.3 388.0 L1577.7 392.4 L1581.0 396.8 L1584.3 401.4 L1587.6 406.0 L1590.7 410.7 L1593.8 415.5 L1596.9 420.3 L1599.8 425.2 L1602.7 430.1 L1605.5 435.1 L1608.3 440.2 L1610.9 445.3 L1613.5 450.4 L1616.0 455.6 L1618.4 460.8 L1620.7 466.0 L1622.9 471.3 L1625.0 476.6 L1627.1 481.9 L1629.0 487.3 L1630.9 492.6 L1632.6 498.0 L1634.3 503.4 L1635.8 508.8 L1637.3 514.1 L1638.7 519.5 L1639.9 524.9 L1641.1 530.2 L1642.1 535.6 L1643.1 540.9 L1643.9 546.2 L1661.8 550.6Z" fill="#fff" stroke="#050707" stroke-width="2.30" stroke-linejoin="round"/>
<path d="M1450.3 277.5 L1455.1 309.5 L1459.1 310.5 L1463.1 311.7 L1467.2 313.0 L1471.2 314.5 L1475.3 316.1 L1479.4 317.8 L1483.5 319.7 L1487.5 321.7 L1491.6 323.8 L1495.7 326.1 L1499.8 328.4 L1503.8 330.9 L1507.9 333.6 L1511.9 336.3 L1515.9 339.2 L1519.9 342.2 L1523.9 345.3 L1527.8 348.5 L1531.7 351.8 L1535.6 355.3 L1539.4 358.8 L1543.2 362.5 L1547.0 366.2 L1550.7 370.1 L1554.4 374.1 L1558.1 378.1 L1561.6 382.2 L1565.2 386.5 L1568.7 390.8 L1572.1 395.2 L1575.4 399.6 L1578.7 404.2 L1582.0 408.8 L1585.1 413.5 L1588.2 418.3 L1591.3 423.1 L1594.2 428.0 L1597.1 432.9 L1599.9 437.9 L1602.7 443.0 L1605.3 448.1 L1607.9 453.2 L1610.4 458.4 L1612.8 463.6 L1615.1 468.8 L1617.3 474.1 L1619.4 479.4 L1621.5 484.7 L1623.4 490.1 L1625.3 495.4 L1627.0 500.8 L1628.7 506.2 L1630.2 511.6 L1631.7 516.9 L1633.1 522.3 L1634.3 527.7 L1635.5 533.0 L1636.5 538.4 L1637.5 543.7 L1638.3 549.0 L1662.5 555.0 L1661.6 548.8 L1660.4 542.6 L1659.2 536.5 L1657.9 530.3 L1656.4 524.0 L1654.8 517.8 L1653.2 511.6 L1651.3 505.3 L1649.4 499.1 L1647.4 492.9 L1645.2 486.7 L1643.0 480.5 L1640.6 474.3 L1638.2 468.2 L1635.6 462.1 L1632.9 456.0 L1630.1 450.0 L1627.3 444.0 L1624.3 438.0 L1621.2 432.1 L1618.0 426.3 L1614.8 420.5 L1611.5 414.8 L1608.0 409.1 L1604.5 403.5 L1600.9 398.0 L1597.2 392.6 L1593.5 387.2 L1589.7 381.9 L1585.8 376.7 L1581.8 371.7 L1577.8 366.7 L1573.7 361.8 L1569.5 357.0 L1565.3 352.3 L1561.1 347.7 L1556.8 343.2 L1552.4 338.9 L1548.0 334.7 L1543.5 330.6 L1539.0 326.6 L1534.5 322.7 L1529.9 319.0 L1525.3 315.4 L1520.7 311.9 L1516.1 308.6 L1511.4 305.4 L1506.7 302.4 L1502.0 299.5 L1497.3 296.7 L1492.6 294.1 L1487.9 291.6 L1483.1 289.3 L1478.4 287.2 L1473.7 285.1 L1469.0 283.3 L1464.3 281.6 L1459.6 280.1 L1454.9 278.7Z" fill="none" stroke="#050707" stroke-width="3.00" stroke-linejoin="round"/>
<path d="M1525.9 780.0 L1521.2 748.8 L1516.5 747.6 L1511.8 746.2 L1507.0 744.6 L1502.2 742.9 L1497.5 741.0 L1492.7 739.0 L1487.9 736.8 L1483.1 734.4 L1478.3 731.9 L1473.5 729.3 L1468.8 726.5 L1464.0 723.6 L1459.2 720.5 L1454.5 717.2 L1449.8 713.9 L1445.1 710.4 L1440.4 706.7 L1435.8 702.9 L1431.2 699.0 L1426.7 695.0 L1422.2 690.8 L1417.7 686.5 L1413.3 682.1 L1408.9 677.6 L1404.6 672.9 L1400.3 668.2 L1396.1 663.3 L1391.9 658.4 L1387.8 653.3 L1383.8 648.1 L1370.5 666.1 L1375.0 671.9 L1379.6 677.6 L1384.3 683.3 L1389.1 688.8 L1393.9 694.1 L1398.8 699.4 L1403.8 704.5 L1408.8 709.5 L1413.8 714.4 L1418.9 719.1 L1424.1 723.6 L1429.3 728.1 L1434.5 732.3 L1439.8 736.5 L1445.1 740.4 L1450.4 744.3 L1455.8 747.9 L1461.2 751.4 L1466.6 754.7 L1472.0 757.9 L1477.4 760.9 L1482.8 763.7 L1488.2 766.4 L1493.6 768.9 L1499.0 771.2 L1504.4 773.3 L1509.8 775.2 L1515.2 777.0 L1520.6 778.6Z" fill="#ccd8f6"/>
<path d="M1520.8 774.2 L1515.4 772.4 L1510.0 770.5 L1504.6 768.4 L1499.2 766.1 L1493.8 763.6 L1488.4 760.9 L1483.0 758.1 L1477.6 755.1 L1472.2 751.9 L1466.8 748.6 L1461.4 745.1 L1456.0 741.5 L1450.7 737.6 L1445.4 733.7 L1440.1 729.5 L1434.9 725.3 L1429.7 720.8 L1424.5 716.3 L1419.4 711.6 L1414.4 706.7 L1409.4 701.7 L1404.4 696.6 L1399.5 691.3 L1394.7 686.0 L1389.9 680.5 L1385.2 674.8 L1380.6 669.1 L1376.1 663.3 L1370.5 666.1 L1375.0 671.9 L1379.6 677.6 L1384.3 683.3 L1389.1 688.8 L1393.9 694.1 L1398.8 699.4 L1403.8 704.5 L1408.8 709.5 L1413.8 714.4 L1418.9 719.1 L1424.1 723.6 L1429.3 728.1 L1434.5 732.3 L1439.8 736.5 L1445.1 740.4 L1450.4 744.3 L1455.8 747.9 L1461.2 751.4 L1466.6 754.7 L1472.0 757.9 L1477.4 760.9 L1482.8 763.7 L1488.2 766.4 L1493.6 768.9 L1499.0 771.2 L1504.4 773.3 L1509.8 775.2 L1515.2 777.0 L1520.6 778.6 L1525.9 780.0 L1525.2 775.5Z" fill="#ffffff"/>
<path d="M1376.1 663.3 L1385.6 650.4 L1383.8 648.1 L1370.5 666.1Z" fill="#7f97cf"/>
<path d="M1521.2 748.8 L1516.5 747.6 L1511.8 746.2 L1507.0 744.6 L1502.2 742.9 L1497.5 741.0 L1492.7 739.0 L1487.9 736.8 L1483.1 734.4 L1478.3 731.9 L1473.5 729.3 L1468.8 726.5 L1464.0 723.6 L1459.2 720.5 L1454.5 717.2 L1449.8 713.9 L1445.1 710.4 L1440.4 706.7 L1435.8 702.9 L1431.2 699.0 L1426.7 695.0 L1422.2 690.8 L1417.7 686.5 L1413.3 682.1 L1408.9 677.6 L1404.6 672.9 L1400.3 668.2 L1396.1 663.3 L1391.9 658.4 L1387.8 653.3 L1385.6 650.4 L1376.1 663.3 L1380.6 669.1 L1385.2 674.8 L1389.9 680.5 L1394.7 686.0 L1399.5 691.3 L1404.4 696.6 L1409.4 701.7 L1414.4 706.7 L1419.4 711.6 L1424.5 716.3 L1429.7 720.8 L1434.9 725.3 L1440.1 729.5 L1445.4 733.7 L1450.7 737.6 L1456.0 741.5 L1461.4 745.1 L1466.8 748.6 L1472.2 751.9 L1477.6 755.1 L1483.0 758.1 L1488.4 760.9 L1493.8 763.6 L1499.2 766.1 L1504.6 768.4 L1510.0 770.5 L1515.4 772.4 L1520.8 774.2 L1525.2 775.5Z" fill="#fff" stroke="#050707" stroke-width="2.30" stroke-linejoin="round"/>
<path d="M1525.9 780.0 L1521.2 748.8 L1516.5 747.6 L1511.8 746.2 L1507.0 744.6 L1502.2 742.9 L1497.5 741.0 L1492.7 739.0 L1487.9 736.8 L1483.1 734.4 L1478.3 731.9 L1473.5 729.3 L1468.8 726.5 L1464.0 723.6 L1459.2 720.5 L1454.5 717.2 L1449.8 713.9 L1445.1 710.4 L1440.4 706.7 L1435.8 702.9 L1431.2 699.0 L1426.7 695.0 L1422.2 690.8 L1417.7 686.5 L1413.3 682.1 L1408.9 677.6 L1404.6 672.9 L1400.3 668.2 L1396.1 663.3 L1391.9 658.4 L1387.8 653.3 L1383.8 648.1 L1370.5 666.1 L1375.0 671.9 L1379.6 677.6 L1384.3 683.3 L1389.1 688.8 L1393.9 694.1 L1398.8 699.4 L1403.8 704.5 L1408.8 709.5 L1413.8 714.4 L1418.9 719.1 L1424.1 723.6 L1429.3 728.1 L1434.5 732.3 L1439.8 736.5 L1445.1 740.4 L1450.4 744.3 L1455.8 747.9 L1461.2 751.4 L1466.6 754.7 L1472.0 757.9 L1477.4 760.9 L1482.8 763.7 L1488.2 766.4 L1493.6 768.9 L1499.0 771.2 L1504.4 773.3 L1509.8 775.2 L1515.2 777.0 L1520.6 778.6Z" fill="none" stroke="#050707" stroke-width="3.00" stroke-linejoin="round"/>
<path d="M1282.4 461.7 L1306.0 467.4 L1305.1 461.2 L1304.4 455.1 L1303.8 449.0 L1303.3 442.9 L1302.9 436.8 L1302.6 430.9 L1302.5 424.9 L1302.5 419.1 L1302.6 413.3 L1302.9 407.5 L1303.3 401.9 L1303.8 396.3 L1304.4 390.8 L1305.1 385.3 L1306.0 380.0 L1307.0 374.7 L1308.1 369.6 L1309.4 364.5 L1310.7 359.6 L1312.2 354.7 L1313.8 349.9 L1315.5 345.3 L1317.3 340.8 L1319.3 336.4 L1321.4 332.1 L1323.5 327.9 L1325.8 323.9 L1328.2 320.0 L1330.7 316.2 L1333.3 312.6 L1313.3 286.4 L1310.4 290.5 L1307.6 294.8 L1304.8 299.2 L1302.3 303.8 L1299.8 308.5 L1297.5 313.4 L1295.3 318.4 L1293.2 323.5 L1291.2 328.7 L1289.4 334.1 L1287.8 339.6 L1286.2 345.2 L1284.8 350.9 L1283.5 356.8 L1282.4 362.7 L1281.4 368.8 L1280.6 374.9 L1279.9 381.1 L1279.3 387.5 L1278.9 393.9 L1278.6 400.4 L1278.5 406.9 L1278.5 413.6 L1278.6 420.3 L1278.9 427.0 L1279.3 433.9 L1279.9 440.7 L1280.6 447.7 L1281.4 454.6Z" fill="#ccd8f6"/>
<path d="M1288.0 458.9 L1287.0 451.8 L1286.2 444.9 L1285.5 437.9 L1279.9 440.7 L1280.6 447.7 L1281.4 454.6 L1282.4 461.7Z" fill="#d4def8"/>
<path d="M1285.5 437.9 L1284.9 431.1 L1284.5 424.2 L1284.2 417.5 L1284.1 410.8 L1284.1 404.1 L1284.2 397.6 L1284.5 391.1 L1284.9 384.7 L1285.5 378.3 L1279.9 381.1 L1279.3 387.5 L1278.9 393.9 L1278.6 400.4 L1278.5 406.9 L1278.5 413.6 L1278.6 420.3 L1278.9 427.0 L1279.3 433.9 L1279.9 440.7Z" fill="#a9bef1"/>
<path d="M1285.5 378.3 L1286.2 372.1 L1287.0 366.0 L1288.0 359.9 L1289.1 354.0 L1290.4 348.1 L1291.8 342.4 L1293.4 336.8 L1295.0 331.3 L1296.8 325.9 L1298.8 320.7 L1293.2 323.5 L1291.2 328.7 L1289.4 334.1 L1287.8 339.6 L1286.2 345.2 L1284.8 350.9 L1283.5 356.8 L1282.4 362.7 L1281.4 368.8 L1280.6 374.9 L1279.9 381.1Z" fill="#94aae0"/>
<path d="M1298.8 320.7 L1300.9 315.6 L1303.1 310.6 L1305.4 305.7 L1307.9 301.0 L1310.4 296.4 L1313.2 292.0 L1315.2 288.9 L1313.3 286.4 L1310.4 290.5 L1307.6 294.8 L1304.8 299.2 L1302.3 303.8 L1299.8 308.5 L1297.5 313.4 L1295.3 318.4 L1293.2 323.5Z" fill="#7f97cf"/>
<path d="M1288.0 458.9 L1282.4 461.7 L1306.0 467.4 L1305.4 463.1Z" fill="#ffffff"/>
<path d="M1305.1 461.2 L1304.4 455.1 L1303.8 449.0 L1303.3 442.9 L1302.9 436.8 L1302.6 430.9 L1302.5 424.9 L1302.5 419.1 L1302.6 413.3 L1302.9 407.5 L1303.3 401.9 L1303.8 396.3 L1304.4 390.8 L1305.1 385.3 L1306.0 380.0 L1307.0 374.7 L1308.1 369.6 L1309.4 364.5 L1310.7 359.6 L1312.2 354.7 L1313.8 349.9 L1315.5 345.3 L1317.3 340.8 L1319.3 336.4 L1321.4 332.1 L1323.5 327.9 L1325.8 323.9 L1328.2 320.0 L1330.7 316.2 L1333.3 312.6 L1315.2 288.9 L1313.2 292.0 L1310.4 296.4 L1307.9 301.0 L1305.4 305.7 L1303.1 310.6 L1300.9 315.6 L1298.8 320.7 L1296.8 325.9 L1295.0 331.3 L1293.4 336.8 L1291.8 342.4 L1290.4 348.1 L1289.1 354.0 L1288.0 359.9 L1287.0 366.0 L1286.2 372.1 L1285.5 378.3 L1284.9 384.7 L1284.5 391.1 L1284.2 397.6 L1284.1 404.1 L1284.1 410.8 L1284.2 417.5 L1284.5 424.2 L1284.9 431.1 L1285.5 437.9 L1286.2 444.9 L1287.0 451.8 L1288.0 458.9 L1305.4 463.1Z" fill="#fff" stroke="#050707" stroke-width="2.30" stroke-linejoin="round"/>
<path d="M1282.4 461.7 L1306.0 467.4 L1305.1 461.2 L1304.4 455.1 L1303.8 449.0 L1303.3 442.9 L1302.9 436.8 L1302.6 430.9 L1302.5 424.9 L1302.5 419.1 L1302.6 413.3 L1302.9 407.5 L1303.3 401.9 L1303.8 396.3 L1304.4 390.8 L1305.1 385.3 L1306.0 380.0 L1307.0 374.7 L1308.1 369.6 L1309.4 364.5 L1310.7 359.6 L1312.2 354.7 L1313.8 349.9 L1315.5 345.3 L1317.3 340.8 L1319.3 336.4 L1321.4 332.1 L1323.5 327.9 L1325.8 323.9 L1328.2 320.0 L1330.7 316.2 L1333.3 312.6 L1313.3 286.4 L1310.4 290.5 L1307.6 294.8 L1304.8 299.2 L1302.3 303.8 L1299.8 308.5 L1297.5 313.4 L1295.3 318.4 L1293.2 323.5 L1291.2 328.7 L1289.4 334.1 L1287.8 339.6 L1286.2 345.2 L1284.8 350.9 L1283.5 356.8 L1282.4 362.7 L1281.4 368.8 L1280.6 374.9 L1279.9 381.1 L1279.3 387.5 L1278.9 393.9 L1278.6 400.4 L1278.5 406.9 L1278.5 413.6 L1278.6 420.3 L1278.9 427.0 L1279.3 433.9 L1279.9 440.7 L1280.6 447.7 L1281.4 454.6Z" fill="none" stroke="#050707" stroke-width="3.00" stroke-linejoin="round"/>
<path d="M1445.1 243.0 L1449.8 274.2 L1454.5 275.4 L1459.2 276.8 L1464.0 278.4 L1468.8 280.1 L1473.5 282.0 L1478.3 284.0 L1483.1 286.2 L1487.9 288.6 L1492.7 291.1 L1497.5 293.7 L1502.2 296.5 L1507.0 299.4 L1511.8 302.5 L1516.5 305.8 L1521.2 309.1 L1525.9 312.6 L1530.6 316.3 L1535.2 320.1 L1539.8 324.0 L1544.3 328.0 L1548.8 332.2 L1553.3 336.5 L1557.7 340.9 L1562.1 345.4 L1566.4 350.1 L1570.7 354.8 L1574.9 359.7 L1579.1 364.6 L1583.2 369.7 L1587.2 374.9 L1600.5 356.9 L1596.0 351.1 L1591.4 345.4 L1586.7 339.7 L1581.9 334.2 L1577.1 328.9 L1572.2 323.6 L1567.2 318.5 L1562.2 313.5 L1557.2 308.6 L1552.1 303.9 L1546.9 299.4 L1541.7 294.9 L1536.5 290.7 L1531.2 286.5 L1525.9 282.6 L1520.6 278.7 L1515.2 275.1 L1509.8 271.6 L1504.4 268.3 L1499.0 265.1 L1493.6 262.1 L1488.2 259.3 L1482.8 256.6 L1477.4 254.1 L1472.0 251.8 L1466.6 249.7 L1461.2 247.8 L1455.8 246.0 L1450.4 244.4Z" fill="#ccd8f6"/>
<path d="M1588.8 366.9 L1584.7 361.8 L1580.5 356.9 L1576.3 352.0 L1572.0 347.3 L1567.7 342.6 L1563.3 338.1 L1558.9 333.7 L1554.4 329.4 L1549.9 325.2 L1545.4 321.2 L1540.8 317.3 L1536.2 313.5 L1531.5 309.8 L1526.8 306.3 L1522.1 303.0 L1517.4 299.7 L1512.6 296.6 L1507.8 293.7 L1503.1 290.9 L1498.3 288.3 L1493.5 285.8 L1488.7 283.4 L1483.9 281.2 L1479.1 279.2 L1474.4 277.3 L1469.6 275.6 L1464.8 274.0 L1460.1 272.6 L1455.4 271.4 L1449.8 274.2 L1454.5 275.4 L1459.2 276.8 L1464.0 278.4 L1468.8 280.1 L1473.5 282.0 L1478.3 284.0 L1483.1 286.2 L1487.9 288.6 L1492.7 291.1 L1497.5 293.7 L1502.2 296.5 L1507.0 299.4 L1511.8 302.5 L1516.5 305.8 L1521.2 309.1 L1525.9 312.6 L1530.6 316.3 L1535.2 320.1 L1539.8 324.0 L1544.3 328.0 L1548.8 332.2 L1553.3 336.5 L1557.7 340.9 L1562.1 345.4 L1566.4 350.1 L1570.7 354.8 L1574.9 359.7 L1579.1 364.6 L1583.2 369.7 L1587.2 374.9 L1591.0 369.8Z" fill="#ffffff"/>
<path d="M1455.4 271.4 L1451.4 244.7 L1450.4 244.4 L1445.1 243.0 L1449.8 274.2Z" fill="#d4def8"/>
<path d="M1600.5 356.9 L1596.0 351.1 L1591.4 345.4 L1586.7 339.7 L1581.9 334.2 L1577.1 328.9 L1572.2 323.6 L1567.2 318.5 L1562.2 313.5 L1557.2 308.6 L1552.1 303.9 L1546.9 299.4 L1541.7 294.9 L1536.5 290.7 L1531.2 286.5 L1525.9 282.6 L1520.6 278.7 L1515.2 275.1 L1509.8 271.6 L1504.4 268.3 L1499.0 265.1 L1493.6 262.1 L1488.2 259.3 L1482.8 256.6 L1477.4 254.1 L1472.0 251.8 L1466.6 249.7 L1461.2 247.8 L1455.8 246.0 L1451.4 244.7 L1455.4 271.4 L1460.1 272.6 L1464.8 274.0 L1469.6 275.6 L1474.4 277.3 L1479.1 279.2 L1483.9 281.2 L1488.7 283.4 L1493.5 285.8 L1498.3 288.3 L1503.1 290.9 L1507.8 293.7 L1512.6 296.6 L1517.4 299.7 L1522.1 303.0 L1526.8 306.3 L1531.5 309.8 L1536.2 313.5 L1540.8 317.3 L1545.4 321.2 L1549.9 325.2 L1554.4 329.4 L1558.9 333.7 L1563.3 338.1 L1567.7 342.6 L1572.0 347.3 L1576.3 352.0 L1580.5 356.9 L1584.7 361.8 L1588.8 366.9 L1591.0 369.8Z" fill="#fff" stroke="#050707" stroke-width="2.30" stroke-linejoin="round"/>
<path d="M1445.1 243.0 L1449.8 274.2 L1454.5 275.4 L1459.2 276.8 L1464.0 278.4 L1468.8 280.1 L1473.5 282.0 L1478.3 284.0 L1483.1 286.2 L1487.9 288.6 L1492.7 291.1 L1497.5 293.7 L1502.2 296.5 L1507.0 299.4 L1511.8 302.5 L1516.5 305.8 L1521.2 309.1 L1525.9 312.6 L1530.6 316.3 L1535.2 320.1 L1539.8 324.0 L1544.3 328.0 L1548.8 332.2 L1553.3 336.5 L1557.7 340.9 L1562.1 345.4 L1566.4 350.1 L1570.7 354.8 L1574.9 359.7 L1579.1 364.6 L1583.2 369.7 L1587.2 374.9 L1600.5 356.9 L1596.0 351.1 L1591.4 345.4 L1586.7 339.7 L1581.9 334.2 L1577.1 328.9 L1572.2 323.6 L1567.2 318.5 L1562.2 313.5 L1557.2 308.6 L1552.1 303.9 L1546.9 299.4 L1541.7 294.9 L1536.5 290.7 L1531.2 286.5 L1525.9 282.6 L1520.6 278.7 L1515.2 275.1 L1509.8 271.6 L1504.4 268.3 L1499.0 265.1 L1493.6 262.1 L1488.2 259.3 L1482.8 256.6 L1477.4 254.1 L1472.0 251.8 L1466.6 249.7 L1461.2 247.8 L1455.8 246.0 L1450.4 244.4Z" fill="none" stroke="#050707" stroke-width="3.00" stroke-linejoin="round"/>
<path d="M1688.6 561.3 L1665.0 555.6 L1665.9 561.8 L1666.6 567.9 L1667.2 574.0 L1667.7 580.1 L1668.1 586.2 L1668.4 592.1 L1668.5 598.1 L1668.5 603.9 L1668.4 609.7 L1668.1 615.5 L1667.7 621.1 L1667.2 626.7 L1666.6 632.2 L1665.9 637.7 L1665.0 643.0 L1664.0 648.3 L1662.9 653.4 L1661.6 658.5 L1660.3 663.4 L1658.8 668.3 L1657.2 673.1 L1655.5 677.7 L1653.7 682.2 L1651.7 686.6 L1649.6 690.9 L1647.5 695.1 L1645.2 699.1 L1642.8 703.0 L1640.3 706.8 L1637.7 710.4 L1657.7 736.6 L1660.6 732.5 L1663.4 728.2 L1666.2 723.8 L1668.7 719.2 L1671.2 714.5 L1673.5 709.6 L1675.7 704.6 L1677.8 699.5 L1679.8 694.3 L1681.6 688.9 L1683.2 683.4 L1684.8 677.8 L1686.2 672.1 L1687.5 666.2 L1688.6 660.3 L1689.6 654.2 L1690.4 648.1 L1691.1 641.9 L1691.7 635.5 L1692.1 629.1 L1692.4 622.6 L1692.5 616.1 L1692.5 609.4 L1692.4 602.7 L1692.1 596.0 L1691.7 589.1 L1691.1 582.3 L1690.4 575.3 L1689.6 568.4Z" fill="#ccd8f6"/>
<path d="M1643.3 707.6 L1637.7 710.4 L1657.7 736.6 L1660.6 732.5 L1661.4 731.3Z" fill="#ffffff"/>
<path d="M1643.3 707.6 L1645.9 704.0 L1648.4 700.2 L1650.8 696.3 L1653.1 692.3 L1655.2 688.1 L1657.3 683.8 L1659.3 679.4 L1661.1 674.9 L1655.5 677.7 L1653.7 682.2 L1651.7 686.6 L1649.6 690.9 L1647.5 695.1 L1645.2 699.1 L1642.8 703.0 L1640.3 706.8 L1637.7 710.4Z" fill="#7f97cf"/>
<path d="M1661.1 674.9 L1662.8 670.3 L1664.4 665.5 L1665.9 660.6 L1667.2 655.7 L1668.5 650.6 L1669.6 645.5 L1670.6 640.2 L1671.5 634.9 L1672.2 629.4 L1672.8 623.9 L1667.2 626.7 L1666.6 632.2 L1665.9 637.7 L1665.0 643.0 L1664.0 648.3 L1662.9 653.4 L1661.6 658.5 L1660.3 663.4 L1658.8 668.3 L1657.2 673.1 L1655.5 677.7Z" fill="#94aae0"/>
<path d="M1672.8 623.9 L1673.3 618.3 L1673.7 612.7 L1674.0 606.9 L1674.1 601.1 L1674.1 595.3 L1674.0 589.3 L1673.7 583.4 L1673.3 577.3 L1672.8 571.2 L1667.2 574.0 L1667.7 580.1 L1668.1 586.2 L1668.4 592.1 L1668.5 598.1 L1668.5 603.9 L1668.4 609.7 L1668.1 615.5 L1667.7 621.1 L1667.2 626.7Z" fill="#a9bef1"/>
<path d="M1672.8 571.2 L1672.2 565.1 L1671.5 559.0 L1671.2 557.1 L1665.0 555.6 L1665.9 561.8 L1666.6 567.9 L1667.2 574.0Z" fill="#d4def8"/>
<path d="M1671.2 557.1 L1671.5 559.0 L1672.2 565.1 L1672.8 571.2 L1673.3 577.3 L1673.7 583.4 L1674.0 589.3 L1674.1 595.3 L1674.1 601.1 L1674.0 606.9 L1673.7 612.7 L1673.3 618.3 L1672.8 623.9 L1672.2 629.4 L1671.5 634.9 L1670.6 640.2 L1669.6 645.5 L1668.5 650.6 L1667.2 655.7 L1665.9 660.6 L1664.4 665.5 L1662.8 670.3 L1661.1 674.9 L1659.3 679.4 L1657.3 683.8 L1655.2 688.1 L1653.1 692.3 L1650.8 696.3 L1648.4 700.2 L1645.9 704.0 L1643.3 707.6 L1661.4 731.3 L1663.4 728.2 L1666.2 723.8 L1668.7 719.2 L1671.2 714.5 L1673.5 709.6 L1675.7 704.6 L1677.8 699.5 L1679.8 694.3 L1681.6 688.9 L1683.2 683.4 L1684.8 677.8 L1686.2 672.1 L1687.5 666.2 L1688.6 660.3 L1689.6 654.2 L1690.4 648.1 L1691.1 641.9 L1691.7 635.5 L1692.1 629.1 L1692.4 622.6 L1692.5 616.1 L1692.5 609.4 L1692.4 602.7 L1692.1 596.0 L1691.7 589.1 L1691.1 582.3 L1690.4 575.3 L1689.6 568.4 L1688.6 561.3Z" fill="#fff" stroke="#050707" stroke-width="2.30" stroke-linejoin="round"/>
<path d="M1688.6 561.3 L1665.0 555.6 L1665.9 561.8 L1666.6 567.9 L1667.2 574.0 L1667.7 580.1 L1668.1 586.2 L1668.4 592.1 L1668.5 598.1 L1668.5 603.9 L1668.4 609.7 L1668.1 615.5 L1667.7 621.1 L1667.2 626.7 L1666.6 632.2 L1665.9 637.7 L1665.0 643.0 L1664.0 648.3 L1662.9 653.4 L1661.6 658.5 L1660.3 663.4 L1658.8 668.3 L1657.2 673.1 L1655.5 677.7 L1653.7 682.2 L1651.7 686.6 L1649.6 690.9 L1647.5 695.1 L1645.2 699.1 L1642.8 703.0 L1640.3 706.8 L1637.7 710.4 L1657.7 736.6 L1660.6 732.5 L1663.4 728.2 L1666.2 723.8 L1668.7 719.2 L1671.2 714.5 L1673.5 709.6 L1675.7 704.6 L1677.8 699.5 L1679.8 694.3 L1681.6 688.9 L1683.2 683.4 L1684.8 677.8 L1686.2 672.1 L1687.5 666.2 L1688.6 660.3 L1689.6 654.2 L1690.4 648.1 L1691.1 641.9 L1691.7 635.5 L1692.1 629.1 L1692.4 622.6 L1692.5 616.1 L1692.5 609.4 L1692.4 602.7 L1692.1 596.0 L1691.7 589.1 L1691.1 582.3 L1690.4 575.3 L1689.6 568.4Z" fill="none" stroke="#050707" stroke-width="3.00" stroke-linejoin="round"/>
<path d="M1531.5 817.1 L1526.4 783.2 L1521.0 781.8 L1515.6 780.2 L1510.1 778.4 L1504.7 776.5 L1499.2 774.3 L1493.7 772.0 L1488.2 769.5 L1482.8 766.8 L1477.3 763.9 L1471.8 760.9 L1466.3 757.7 L1460.9 754.3 L1455.4 750.8 L1450.0 747.1 L1444.6 743.2 L1439.5 772.1 L1445.6 776.5 L1451.7 780.7 L1457.8 784.6 L1463.9 788.4 L1470.1 792.0 L1476.2 795.4 L1482.4 798.7 L1488.6 801.7 L1494.8 804.5 L1500.9 807.1 L1507.1 809.5 L1513.2 811.7 L1519.3 813.7 L1525.4 815.5Z" fill="#ccd8f6"/>
<path d="M1524.9 810.9 L1518.8 808.9 L1512.7 806.7 L1506.5 804.3 L1500.4 801.7 L1494.2 798.9 L1488.0 795.9 L1481.8 792.6 L1475.7 789.2 L1469.5 785.6 L1463.4 781.8 L1457.3 777.9 L1451.2 773.7 L1445.1 769.3 L1439.5 772.1 L1445.6 776.5 L1451.7 780.7 L1457.8 784.6 L1463.9 788.4 L1470.1 792.0 L1476.2 795.4 L1482.4 798.7 L1488.6 801.7 L1494.8 804.5 L1500.9 807.1 L1507.1 809.5 L1513.2 811.7 L1519.3 813.7 L1525.4 815.5 L1531.5 817.1 L1530.8 812.7Z" fill="#ffffff"/>
<path d="M1445.1 769.3 L1449.1 746.5 L1444.6 743.2 L1439.5 772.1Z" fill="#94aae0"/>
<path d="M1526.4 783.2 L1521.0 781.8 L1515.6 780.2 L1510.1 778.4 L1504.7 776.5 L1499.2 774.3 L1493.7 772.0 L1488.2 769.5 L1482.8 766.8 L1477.3 763.9 L1471.8 760.9 L1466.3 757.7 L1460.9 754.3 L1455.4 750.8 L1450.0 747.1 L1449.1 746.5 L1445.1 769.3 L1451.2 773.7 L1457.3 777.9 L1463.4 781.8 L1469.5 785.6 L1475.7 789.2 L1481.8 792.6 L1488.0 795.9 L1494.2 798.9 L1500.4 801.7 L1506.5 804.3 L1512.7 806.7 L1518.8 808.9 L1524.9 810.9 L1530.8 812.7Z" fill="#fff" stroke="#050707" stroke-width="2.30" stroke-linejoin="round"/>
<path d="M1531.5 817.1 L1526.4 783.2 L1521.0 781.8 L1515.6 780.2 L1510.1 778.4 L1504.7 776.5 L1499.2 774.3 L1493.7 772.0 L1488.2 769.5 L1482.8 766.8 L1477.3 763.9 L1471.8 760.9 L1466.3 757.7 L1460.9 754.3 L1455.4 750.8 L1450.0 747.1 L1444.6 743.2 L1439.5 772.1 L1445.6 776.5 L1451.7 780.7 L1457.8 784.6 L1463.9 788.4 L1470.1 792.0 L1476.2 795.4 L1482.4 798.7 L1488.6 801.7 L1494.8 804.5 L1500.9 807.1 L1507.1 809.5 L1513.2 811.7 L1519.3 813.7 L1525.4 815.5Z" fill="none" stroke="#050707" stroke-width="3.00" stroke-linejoin="round"/>
<path d="M1354.5 687.5 L1369.1 668.0 L1364.5 661.9 L1360.1 655.8 L1355.8 649.6 L1351.5 643.3 L1347.3 636.9 L1343.2 630.4 L1339.3 623.8 L1335.4 617.2 L1331.6 610.5 L1327.9 603.7 L1324.4 596.8 L1320.9 589.9 L1317.6 582.9 L1314.4 575.9 L1311.2 568.9 L1289.5 576.0 L1293.0 584.0 L1296.6 591.9 L1300.4 599.7 L1304.3 607.5 L1308.3 615.2 L1312.4 622.8 L1316.6 630.4 L1321.0 637.8 L1325.5 645.2 L1330.1 652.5 L1334.8 659.7 L1339.6 666.8 L1344.5 673.8 L1349.4 680.7Z" fill="#ccd8f6"/>
<path d="M1355.0 677.9 L1350.1 671.0 L1345.2 664.0 L1340.4 656.9 L1335.7 649.7 L1331.1 642.4 L1326.6 635.0 L1322.2 627.6 L1318.0 620.0 L1313.9 612.4 L1309.9 604.7 L1306.0 596.9 L1302.2 589.1 L1298.6 581.2 L1295.5 574.1 L1289.5 576.0 L1293.0 584.0 L1296.6 591.9 L1300.4 599.7 L1304.3 607.5 L1308.3 615.2 L1312.4 622.8 L1316.6 630.4 L1321.0 637.8 L1325.5 645.2 L1330.1 652.5 L1334.8 659.7 L1339.6 666.8 L1344.5 673.8 L1349.4 680.7 L1354.5 687.5 L1358.4 682.3Z" fill="#ffffff"/>
<path d="M1369.1 668.0 L1364.5 661.9 L1360.1 655.8 L1355.8 649.6 L1351.5 643.3 L1347.3 636.9 L1343.2 630.4 L1339.3 623.8 L1335.4 617.2 L1331.6 610.5 L1327.9 603.7 L1324.4 596.8 L1320.9 589.9 L1317.6 582.9 L1314.4 575.9 L1311.2 568.9 L1295.5 574.1 L1298.6 581.2 L1302.2 589.1 L1306.0 596.9 L1309.9 604.7 L1313.9 612.4 L1318.0 620.0 L1322.2 627.6 L1326.6 635.0 L1331.1 642.4 L1335.7 649.7 L1340.4 656.9 L1345.2 664.0 L1350.1 671.0 L1355.0 677.9 L1358.4 682.3Z" fill="#fff" stroke="#050707" stroke-width="2.30" stroke-linejoin="round"/>
<path d="M1354.5 687.5 L1369.1 668.0 L1364.5 661.9 L1360.1 655.8 L1355.8 649.6 L1351.5 643.3 L1347.3 636.9 L1343.2 630.4 L1339.3 623.8 L1335.4 617.2 L1331.6 610.5 L1327.9 603.7 L1324.4 596.8 L1320.9 589.9 L1317.6 582.9 L1314.4 575.9 L1311.2 568.9 L1289.5 576.0 L1293.0 584.0 L1296.6 591.9 L1300.4 599.7 L1304.3 607.5 L1308.3 615.2 L1312.4 622.8 L1316.6 630.4 L1321.0 637.8 L1325.5 645.2 L1330.1 652.5 L1334.8 659.7 L1339.6 666.8 L1344.5 673.8 L1349.4 680.7Z" fill="none" stroke="#050707" stroke-width="3.00" stroke-linejoin="round"/>
<path d="M1254.3 454.7 L1280.0 461.0 L1279.0 453.9 L1278.1 446.9 L1277.4 439.9 L1276.8 432.9 L1276.4 426.0 L1276.1 419.2 L1275.9 412.4 L1275.9 405.7 L1276.1 399.0 L1276.4 392.4 L1276.8 385.9 L1277.4 379.5 L1278.1 373.2 L1279.0 367.0 L1280.0 360.9 L1254.3 342.1 L1253.2 349.0 L1252.2 356.0 L1251.4 363.1 L1250.8 370.3 L1250.3 377.6 L1250.0 385.0 L1249.8 392.4 L1249.8 400.0 L1250.0 407.6 L1250.3 415.3 L1250.8 423.1 L1251.4 430.9 L1252.2 438.8 L1253.2 446.8Z" fill="#ccd8f6"/>
<path d="M1259.9 451.9 L1258.8 444.0 L1257.8 436.0 L1257.0 428.1 L1251.4 430.9 L1252.2 438.8 L1253.2 446.8 L1254.3 454.7Z" fill="#d4def8"/>
<path d="M1257.0 428.1 L1256.4 420.3 L1255.9 412.5 L1255.6 404.8 L1255.4 397.2 L1255.4 389.6 L1255.6 382.2 L1255.9 374.8 L1256.4 367.5 L1257.0 360.3 L1251.4 363.1 L1250.8 370.3 L1250.3 377.6 L1250.0 385.0 L1249.8 392.4 L1249.8 400.0 L1250.0 407.6 L1250.3 415.3 L1250.8 423.1 L1251.4 430.9Z" fill="#a9bef1"/>
<path d="M1257.0 360.3 L1257.8 353.2 L1258.8 346.2 L1258.9 345.5 L1254.3 342.1 L1253.2 349.0 L1252.2 356.0 L1251.4 363.1Z" fill="#94aae0"/>
<path d="M1259.9 451.9 L1254.3 454.7 L1280.0 461.0 L1279.3 456.7Z" fill="#ffffff"/>
<path d="M1279.0 453.9 L1278.1 446.9 L1277.4 439.9 L1276.8 432.9 L1276.4 426.0 L1276.1 419.2 L1275.9 412.4 L1275.9 405.7 L1276.1 399.0 L1276.4 392.4 L1276.8 385.9 L1277.4 379.5 L1278.1 373.2 L1279.0 367.0 L1280.0 360.9 L1258.9 345.5 L1258.8 346.2 L1257.8 353.2 L1257.0 360.3 L1256.4 367.5 L1255.9 374.8 L1255.6 382.2 L1255.4 389.6 L1255.4 397.2 L1255.6 404.8 L1255.9 412.5 L1256.4 420.3 L1257.0 428.1 L1257.8 436.0 L1258.8 444.0 L1259.9 451.9 L1279.3 456.7Z" fill="#fff" stroke="#050707" stroke-width="2.30" stroke-linejoin="round"/>
<path d="M1254.3 454.7 L1280.0 461.0 L1279.0 453.9 L1278.1 446.9 L1277.4 439.9 L1276.8 432.9 L1276.4 426.0 L1276.1 419.2 L1275.9 412.4 L1275.9 405.7 L1276.1 399.0 L1276.4 392.4 L1276.8 385.9 L1277.4 379.5 L1278.1 373.2 L1279.0 367.0 L1280.0 360.9 L1254.3 342.1 L1253.2 349.0 L1252.2 356.0 L1251.4 363.1 L1250.8 370.3 L1250.3 377.6 L1250.0 385.0 L1249.8 392.4 L1249.8 400.0 L1250.0 407.6 L1250.3 415.3 L1250.8 423.1 L1251.4 430.9 L1252.2 438.8 L1253.2 446.8Z" fill="none" stroke="#050707" stroke-width="3.00" stroke-linejoin="round"/>
<path d="M1289.5 255.3 L1311.2 283.7 L1314.4 279.7 L1317.6 275.8 L1320.9 272.1 L1324.4 268.6 L1327.9 265.2 L1331.6 262.0 L1335.4 259.0 L1339.3 256.1 L1343.2 253.5 L1347.3 251.0 L1351.5 248.6 L1355.8 246.5 L1360.1 244.5 L1364.5 242.7 L1369.1 241.2 L1354.5 207.4 L1349.4 209.2 L1344.5 211.2 L1339.6 213.4 L1334.8 215.8 L1330.1 218.4 L1325.5 221.3 L1321.0 224.3 L1316.6 227.5 L1312.4 230.9 L1308.3 234.5 L1304.3 238.3 L1300.4 242.2 L1296.6 246.4 L1293.0 250.7Z" fill="#ccd8f6"/>
<path d="M1295.1 252.5 L1298.6 247.9 L1302.2 243.6 L1306.0 239.4 L1309.9 235.5 L1313.9 231.7 L1318.0 228.1 L1322.2 224.7 L1326.6 221.5 L1331.1 218.5 L1335.7 215.6 L1340.1 213.2 L1339.6 213.4 L1334.8 215.8 L1330.1 218.4 L1325.5 221.3 L1321.0 224.3 L1316.6 227.5 L1312.4 230.9 L1308.3 234.5 L1304.3 238.3 L1300.4 242.2 L1296.6 246.4 L1293.0 250.7 L1289.5 255.3Z" fill="#7f97cf"/>
<path d="M1365.7 241.7 L1361.4 243.7 L1355.8 246.5 L1360.1 244.5 L1364.5 242.7 L1369.1 241.2 L1368.8 240.5Z" fill="#ffffff"/>
<path d="M1295.1 252.5 L1289.5 255.3 L1311.2 283.7 L1314.4 279.7 L1315.2 278.7Z" fill="#ffffff"/>
<path d="M1317.6 275.8 L1320.9 272.1 L1324.4 268.6 L1327.9 265.2 L1331.6 262.0 L1335.4 259.0 L1339.3 256.1 L1343.2 253.5 L1347.3 251.0 L1351.5 248.6 L1355.8 246.5 L1356.6 246.1 L1357.1 245.8 L1361.4 243.7 L1365.7 241.7 L1368.8 240.5 L1354.5 207.4 L1349.4 209.2 L1344.5 211.2 L1340.1 213.2 L1335.7 215.6 L1331.1 218.5 L1326.6 221.5 L1322.2 224.7 L1318.0 228.1 L1313.9 231.7 L1309.9 235.5 L1306.0 239.4 L1302.2 243.6 L1298.6 247.9 L1295.1 252.5 L1315.2 278.7Z" fill="#fff" stroke="#050707" stroke-width="2.30" stroke-linejoin="round"/>
<path d="M1289.5 255.3 L1311.2 283.7 L1314.4 279.7 L1317.6 275.8 L1320.9 272.1 L1324.4 268.6 L1327.9 265.2 L1331.6 262.0 L1335.4 259.0 L1339.3 256.1 L1343.2 253.5 L1347.3 251.0 L1351.5 248.6 L1355.8 246.5 L1360.1 244.5 L1364.5 242.7 L1369.1 241.2 L1354.5 207.4 L1349.4 209.2 L1344.5 211.2 L1339.6 213.4 L1334.8 215.8 L1330.1 218.4 L1325.5 221.3 L1321.0 224.3 L1316.6 227.5 L1312.4 230.9 L1308.3 234.5 L1304.3 238.3 L1300.4 242.2 L1296.6 246.4 L1293.0 250.7Z" fill="none" stroke="#050707" stroke-width="3.00" stroke-linejoin="round"/>
<path d="M1439.5 205.9 L1444.6 239.8 L1450.0 241.2 L1455.4 242.8 L1460.9 244.6 L1466.3 246.5 L1471.8 248.7 L1477.3 251.0 L1482.8 253.5 L1488.2 256.2 L1493.7 259.1 L1499.2 262.1 L1504.7 265.3 L1510.1 268.7 L1515.6 272.2 L1521.0 275.9 L1526.4 279.8 L1531.5 250.9 L1525.4 246.5 L1519.3 242.3 L1513.2 238.4 L1507.1 234.6 L1500.9 231.0 L1494.8 227.6 L1488.6 224.3 L1482.4 221.3 L1476.2 218.5 L1470.1 215.9 L1463.9 213.5 L1457.8 211.3 L1451.7 209.3 L1445.6 207.5Z" fill="#ccd8f6"/>
<path d="M1526.6 273.1 L1521.2 269.4 L1515.7 265.9 L1510.3 262.5 L1504.8 259.3 L1499.3 256.3 L1493.8 253.4 L1488.4 250.7 L1482.9 248.2 L1477.4 245.9 L1471.9 243.7 L1466.5 241.8 L1461.0 240.0 L1455.6 238.4 L1450.2 237.0 L1444.6 239.8 L1450.0 241.2 L1455.4 242.8 L1460.9 244.6 L1466.3 246.5 L1471.8 248.7 L1477.3 251.0 L1482.8 253.5 L1488.2 256.2 L1493.7 259.1 L1499.2 262.1 L1504.7 265.3 L1510.1 268.7 L1515.6 272.2 L1521.0 275.9 L1526.4 279.8 L1527.5 273.7Z" fill="#ffffff"/>
<path d="M1450.2 237.0 L1445.8 207.5 L1445.6 207.5 L1439.5 205.9 L1444.6 239.8Z" fill="#d4def8"/>
<path d="M1531.5 250.9 L1525.4 246.5 L1519.3 242.3 L1513.2 238.4 L1507.1 234.6 L1500.9 231.0 L1494.8 227.6 L1488.6 224.3 L1482.4 221.3 L1476.2 218.5 L1470.1 215.9 L1463.9 213.5 L1457.8 211.3 L1451.7 209.3 L1445.8 207.5 L1450.2 237.0 L1455.6 238.4 L1461.0 240.0 L1466.5 241.8 L1471.9 243.7 L1477.4 245.9 L1482.9 248.2 L1488.4 250.7 L1493.8 253.4 L1499.3 256.3 L1504.8 259.3 L1510.3 262.5 L1515.7 265.9 L1521.2 269.4 L1526.6 273.1 L1527.5 273.7Z" fill="#fff" stroke="#050707" stroke-width="2.30" stroke-linejoin="round"/>
<path d="M1439.5 205.9 L1444.6 239.8 L1450.0 241.2 L1455.4 242.8 L1460.9 244.6 L1466.3 246.5 L1471.8 248.7 L1477.3 251.0 L1482.8 253.5 L1488.2 256.2 L1493.7 259.1 L1499.2 262.1 L1504.7 265.3 L1510.1 268.7 L1515.6 272.2 L1521.0 275.9 L1526.4 279.8 L1531.5 250.9 L1525.4 246.5 L1519.3 242.3 L1513.2 238.4 L1507.1 234.6 L1500.9 231.0 L1494.8 227.6 L1488.6 224.3 L1482.4 221.3 L1476.2 218.5 L1470.1 215.9 L1463.9 213.5 L1457.8 211.3 L1451.7 209.3 L1445.6 207.5Z" fill="none" stroke="#050707" stroke-width="3.00" stroke-linejoin="round"/>
<path d="M1616.5 335.5 L1601.9 355.0 L1606.5 361.1 L1610.9 367.2 L1615.2 373.4 L1619.5 379.7 L1623.7 386.1 L1627.8 392.6 L1631.7 399.2 L1635.6 405.8 L1639.4 412.5 L1643.1 419.3 L1646.6 426.2 L1650.1 433.1 L1653.4 440.1 L1656.6 447.1 L1659.8 454.1 L1681.5 447.0 L1678.0 439.0 L1674.4 431.1 L1670.6 423.3 L1666.7 415.5 L1662.7 407.8 L1658.6 400.2 L1654.4 392.6 L1650.0 385.2 L1645.5 377.8 L1640.9 370.5 L1636.2 363.3 L1631.4 356.2 L1626.5 349.2 L1621.6 342.3Z" fill="#ccd8f6"/>
<path d="M1665.4 451.3 L1662.2 444.3 L1659.0 437.3 L1655.7 430.3 L1652.2 423.4 L1648.7 416.5 L1645.0 409.7 L1641.2 403.0 L1637.3 396.4 L1633.4 389.8 L1629.3 383.3 L1625.1 376.9 L1620.8 370.6 L1616.5 364.4 L1612.1 358.3 L1607.5 352.2 L1601.9 355.0 L1606.5 361.1 L1610.9 367.2 L1615.2 373.4 L1619.5 379.7 L1623.7 386.1 L1627.8 392.6 L1631.7 399.2 L1635.6 405.8 L1639.4 412.5 L1643.1 419.3 L1646.6 426.2 L1650.1 433.1 L1653.4 440.1 L1656.6 447.1 L1659.8 454.1 L1681.5 447.0 L1681.1 446.1Z" fill="#ffffff"/>
<path d="M1607.5 352.2 L1618.2 337.9 L1616.5 335.5 L1601.9 355.0Z" fill="#7f97cf"/>
<path d="M1678.0 439.0 L1674.4 431.1 L1670.6 423.3 L1666.7 415.5 L1662.7 407.8 L1658.6 400.2 L1654.4 392.6 L1650.0 385.2 L1645.5 377.8 L1640.9 370.5 L1636.2 363.3 L1631.4 356.2 L1626.5 349.2 L1621.6 342.3 L1618.2 337.9 L1607.5 352.2 L1612.1 358.3 L1616.5 364.4 L1620.8 370.6 L1625.1 376.9 L1629.3 383.3 L1633.4 389.8 L1637.3 396.4 L1641.2 403.0 L1645.0 409.7 L1648.7 416.5 L1652.2 423.4 L1655.7 430.3 L1659.0 437.3 L1662.2 444.3 L1665.4 451.3 L1681.1 446.1Z" fill="#fff" stroke="#050707" stroke-width="2.30" stroke-linejoin="round"/>
<path d="M1616.5 335.5 L1601.9 355.0 L1606.5 361.1 L1610.9 367.2 L1615.2 373.4 L1619.5 379.7 L1623.7 386.1 L1627.8 392.6 L1631.7 399.2 L1635.6 405.8 L1639.4 412.5 L1643.1 419.3 L1646.6 426.2 L1650.1 433.1 L1653.4 440.1 L1656.6 447.1 L1659.8 454.1 L1681.5 447.0 L1678.0 439.0 L1674.4 431.1 L1670.6 423.3 L1666.7 415.5 L1662.7 407.8 L1658.6 400.2 L1654.4 392.6 L1650.0 385.2 L1645.5 377.8 L1640.9 370.5 L1636.2 363.3 L1631.4 356.2 L1626.5 349.2 L1621.6 342.3Z" fill="none" stroke="#050707" stroke-width="3.00" stroke-linejoin="round"/>
<path d="M1716.7 568.3 L1691.0 562.0 L1692.0 569.1 L1692.9 576.1 L1693.6 583.1 L1694.2 590.1 L1694.6 597.0 L1694.9 603.8 L1695.1 610.6 L1695.1 617.3 L1694.9 624.0 L1694.6 630.6 L1694.2 637.1 L1693.6 643.5 L1692.9 649.8 L1692.0 656.0 L1691.0 662.1 L1716.7 680.9 L1717.8 674.0 L1718.8 667.0 L1719.6 659.9 L1720.2 652.7 L1720.7 645.4 L1721.0 638.0 L1721.2 630.6 L1721.2 623.0 L1721.0 615.4 L1720.7 607.7 L1720.2 599.9 L1719.6 592.1 L1718.8 584.2 L1717.8 576.2Z" fill="#ccd8f6"/>
<path d="M1696.6 659.3 L1691.0 662.1 L1716.7 680.9 L1717.7 674.7Z" fill="#ffffff"/>
<path d="M1696.6 659.3 L1697.6 653.2 L1698.5 647.0 L1699.2 640.7 L1693.6 643.5 L1692.9 649.8 L1692.0 656.0 L1691.0 662.1Z" fill="#94aae0"/>
<path d="M1699.2 640.7 L1699.8 634.3 L1700.2 627.8 L1700.5 621.2 L1700.7 614.5 L1700.7 607.8 L1700.5 601.0 L1700.2 594.2 L1699.8 587.3 L1699.2 580.3 L1693.6 583.1 L1694.2 590.1 L1694.6 597.0 L1694.9 603.8 L1695.1 610.6 L1695.1 617.3 L1694.9 624.0 L1694.6 630.6 L1694.2 637.1 L1693.6 643.5Z" fill="#a9bef1"/>
<path d="M1699.2 580.3 L1698.5 573.3 L1697.6 566.3 L1697.3 563.5 L1691.0 562.0 L1692.0 569.1 L1692.9 576.1 L1693.6 583.1Z" fill="#d4def8"/>
<path d="M1697.3 563.5 L1697.6 566.3 L1698.5 573.3 L1699.2 580.3 L1699.8 587.3 L1700.2 594.2 L1700.5 601.0 L1700.7 607.8 L1700.7 614.5 L1700.5 621.2 L1700.2 627.8 L1699.8 634.3 L1699.2 640.7 L1698.5 647.0 L1697.6 653.2 L1696.6 659.3 L1717.7 674.7 L1717.8 674.0 L1718.8 667.0 L1719.6 659.9 L1720.2 652.7 L1720.7 645.4 L1721.0 638.0 L1721.2 630.6 L1721.2 623.0 L1721.0 615.4 L1720.7 607.7 L1720.2 599.9 L1719.6 592.1 L1718.8 584.2 L1717.8 576.2 L1716.7 568.3Z" fill="#fff" stroke="#050707" stroke-width="2.30" stroke-linejoin="round"/>
<path d="M1716.7 568.3 L1691.0 562.0 L1692.0 569.1 L1692.9 576.1 L1693.6 583.1 L1694.2 590.1 L1694.6 597.0 L1694.9 603.8 L1695.1 610.6 L1695.1 617.3 L1694.9 624.0 L1694.6 630.6 L1694.2 637.1 L1693.6 643.5 L1692.9 649.8 L1692.0 656.0 L1691.0 662.1 L1716.7 680.9 L1717.8 674.0 L1718.8 667.0 L1719.6 659.9 L1720.2 652.7 L1720.7 645.4 L1721.0 638.0 L1721.2 630.6 L1721.2 623.0 L1721.0 615.4 L1720.7 607.7 L1720.2 599.9 L1719.6 592.1 L1718.8 584.2 L1717.8 576.2Z" fill="none" stroke="#050707" stroke-width="3.00" stroke-linejoin="round"/>
<path d="M1681.5 767.7 L1659.8 739.3 L1656.6 743.3 L1653.4 747.2 L1650.1 750.9 L1646.6 754.4 L1643.1 757.8 L1639.4 761.0 L1635.6 764.0 L1631.7 766.9 L1627.8 769.5 L1623.7 772.0 L1619.5 774.4 L1615.2 776.5 L1610.9 778.5 L1606.5 780.3 L1601.9 781.8 L1616.5 815.6 L1621.6 813.8 L1626.5 811.8 L1631.4 809.6 L1636.2 807.2 L1640.9 804.6 L1645.5 801.7 L1650.0 798.7 L1654.4 795.5 L1658.6 792.1 L1662.7 788.5 L1666.7 784.7 L1670.6 780.8 L1674.4 776.6 L1678.0 772.3Z" fill="#ccd8f6"/>
<path d="M1632.1 809.0 L1627.2 811.0 L1622.1 812.8 L1607.8 779.7 L1606.5 780.3 L1601.9 781.8 L1616.5 815.6 L1621.6 813.8 L1626.5 811.8 L1631.4 809.6 L1636.2 807.2 L1636.5 807.0Z" fill="#ffffff"/>
<path d="M1620.8 773.7 L1625.1 771.6 L1629.3 769.2 L1633.4 766.7 L1637.3 764.1 L1641.2 761.2 L1645.0 758.2 L1648.7 755.0 L1652.2 751.6 L1655.7 748.1 L1659.0 744.4 L1661.4 741.5 L1659.8 739.3 L1656.6 743.3 L1653.4 747.2 L1650.1 750.9 L1646.6 754.4 L1643.1 757.8 L1639.4 761.0 L1635.6 764.0 L1631.7 766.9 L1627.8 769.5 L1623.7 772.0 L1619.5 774.4 L1615.2 776.5Z" fill="#7f97cf"/>
<path d="M1661.4 741.5 L1659.0 744.4 L1655.7 748.1 L1652.2 751.6 L1648.7 755.0 L1645.0 758.2 L1641.2 761.2 L1637.3 764.1 L1633.4 766.7 L1629.3 769.2 L1625.1 771.6 L1620.8 773.7 L1620.0 774.1 L1619.5 774.4 L1615.2 776.5 L1610.9 778.5 L1607.8 779.7 L1622.1 812.8 L1627.2 811.0 L1632.1 809.0 L1636.5 807.0 L1640.9 804.6 L1645.5 801.7 L1650.0 798.7 L1654.4 795.5 L1658.6 792.1 L1662.7 788.5 L1666.7 784.7 L1670.6 780.8 L1674.4 776.6 L1678.0 772.3 L1681.5 767.7Z" fill="#fff" stroke="#050707" stroke-width="2.30" stroke-linejoin="round"/>
<path d="M1681.5 767.7 L1659.8 739.3 L1656.6 743.3 L1653.4 747.2 L1650.1 750.9 L1646.6 754.4 L1643.1 757.8 L1639.4 761.0 L1635.6 764.0 L1631.7 766.9 L1627.8 769.5 L1623.7 772.0 L1619.5 774.4 L1615.2 776.5 L1610.9 778.5 L1606.5 780.3 L1601.9 781.8 L1616.5 815.6 L1621.6 813.8 L1626.5 811.8 L1631.4 809.6 L1636.2 807.2 L1640.9 804.6 L1645.5 801.7 L1650.0 798.7 L1654.4 795.5 L1658.6 792.1 L1662.7 788.5 L1666.7 784.7 L1670.6 780.8 L1674.4 776.6 L1678.0 772.3Z" fill="none" stroke="#050707" stroke-width="3.00" stroke-linejoin="round"/>
<path d="M1526.0 531.3 L1525.9 528.7 L1525.8 526.0 L1525.5 523.3 L1525.1 520.6 L1524.6 517.8 L1524.0 515.0 L1523.3 512.2 L1522.5 509.4 L1521.6 506.6 L1520.6 503.9 L1519.5 501.1 L1518.3 498.4 L1517.0 495.7 L1515.6 493.0 L1514.1 490.4 L1512.6 487.9 L1511.0 485.4 L1509.3 483.0 L1507.6 480.7 L1505.7 478.5 L1503.9 476.3 L1502.0 474.3 L1500.0 472.3 L1498.0 470.5 L1496.0 468.7 L1493.9 467.1 L1491.8 465.6 L1489.7 464.3 L1487.6 463.0 L1485.5 461.9 L1483.4 460.9 L1481.3 460.1 L1479.2 459.4 L1477.1 458.9 L1475.0 458.5 L1473.0 458.2 L1471.0 458.1 L1469.0 458.1 L1467.1 458.3 L1465.3 458.7 L1463.4 459.1 L1461.7 459.7 L1460.0 460.5 L1458.4 461.4 L1456.9 462.4 L1455.4 463.6 L1454.0 464.9 L1452.7 466.3 L1451.5 467.9 L1450.4 469.6 L1449.4 471.3 L1448.5 473.2 L1447.7 475.2 L1447.0 477.3 L1446.4 479.5 L1445.9 481.8 L1445.5 484.2 L1445.2 486.6 L1445.1 489.1 L1445.0 491.7 L1445.1 494.3 L1445.2 497.0 L1445.5 499.7 L1445.9 502.4 L1446.4 505.2 L1447.0 508.0 L1447.7 510.8 L1448.5 513.6 L1449.4 516.4 L1450.4 519.1 L1451.5 521.9 L1452.7 524.6 L1454.0 527.3 L1455.4 530.0 L1456.9 532.6 L1458.4 535.1 L1460.0 537.6 L1461.7 540.0 L1463.4 542.3 L1465.3 544.5 L1467.1 546.7 L1469.0 548.7 L1471.0 550.7 L1473.0 552.5 L1475.0 554.3 L1477.1 555.9 L1479.2 557.4 L1481.3 558.7 L1483.4 560.0 L1485.5 561.1 L1487.6 562.1 L1489.7 562.9 L1491.8 563.6 L1493.9 564.1 L1496.0 564.5 L1498.0 564.8 L1500.0 564.9 L1502.0 564.9 L1503.9 564.7 L1505.7 564.3 L1507.6 563.9 L1509.3 563.3 L1511.0 562.5 L1512.6 561.6 L1514.1 560.6 L1515.6 559.4 L1517.0 558.1 L1518.3 556.7 L1519.5 555.1 L1520.6 553.4 L1521.6 551.7 L1522.5 549.8 L1523.3 547.8 L1524.0 545.7 L1524.6 543.5 L1525.1 541.2 L1525.5 538.8 L1525.8 536.4 L1525.9 533.9Z" fill="#ccd8f6"/>
<path d="M1458.4 461.4 L1456.9 462.4 L1455.4 463.6 L1454.0 464.9 L1452.7 466.3 L1451.5 467.9 L1450.4 469.6 L1449.4 471.3 L1448.5 473.2 L1447.7 475.2 L1453.3 472.4 L1454.1 470.4 L1455.0 468.5 L1456.0 466.8 L1457.1 465.1 L1458.3 463.5 L1459.6 462.1 L1461.0 460.8 L1462.5 459.6 L1463.0 459.3 L1461.7 459.7 L1460.0 460.5Z" fill="#7f97cf"/>
<path d="M1447.0 477.3 L1446.4 479.5 L1445.9 481.8 L1445.5 484.2 L1445.2 486.6 L1450.8 483.8 L1451.1 481.4 L1451.5 479.0 L1452.0 476.7 L1452.6 474.5 L1453.3 472.4 L1447.7 475.2Z" fill="#94aae0"/>
<path d="M1445.1 489.1 L1445.0 491.7 L1445.1 494.3 L1445.2 497.0 L1450.8 494.2 L1450.7 491.5 L1450.6 488.9 L1450.7 486.3 L1450.8 483.8 L1445.2 486.6Z" fill="#a9bef1"/>
<path d="M1445.5 499.7 L1445.9 502.4 L1446.4 505.2 L1447.0 508.0 L1447.7 510.8 L1453.3 508.0 L1452.6 505.2 L1452.0 502.4 L1451.5 499.6 L1451.1 496.9 L1450.8 494.2 L1445.2 497.0Z" fill="#d4def8"/>
<path d="M1448.5 513.6 L1449.4 516.4 L1450.4 519.1 L1451.5 521.9 L1452.7 524.6 L1454.0 527.3 L1455.4 530.0 L1456.9 532.6 L1458.4 535.1 L1460.0 537.6 L1461.7 540.0 L1463.4 542.3 L1465.3 544.5 L1467.1 546.7 L1469.0 548.7 L1471.0 550.7 L1473.0 552.5 L1475.0 554.3 L1477.1 555.9 L1479.2 557.4 L1481.3 558.7 L1483.4 560.0 L1485.5 561.1 L1487.6 562.1 L1489.7 562.9 L1491.8 563.6 L1493.9 564.1 L1496.0 564.5 L1498.0 564.8 L1500.0 564.9 L1502.0 564.9 L1503.9 564.7 L1505.7 564.3 L1507.6 563.9 L1509.3 563.3 L1511.0 562.5 L1512.6 561.6 L1513.6 560.9 L1513.2 561.1 L1511.3 561.5 L1509.5 561.9 L1507.6 562.1 L1505.6 562.1 L1503.6 562.0 L1501.6 561.7 L1499.5 561.3 L1497.4 560.8 L1495.3 560.1 L1493.2 559.3 L1491.1 558.3 L1489.0 557.2 L1486.9 555.9 L1484.8 554.6 L1482.7 553.1 L1480.6 551.5 L1478.6 549.7 L1476.6 547.9 L1474.6 545.9 L1472.7 543.9 L1470.9 541.7 L1469.0 539.5 L1467.3 537.2 L1465.6 534.8 L1464.0 532.3 L1462.5 529.8 L1461.0 527.2 L1459.6 524.5 L1458.3 521.8 L1457.1 519.1 L1456.0 516.3 L1455.0 513.6 L1454.1 510.8 L1453.3 508.0 L1447.7 510.8Z" fill="#ffffff"/>
<path d="M1525.9 528.7 L1525.8 526.0 L1525.5 523.3 L1525.1 520.6 L1524.6 517.8 L1524.0 515.0 L1523.3 512.2 L1522.5 509.4 L1521.6 506.6 L1520.6 503.9 L1519.5 501.1 L1518.3 498.4 L1517.0 495.7 L1515.6 493.0 L1514.1 490.4 L1512.6 487.9 L1511.0 485.4 L1509.3 483.0 L1507.6 480.7 L1505.7 478.5 L1503.9 476.3 L1502.0 474.3 L1500.0 472.3 L1498.0 470.5 L1496.0 468.7 L1493.9 467.1 L1491.8 465.6 L1489.7 464.3 L1487.6 463.0 L1485.5 461.9 L1483.4 460.9 L1481.3 460.1 L1479.2 459.4 L1477.1 458.9 L1475.0 458.5 L1473.0 458.2 L1471.0 458.1 L1469.0 458.1 L1467.1 458.3 L1465.3 458.7 L1463.4 459.1 L1463.0 459.3 L1462.5 459.6 L1461.0 460.8 L1459.6 462.1 L1458.3 463.5 L1457.1 465.1 L1456.0 466.8 L1455.0 468.5 L1454.1 470.4 L1453.3 472.4 L1452.6 474.5 L1452.0 476.7 L1451.5 479.0 L1451.1 481.4 L1450.8 483.8 L1450.7 486.3 L1450.6 488.9 L1450.7 491.5 L1450.8 494.2 L1451.1 496.9 L1451.5 499.6 L1452.0 502.4 L1452.6 505.2 L1453.3 508.0 L1454.1 510.8 L1455.0 513.6 L1456.0 516.3 L1457.1 519.1 L1458.3 521.8 L1459.6 524.5 L1461.0 527.2 L1462.5 529.8 L1464.0 532.3 L1465.6 534.8 L1467.3 537.2 L1469.0 539.5 L1470.9 541.7 L1472.7 543.9 L1474.6 545.9 L1476.6 547.9 L1478.6 549.7 L1480.6 551.5 L1482.7 553.1 L1484.8 554.6 L1486.9 555.9 L1489.0 557.2 L1491.1 558.3 L1493.2 559.3 L1495.3 560.1 L1497.4 560.8 L1499.5 561.3 L1501.6 561.7 L1503.6 562.0 L1505.6 562.1 L1507.6 562.1 L1509.5 561.9 L1511.3 561.5 L1513.2 561.1 L1513.6 560.9 L1514.1 560.6 L1515.6 559.4 L1517.0 558.1 L1518.3 556.7 L1519.5 555.1 L1520.6 553.4 L1521.6 551.7 L1522.5 549.8 L1523.3 547.8 L1524.0 545.7 L1524.6 543.5 L1525.1 541.2 L1525.5 538.8 L1525.8 536.4 L1525.9 533.9 L1526.0 531.3Z" fill="#fff" stroke="#050707" stroke-width="2.00" stroke-linejoin="round"/>
<path d="M1526.0 531.3 L1525.9 528.7 L1525.8 526.0 L1525.5 523.3 L1525.1 520.6 L1524.6 517.8 L1524.0 515.0 L1523.3 512.2 L1522.5 509.4 L1521.6 506.6 L1520.6 503.9 L1519.5 501.1 L1518.3 498.4 L1517.0 495.7 L1515.6 493.0 L1514.1 490.4 L1512.6 487.9 L1511.0 485.4 L1509.3 483.0 L1507.6 480.7 L1505.7 478.5 L1503.9 476.3 L1502.0 474.3 L1500.0 472.3 L1498.0 470.5 L1496.0 468.7 L1493.9 467.1 L1491.8 465.6 L1489.7 464.3 L1487.6 463.0 L1485.5 461.9 L1483.4 460.9 L1481.3 460.1 L1479.2 459.4 L1477.1 458.9 L1475.0 458.5 L1473.0 458.2 L1471.0 458.1 L1469.0 458.1 L1467.1 458.3 L1465.3 458.7 L1463.4 459.1 L1461.7 459.7 L1460.0 460.5 L1458.4 461.4 L1456.9 462.4 L1455.4 463.6 L1454.0 464.9 L1452.7 466.3 L1451.5 467.9 L1450.4 469.6 L1449.4 471.3 L1448.5 473.2 L1447.7 475.2 L1447.0 477.3 L1446.4 479.5 L1445.9 481.8 L1445.5 484.2 L1445.2 486.6 L1445.1 489.1 L1445.0 491.7 L1445.1 494.3 L1445.2 497.0 L1445.5 499.7 L1445.9 502.4 L1446.4 505.2 L1447.0 508.0 L1447.7 510.8 L1448.5 513.6 L1449.4 516.4 L1450.4 519.1 L1451.5 521.9 L1452.7 524.6 L1454.0 527.3 L1455.4 530.0 L1456.9 532.6 L1458.4 535.1 L1460.0 537.6 L1461.7 540.0 L1463.4 542.3 L1465.3 544.5 L1467.1 546.7 L1469.0 548.7 L1471.0 550.7 L1473.0 552.5 L1475.0 554.3 L1477.1 555.9 L1479.2 557.4 L1481.3 558.7 L1483.4 560.0 L1485.5 561.1 L1487.6 562.1 L1489.7 562.9 L1491.8 563.6 L1493.9 564.1 L1496.0 564.5 L1498.0 564.8 L1500.0 564.9 L1502.0 564.9 L1503.9 564.7 L1505.7 564.3 L1507.6 563.9 L1509.3 563.3 L1511.0 562.5 L1512.6 561.6 L1514.1 560.6 L1515.6 559.4 L1517.0 558.1 L1518.3 556.7 L1519.5 555.1 L1520.6 553.4 L1521.6 551.7 L1522.5 549.8 L1523.3 547.8 L1524.0 545.7 L1524.6 543.5 L1525.1 541.2 L1525.5 538.8 L1525.8 536.4 L1525.9 533.9Z" fill="none" stroke="#050707" stroke-width="2.80" stroke-linejoin="round"/>
<polygon points="1529.9,251.2 1519.7,258.1 1519.7,263.0 1529.9,256.1" fill="#ff0000" stroke="#050707" stroke-width="2.60" stroke-linejoin="round" />
<polygon points="1519.7,258.1 1504.7,250.4 1504.7,255.3 1519.7,263.0" fill="#ff0000" stroke="#050707" stroke-width="2.60" stroke-linejoin="round" />
<polygon points="1504.7,250.4 1519.3,244.7 1529.9,251.2 1519.7,258.1" fill="#ff0000" stroke="#050707" stroke-width="2.60" stroke-linejoin="round" />
<polygon points="1531.5,286.2 1519.7,290.7 1519.7,295.6 1531.5,291.1" fill="#ff0000" stroke="#050707" stroke-width="2.60" stroke-linejoin="round" />
<polygon points="1519.7,290.7 1504.3,282.9 1504.3,287.8 1519.7,295.6" fill="#ff0000" stroke="#050707" stroke-width="2.60" stroke-linejoin="round" />
<polygon points="1504.3,282.9 1518.9,278.0 1531.5,286.2 1519.7,290.7" fill="#ff0000" stroke="#050707" stroke-width="2.60" stroke-linejoin="round" />
<polygon points="1572.3,629.2 1570.0,631.8 1567.6,634.2 1565.1,636.5 1562.5,638.6 1559.7,640.5 1556.9,642.3 1554.0,643.9 1551.0,645.4 1547.9,646.6 1544.8,647.7 1541.5,648.6 1538.2,649.3 1534.8,649.9 1531.4,650.2 1527.9,650.4 1524.4,650.4 1520.8,650.2 1517.1,649.9 1513.4,649.3 1509.7,648.6 1506.0,647.7 1502.2,646.6 1498.4,645.3 1494.6,643.9 1490.8,642.3 1487.0,640.5 1483.1,638.6 1479.3,636.4 1475.5,634.2 1471.7,631.7 1468.0,629.1 1464.2,626.4 1460.5,623.5 1456.8,620.4 1453.2,617.2 1449.6,613.9 1446.0,610.4 1442.5,606.8 1439.1,603.1 1435.7,599.3 1432.4,595.3 1429.2,591.2 1426.0,587.1 1422.9,582.8 1419.9,578.4 1417.0,574.0 1414.2,569.5 1411.4,564.8 1408.8,560.2 1406.3,555.4 1403.9,550.6 1401.5,545.8 1399.3,540.9 1397.2,535.9 1395.3,531.0 1393.4,526.0 1391.7,520.9 1390.1,515.9 1388.6,510.9 1387.2,505.8 1386.0,500.8 1384.9,495.8 1384.0,490.8 1383.1,485.8 1382.4,480.9 1381.9,476.0 1381.5,471.1 1381.2,466.3 1381.0,461.6 1381.0,456.9 1381.2,452.3 1381.4,447.7 1381.8,443.3 1382.4,438.9 1383.1,434.6 1383.9,430.5 1384.8,426.4 1385.9,422.4 1387.1,418.6 1388.5,414.9 1389.9,411.3 1391.5,407.8 1393.3,404.5 1395.1,401.3 1397.1,398.2 1399.2,395.3 1401.4,392.6 1403.7,390.0 1406.1,387.5 1408.6,385.2 1411.2,383.1 1413.9,381.1 1416.8,379.4 1419.7,377.7 1422.7,376.3 1425.7,375.0 1428.9,374.0 1432.1,373.0 1435.4,372.3 1438.8,371.8 1442.2,371.4 1445.7,371.2 1449.3,371.2 1452.9,371.4 1456.5,371.7 1460.2,372.3 1463.9,373.0 1467.7,373.9 1471.4,375.0 1475.2,376.2 1479.0,377.6 1482.8,379.2 1486.7,381.0 1490.5,383.0 1494.3,385.1 1498.1,387.3 1501.9,389.8 1505.7,392.4 1509.4,395.1 1513.1,398.0 1516.8,401.0 1520.5,404.2 1524.1,407.6 1527.6,411.0 1531.1,414.6 1534.6,418.3 1537.9,422.2 1541.3,426.1 1544.5,430.2 1547.7,434.3 1550.8,438.6 1553.8,443.0 1556.7,447.4 1559.5,451.9 1562.2,456.5 1564.9,461.2 1567.4,466.0 1569.8,470.8 1572.2,475.6 1574.4,480.5 1585.4,476.7 1583.3,515.0 1554.4,487.4 1566.1,483.4 1564.1,479.0 1562.0,474.6 1559.8,470.2 1557.5,465.9 1555.1,461.7 1552.6,457.5 1550.0,453.4 1547.4,449.4 1544.7,445.5 1541.9,441.6 1539.0,437.8 1536.1,434.1 1533.1,430.6 1530.0,427.1 1526.9,423.7 1523.7,420.5 1520.5,417.4 1517.3,414.4 1514.0,411.5 1510.6,408.7 1507.3,406.1 1503.9,403.6 1500.5,401.3 1497.0,399.1 1493.6,397.0 1490.1,395.1 1486.7,393.3 1483.2,391.7 1479.8,390.3 1476.3,389.0 1472.9,387.9 1469.5,386.9 1466.1,386.1 1462.7,385.4 1459.4,384.9 1456.1,384.6 1452.9,384.5 1449.6,384.5 1446.5,384.6 1443.4,385.0 1440.3,385.5 1437.3,386.1 1434.4,387.0 1431.5,387.9 1428.8,389.1 1426.1,390.4 1423.4,391.9 1420.9,393.5 1418.4,395.2 1416.0,397.2 1413.8,399.2 1411.6,401.4 1409.5,403.8 1407.5,406.3 1405.6,408.9 1403.8,411.7 1402.2,414.6 1400.6,417.6 1399.2,420.7 1397.8,424.0 1396.6,427.4 1395.5,430.8 1394.5,434.4 1393.7,438.1 1392.9,441.9 1392.3,445.7 1391.8,449.7 1391.5,453.7 1391.2,457.8 1391.1,462.0 1391.1,466.2 1391.2,470.5 1391.5,474.9 1391.9,479.3 1392.4,483.7 1393.0,488.2 1393.7,492.7 1394.6,497.2 1395.6,501.7 1396.7,506.3 1397.9,510.9 1399.3,515.4 1400.7,520.0 1402.3,524.5 1404.0,529.0 1405.8,533.5 1407.7,538.0 1409.6,542.4 1411.7,546.8 1413.9,551.2 1416.2,555.5 1418.6,559.7 1421.1,563.9 1423.6,568.0 1426.3,572.0 1429.0,576.0 1431.8,579.8 1434.6,583.6 1437.6,587.3 1440.6,590.9 1443.6,594.3 1446.7,597.7 1449.9,601.0 1453.1,604.1 1456.4,607.1 1459.7,610.0 1463.0,612.8 1466.4,615.4 1469.8,617.9 1473.2,620.2 1476.6,622.4 1480.0,624.5 1483.5,626.4 1487.0,628.2 1490.4,629.8 1493.9,631.2 1497.3,632.5 1500.7,633.7 1504.2,634.7 1507.5,635.5 1510.9,636.1 1514.2,636.6 1517.5,637.0 1520.8,637.1 1524.0,637.1 1527.2,637.0 1530.3,636.6 1533.3,636.2 1536.3,635.5 1539.3,634.7 1542.1,633.7 1544.9,632.6 1547.6,631.3 1550.3,629.8 1552.8,628.2 1555.3,626.4 1557.7,624.5 1559.9,622.5 1562.1,620.3 1564.2,617.9" fill="#050707" stroke="#050707" stroke-width="2.40" stroke-linejoin="round" />
<polygon points="1568.9,630.9 1566.6,633.5 1570.0,631.8 1572.3,629.2" fill="#050707" stroke="#050707" stroke-width="1.00" stroke-linejoin="round" />
<polygon points="1566.6,633.5 1564.2,635.9 1567.6,634.2 1570.0,631.8" fill="#050707" stroke="#050707" stroke-width="1.00" stroke-linejoin="round" />
<polygon points="1564.2,635.9 1561.7,638.2 1565.1,636.5 1567.6,634.2" fill="#050707" stroke="#050707" stroke-width="1.00" stroke-linejoin="round" />
<polygon points="1561.7,638.2 1559.1,640.3 1562.5,638.6 1565.1,636.5" fill="#050707" stroke="#050707" stroke-width="1.00" stroke-linejoin="round" />
<polygon points="1559.1,640.3 1556.3,642.2 1559.7,640.5 1562.5,638.6" fill="#050707" stroke="#050707" stroke-width="1.00" stroke-linejoin="round" />
<polygon points="1556.3,642.2 1553.5,644.0 1556.9,642.3 1559.7,640.5" fill="#050707" stroke="#050707" stroke-width="1.00" stroke-linejoin="round" />
<polygon points="1553.5,644.0 1550.6,645.6 1554.0,643.9 1556.9,642.3" fill="#050707" stroke="#050707" stroke-width="1.00" stroke-linejoin="round" />
<polygon points="1550.6,645.6 1547.6,647.1 1551.0,645.4 1554.0,643.9" fill="#050707" stroke="#050707" stroke-width="1.00" stroke-linejoin="round" />
<polygon points="1547.6,647.1 1544.5,648.3 1547.9,646.6 1551.0,645.4" fill="#050707" stroke="#050707" stroke-width="1.00" stroke-linejoin="round" />
<polygon points="1544.5,648.3 1541.4,649.4 1544.8,647.7 1547.9,646.6" fill="#050707" stroke="#050707" stroke-width="1.00" stroke-linejoin="round" />
<polygon points="1541.4,649.4 1538.1,650.3 1541.5,648.6 1544.8,647.7" fill="#050707" stroke="#050707" stroke-width="1.00" stroke-linejoin="round" />
<polygon points="1538.1,650.3 1534.8,651.0 1538.2,649.3 1541.5,648.6" fill="#050707" stroke="#050707" stroke-width="1.00" stroke-linejoin="round" />
<polygon points="1534.8,651.0 1531.4,651.6 1534.8,649.9 1538.2,649.3" fill="#050707" stroke="#050707" stroke-width="1.00" stroke-linejoin="round" />
<polygon points="1531.4,651.6 1528.0,651.9 1531.4,650.2 1534.8,649.9" fill="#050707" stroke="#050707" stroke-width="1.00" stroke-linejoin="round" />
<polygon points="1528.0,651.9 1524.5,652.1 1527.9,650.4 1531.4,650.2" fill="#050707" stroke="#050707" stroke-width="1.00" stroke-linejoin="round" />
<polygon points="1524.5,652.1 1521.0,652.1 1524.4,650.4 1527.9,650.4" fill="#050707" stroke="#050707" stroke-width="1.00" stroke-linejoin="round" />
<polygon points="1521.0,652.1 1517.4,651.9 1520.8,650.2 1524.4,650.4" fill="#050707" stroke="#050707" stroke-width="1.00" stroke-linejoin="round" />
<polygon points="1517.4,651.9 1513.7,651.6 1517.1,649.9 1520.8,650.2" fill="#050707" stroke="#050707" stroke-width="1.00" stroke-linejoin="round" />
<polygon points="1513.7,651.6 1510.0,651.0 1513.4,649.3 1517.1,649.9" fill="#050707" stroke="#050707" stroke-width="1.00" stroke-linejoin="round" />
<polygon points="1510.0,651.0 1506.3,650.3 1509.7,648.6 1513.4,649.3" fill="#050707" stroke="#050707" stroke-width="1.00" stroke-linejoin="round" />
<polygon points="1506.3,650.3 1502.6,649.4 1506.0,647.7 1509.7,648.6" fill="#050707" stroke="#050707" stroke-width="1.00" stroke-linejoin="round" />
<polygon points="1502.6,649.4 1498.8,648.3 1502.2,646.6 1506.0,647.7" fill="#050707" stroke="#050707" stroke-width="1.00" stroke-linejoin="round" />
<polygon points="1498.8,648.3 1495.0,647.0 1498.4,645.3 1502.2,646.6" fill="#050707" stroke="#050707" stroke-width="1.00" stroke-linejoin="round" />
<polygon points="1495.0,647.0 1491.2,645.6 1494.6,643.9 1498.4,645.3" fill="#050707" stroke="#050707" stroke-width="1.00" stroke-linejoin="round" />
<polygon points="1491.2,645.6 1487.4,644.0 1490.8,642.3 1494.6,643.9" fill="#050707" stroke="#050707" stroke-width="1.00" stroke-linejoin="round" />
<polygon points="1487.4,644.0 1483.6,642.2 1487.0,640.5 1490.8,642.3" fill="#050707" stroke="#050707" stroke-width="1.00" stroke-linejoin="round" />
<polygon points="1483.6,642.2 1479.7,640.3 1483.1,638.6 1487.0,640.5" fill="#050707" stroke="#050707" stroke-width="1.00" stroke-linejoin="round" />
<polygon points="1479.7,640.3 1475.9,638.1 1479.3,636.4 1483.1,638.6" fill="#050707" stroke="#050707" stroke-width="1.00" stroke-linejoin="round" />
<polygon points="1475.9,638.1 1472.1,635.9 1475.5,634.2 1479.3,636.4" fill="#050707" stroke="#050707" stroke-width="1.00" stroke-linejoin="round" />
<polygon points="1472.1,635.9 1468.3,633.4 1471.7,631.7 1475.5,634.2" fill="#050707" stroke="#050707" stroke-width="1.00" stroke-linejoin="round" />
<polygon points="1468.3,633.4 1464.6,630.8 1468.0,629.1 1471.7,631.7" fill="#050707" stroke="#050707" stroke-width="1.00" stroke-linejoin="round" />
<polygon points="1464.6,630.8 1460.8,628.1 1464.2,626.4 1468.0,629.1" fill="#050707" stroke="#050707" stroke-width="1.00" stroke-linejoin="round" />
<polygon points="1460.8,628.1 1457.1,625.2 1460.5,623.5 1464.2,626.4" fill="#050707" stroke="#050707" stroke-width="1.00" stroke-linejoin="round" />
<polygon points="1457.1,625.2 1453.4,622.1 1456.8,620.4 1460.5,623.5" fill="#050707" stroke="#050707" stroke-width="1.00" stroke-linejoin="round" />
<polygon points="1453.4,622.1 1449.8,618.9 1453.2,617.2 1456.8,620.4" fill="#050707" stroke="#050707" stroke-width="1.00" stroke-linejoin="round" />
<polygon points="1449.8,618.9 1446.2,615.6 1449.6,613.9 1453.2,617.2" fill="#050707" stroke="#050707" stroke-width="1.00" stroke-linejoin="round" />
<polygon points="1446.2,615.6 1442.6,612.1 1446.0,610.4 1449.6,613.9" fill="#050707" stroke="#050707" stroke-width="1.00" stroke-linejoin="round" />
<polygon points="1442.6,612.1 1439.1,608.5 1442.5,606.8 1446.0,610.4" fill="#050707" stroke="#050707" stroke-width="1.00" stroke-linejoin="round" />
<polygon points="1439.1,608.5 1435.7,604.8 1439.1,603.1 1442.5,606.8" fill="#050707" stroke="#050707" stroke-width="1.00" stroke-linejoin="round" />
<polygon points="1435.7,604.8 1432.3,601.0 1435.7,599.3 1439.1,603.1" fill="#050707" stroke="#050707" stroke-width="1.00" stroke-linejoin="round" />
<polygon points="1432.3,601.0 1429.0,597.0 1432.4,595.3 1435.7,599.3" fill="#050707" stroke="#050707" stroke-width="1.00" stroke-linejoin="round" />
<polygon points="1429.0,597.0 1425.8,592.9 1429.2,591.2 1432.4,595.3" fill="#050707" stroke="#050707" stroke-width="1.00" stroke-linejoin="round" />
<polygon points="1425.8,592.9 1422.6,588.8 1426.0,587.1 1429.2,591.2" fill="#050707" stroke="#050707" stroke-width="1.00" stroke-linejoin="round" />
<polygon points="1422.6,588.8 1419.5,584.5 1422.9,582.8 1426.0,587.1" fill="#050707" stroke="#050707" stroke-width="1.00" stroke-linejoin="round" />
<polygon points="1419.5,584.5 1416.5,580.1 1419.9,578.4 1422.9,582.8" fill="#050707" stroke="#050707" stroke-width="1.00" stroke-linejoin="round" />
<polygon points="1416.5,580.1 1413.6,575.7 1417.0,574.0 1419.9,578.4" fill="#050707" stroke="#050707" stroke-width="1.00" stroke-linejoin="round" />
<polygon points="1413.6,575.7 1410.8,571.2 1414.2,569.5 1417.0,574.0" fill="#050707" stroke="#050707" stroke-width="1.00" stroke-linejoin="round" />
<polygon points="1410.8,571.2 1408.0,566.5 1411.4,564.8 1414.2,569.5" fill="#050707" stroke="#050707" stroke-width="1.00" stroke-linejoin="round" />
<polygon points="1408.0,566.5 1405.4,561.9 1408.8,560.2 1411.4,564.8" fill="#050707" stroke="#050707" stroke-width="1.00" stroke-linejoin="round" />
<polygon points="1405.4,561.9 1402.9,557.1 1406.3,555.4 1408.8,560.2" fill="#050707" stroke="#050707" stroke-width="1.00" stroke-linejoin="round" />
<polygon points="1402.9,557.1 1400.5,552.3 1403.9,550.6 1406.3,555.4" fill="#050707" stroke="#050707" stroke-width="1.00" stroke-linejoin="round" />
<polygon points="1400.5,552.3 1398.1,547.5 1401.5,545.8 1403.9,550.6" fill="#050707" stroke="#050707" stroke-width="1.00" stroke-linejoin="round" />
<polygon points="1398.1,547.5 1395.9,542.6 1399.3,540.9 1401.5,545.8" fill="#050707" stroke="#050707" stroke-width="1.00" stroke-linejoin="round" />
<polygon points="1395.9,542.6 1393.8,537.6 1397.2,535.9 1399.3,540.9" fill="#050707" stroke="#050707" stroke-width="1.00" stroke-linejoin="round" />
<polygon points="1393.8,537.6 1391.9,532.7 1395.3,531.0 1397.2,535.9" fill="#050707" stroke="#050707" stroke-width="1.00" stroke-linejoin="round" />
<polygon points="1391.9,532.7 1390.0,527.7 1393.4,526.0 1395.3,531.0" fill="#050707" stroke="#050707" stroke-width="1.00" stroke-linejoin="round" />
<polygon points="1390.0,527.7 1388.3,522.6 1391.7,520.9 1393.4,526.0" fill="#050707" stroke="#050707" stroke-width="1.00" stroke-linejoin="round" />
<polygon points="1388.3,522.6 1386.7,517.6 1390.1,515.9 1391.7,520.9" fill="#050707" stroke="#050707" stroke-width="1.00" stroke-linejoin="round" />
<polygon points="1386.7,517.6 1385.2,512.6 1388.6,510.9 1390.1,515.9" fill="#050707" stroke="#050707" stroke-width="1.00" stroke-linejoin="round" />
<polygon points="1385.2,512.6 1383.8,507.5 1387.2,505.8 1388.6,510.9" fill="#050707" stroke="#050707" stroke-width="1.00" stroke-linejoin="round" />
<polygon points="1383.8,507.5 1382.6,502.5 1386.0,500.8 1387.2,505.8" fill="#050707" stroke="#050707" stroke-width="1.00" stroke-linejoin="round" />
<polygon points="1382.6,502.5 1381.5,497.5 1384.9,495.8 1386.0,500.8" fill="#050707" stroke="#050707" stroke-width="1.00" stroke-linejoin="round" />
<polygon points="1381.5,497.5 1380.6,492.5 1384.0,490.8 1384.9,495.8" fill="#050707" stroke="#050707" stroke-width="1.00" stroke-linejoin="round" />
<polygon points="1380.6,492.5 1379.7,487.5 1383.1,485.8 1384.0,490.8" fill="#050707" stroke="#050707" stroke-width="1.00" stroke-linejoin="round" />
<polygon points="1379.7,487.5 1379.0,482.6 1382.4,480.9 1383.1,485.8" fill="#050707" stroke="#050707" stroke-width="1.00" stroke-linejoin="round" />
<polygon points="1379.0,482.6 1378.5,477.7 1381.9,476.0 1382.4,480.9" fill="#050707" stroke="#050707" stroke-width="1.00" stroke-linejoin="round" />
<polygon points="1378.5,477.7 1378.1,472.8 1381.5,471.1 1381.9,476.0" fill="#050707" stroke="#050707" stroke-width="1.00" stroke-linejoin="round" />
<polygon points="1378.1,472.8 1377.8,468.0 1381.2,466.3 1381.5,471.1" fill="#050707" stroke="#050707" stroke-width="1.00" stroke-linejoin="round" />
<polygon points="1377.8,468.0 1377.6,463.3 1381.0,461.6 1381.2,466.3" fill="#050707" stroke="#050707" stroke-width="1.00" stroke-linejoin="round" />
<polygon points="1377.6,463.3 1377.6,458.6 1381.0,456.9 1381.0,461.6" fill="#050707" stroke="#050707" stroke-width="1.00" stroke-linejoin="round" />
<polygon points="1377.6,458.6 1377.8,454.0 1381.2,452.3 1381.0,456.9" fill="#050707" stroke="#050707" stroke-width="1.00" stroke-linejoin="round" />
<polygon points="1377.8,454.0 1378.0,449.4 1381.4,447.7 1381.2,452.3" fill="#050707" stroke="#050707" stroke-width="1.00" stroke-linejoin="round" />
<polygon points="1378.0,449.4 1378.4,445.0 1381.8,443.3 1381.4,447.7" fill="#050707" stroke="#050707" stroke-width="1.00" stroke-linejoin="round" />
<polygon points="1378.4,445.0 1379.0,440.6 1382.4,438.9 1381.8,443.3" fill="#050707" stroke="#050707" stroke-width="1.00" stroke-linejoin="round" />
<polygon points="1379.0,440.6 1379.7,436.3 1383.1,434.6 1382.4,438.9" fill="#050707" stroke="#050707" stroke-width="1.00" stroke-linejoin="round" />
<polygon points="1379.7,436.3 1380.5,432.2 1383.9,430.5 1383.1,434.6" fill="#050707" stroke="#050707" stroke-width="1.00" stroke-linejoin="round" />
<polygon points="1380.5,432.2 1381.4,428.1 1384.8,426.4 1383.9,430.5" fill="#050707" stroke="#050707" stroke-width="1.00" stroke-linejoin="round" />
<polygon points="1381.4,428.1 1382.5,424.1 1385.9,422.4 1384.8,426.4" fill="#050707" stroke="#050707" stroke-width="1.00" stroke-linejoin="round" />
<polygon points="1382.5,424.1 1383.7,420.3 1387.1,418.6 1385.9,422.4" fill="#050707" stroke="#050707" stroke-width="1.00" stroke-linejoin="round" />
<polygon points="1383.7,420.3 1385.1,416.6 1388.5,414.9 1387.1,418.6" fill="#050707" stroke="#050707" stroke-width="1.00" stroke-linejoin="round" />
<polygon points="1385.1,416.6 1386.5,413.0 1389.9,411.3 1388.5,414.9" fill="#050707" stroke="#050707" stroke-width="1.00" stroke-linejoin="round" />
<polygon points="1386.5,413.0 1388.1,409.5 1391.5,407.8 1389.9,411.3" fill="#050707" stroke="#050707" stroke-width="1.00" stroke-linejoin="round" />
<polygon points="1388.1,409.5 1389.9,406.2 1393.3,404.5 1391.5,407.8" fill="#050707" stroke="#050707" stroke-width="1.00" stroke-linejoin="round" />
<polygon points="1389.9,406.2 1391.7,403.0 1395.1,401.3 1393.3,404.5" fill="#050707" stroke="#050707" stroke-width="1.00" stroke-linejoin="round" />
<polygon points="1391.7,403.0 1393.7,399.9 1397.1,398.2 1395.1,401.3" fill="#050707" stroke="#050707" stroke-width="1.00" stroke-linejoin="round" />
<polygon points="1393.7,399.9 1395.8,397.0 1399.2,395.3 1397.1,398.2" fill="#050707" stroke="#050707" stroke-width="1.00" stroke-linejoin="round" />
<polygon points="1395.8,397.0 1398.0,394.3 1401.4,392.6 1399.2,395.3" fill="#050707" stroke="#050707" stroke-width="1.00" stroke-linejoin="round" />
<polygon points="1398.0,394.3 1400.3,391.7 1403.7,390.0 1401.4,392.6" fill="#050707" stroke="#050707" stroke-width="1.00" stroke-linejoin="round" />
<polygon points="1400.3,391.7 1402.7,389.2 1406.1,387.5 1403.7,390.0" fill="#050707" stroke="#050707" stroke-width="1.00" stroke-linejoin="round" />
<polygon points="1402.7,389.2 1405.2,386.9 1408.6,385.2 1406.1,387.5" fill="#050707" stroke="#050707" stroke-width="1.00" stroke-linejoin="round" />
<polygon points="1405.2,386.9 1407.8,384.8 1411.2,383.1 1408.6,385.2" fill="#050707" stroke="#050707" stroke-width="1.00" stroke-linejoin="round" />
<polygon points="1407.8,384.8 1410.5,382.8 1413.9,381.1 1411.2,383.1" fill="#050707" stroke="#050707" stroke-width="1.00" stroke-linejoin="round" />
<polygon points="1410.5,382.8 1413.4,381.1 1416.8,379.4 1413.9,381.1" fill="#050707" stroke="#050707" stroke-width="1.00" stroke-linejoin="round" />
<polygon points="1413.4,381.1 1416.3,379.4 1419.7,377.7 1416.8,379.4" fill="#050707" stroke="#050707" stroke-width="1.00" stroke-linejoin="round" />
<polygon points="1416.3,379.4 1419.3,378.0 1422.7,376.3 1419.7,377.7" fill="#050707" stroke="#050707" stroke-width="1.00" stroke-linejoin="round" />
<polygon points="1419.3,378.0 1422.3,376.7 1425.7,375.0 1422.7,376.3" fill="#050707" stroke="#050707" stroke-width="1.00" stroke-linejoin="round" />
<polygon points="1422.3,376.7 1425.5,375.7 1428.9,374.0 1425.7,375.0" fill="#050707" stroke="#050707" stroke-width="1.00" stroke-linejoin="round" />
<polygon points="1425.5,375.7 1428.7,374.7 1432.1,373.0 1428.9,374.0" fill="#050707" stroke="#050707" stroke-width="1.00" stroke-linejoin="round" />
<polygon points="1428.7,374.7 1432.0,374.0 1435.4,372.3 1432.1,373.0" fill="#050707" stroke="#050707" stroke-width="1.00" stroke-linejoin="round" />
<polygon points="1432.0,374.0 1435.4,373.5 1438.8,371.8 1435.4,372.3" fill="#050707" stroke="#050707" stroke-width="1.00" stroke-linejoin="round" />
<polygon points="1435.4,373.5 1438.8,373.1 1442.2,371.4 1438.8,371.8" fill="#050707" stroke="#050707" stroke-width="1.00" stroke-linejoin="round" />
<polygon points="1438.8,373.1 1442.3,372.9 1445.7,371.2 1442.2,371.4" fill="#050707" stroke="#050707" stroke-width="1.00" stroke-linejoin="round" />
<polygon points="1442.3,372.9 1445.9,372.9 1449.3,371.2 1445.7,371.2" fill="#050707" stroke="#050707" stroke-width="1.00" stroke-linejoin="round" />
<polygon points="1445.9,372.9 1449.5,373.1 1452.9,371.4 1449.3,371.2" fill="#050707" stroke="#050707" stroke-width="1.00" stroke-linejoin="round" />
<polygon points="1449.5,373.1 1453.1,373.4 1456.5,371.7 1452.9,371.4" fill="#050707" stroke="#050707" stroke-width="1.00" stroke-linejoin="round" />
<polygon points="1453.1,373.4 1456.8,374.0 1460.2,372.3 1456.5,371.7" fill="#050707" stroke="#050707" stroke-width="1.00" stroke-linejoin="round" />
<polygon points="1456.8,374.0 1460.5,374.7 1463.9,373.0 1460.2,372.3" fill="#050707" stroke="#050707" stroke-width="1.00" stroke-linejoin="round" />
<polygon points="1460.5,374.7 1464.3,375.6 1467.7,373.9 1463.9,373.0" fill="#050707" stroke="#050707" stroke-width="1.00" stroke-linejoin="round" />
<polygon points="1464.3,375.6 1468.0,376.7 1471.4,375.0 1467.7,373.9" fill="#050707" stroke="#050707" stroke-width="1.00" stroke-linejoin="round" />
<polygon points="1468.0,376.7 1471.8,377.9 1475.2,376.2 1471.4,375.0" fill="#050707" stroke="#050707" stroke-width="1.00" stroke-linejoin="round" />
<polygon points="1471.8,377.9 1475.6,379.3 1479.0,377.6 1475.2,376.2" fill="#050707" stroke="#050707" stroke-width="1.00" stroke-linejoin="round" />
<polygon points="1475.6,379.3 1479.4,380.9 1482.8,379.2 1479.0,377.6" fill="#050707" stroke="#050707" stroke-width="1.00" stroke-linejoin="round" />
<polygon points="1479.4,380.9 1483.3,382.7 1486.7,381.0 1482.8,379.2" fill="#050707" stroke="#050707" stroke-width="1.00" stroke-linejoin="round" />
<polygon points="1483.3,382.7 1487.1,384.7 1490.5,383.0 1486.7,381.0" fill="#050707" stroke="#050707" stroke-width="1.00" stroke-linejoin="round" />
<polygon points="1487.1,384.7 1490.9,386.8 1494.3,385.1 1490.5,383.0" fill="#050707" stroke="#050707" stroke-width="1.00" stroke-linejoin="round" />
<polygon points="1490.9,386.8 1494.7,389.0 1498.1,387.3 1494.3,385.1" fill="#050707" stroke="#050707" stroke-width="1.00" stroke-linejoin="round" />
<polygon points="1494.7,389.0 1498.5,391.5 1501.9,389.8 1498.1,387.3" fill="#050707" stroke="#050707" stroke-width="1.00" stroke-linejoin="round" />
<polygon points="1498.5,391.5 1502.3,394.1 1505.7,392.4 1501.9,389.8" fill="#050707" stroke="#050707" stroke-width="1.00" stroke-linejoin="round" />
<polygon points="1502.3,394.1 1506.0,396.8 1509.4,395.1 1505.7,392.4" fill="#050707" stroke="#050707" stroke-width="1.00" stroke-linejoin="round" />
<polygon points="1506.0,396.8 1509.7,399.7 1513.1,398.0 1509.4,395.1" fill="#050707" stroke="#050707" stroke-width="1.00" stroke-linejoin="round" />
<polygon points="1509.7,399.7 1513.4,402.7 1516.8,401.0 1513.1,398.0" fill="#050707" stroke="#050707" stroke-width="1.00" stroke-linejoin="round" />
<polygon points="1513.4,402.7 1517.1,405.9 1520.5,404.2 1516.8,401.0" fill="#050707" stroke="#050707" stroke-width="1.00" stroke-linejoin="round" />
<polygon points="1517.1,405.9 1520.7,409.3 1524.1,407.6 1520.5,404.2" fill="#050707" stroke="#050707" stroke-width="1.00" stroke-linejoin="round" />
<polygon points="1520.7,409.3 1524.2,412.7 1527.6,411.0 1524.1,407.6" fill="#050707" stroke="#050707" stroke-width="1.00" stroke-linejoin="round" />
<polygon points="1524.2,412.7 1527.7,416.3 1531.1,414.6 1527.6,411.0" fill="#050707" stroke="#050707" stroke-width="1.00" stroke-linejoin="round" />
<polygon points="1527.7,416.3 1531.2,420.0 1534.6,418.3 1531.1,414.6" fill="#050707" stroke="#050707" stroke-width="1.00" stroke-linejoin="round" />
<polygon points="1531.2,420.0 1534.5,423.9 1537.9,422.2 1534.6,418.3" fill="#050707" stroke="#050707" stroke-width="1.00" stroke-linejoin="round" />
<polygon points="1534.5,423.9 1537.9,427.8 1541.3,426.1 1537.9,422.2" fill="#050707" stroke="#050707" stroke-width="1.00" stroke-linejoin="round" />
<polygon points="1537.9,427.8 1541.1,431.9 1544.5,430.2 1541.3,426.1" fill="#050707" stroke="#050707" stroke-width="1.00" stroke-linejoin="round" />
<polygon points="1541.1,431.9 1544.3,436.0 1547.7,434.3 1544.5,430.2" fill="#050707" stroke="#050707" stroke-width="1.00" stroke-linejoin="round" />
<polygon points="1544.3,436.0 1547.4,440.3 1550.8,438.6 1547.7,434.3" fill="#050707" stroke="#050707" stroke-width="1.00" stroke-linejoin="round" />
<polygon points="1547.4,440.3 1550.4,444.7 1553.8,443.0 1550.8,438.6" fill="#050707" stroke="#050707" stroke-width="1.00" stroke-linejoin="round" />
<polygon points="1550.4,444.7 1553.3,449.1 1556.7,447.4 1553.8,443.0" fill="#050707" stroke="#050707" stroke-width="1.00" stroke-linejoin="round" />
<polygon points="1553.3,449.1 1556.1,453.6 1559.5,451.9 1556.7,447.4" fill="#050707" stroke="#050707" stroke-width="1.00" stroke-linejoin="round" />
<polygon points="1556.1,453.6 1558.8,458.2 1562.2,456.5 1559.5,451.9" fill="#050707" stroke="#050707" stroke-width="1.00" stroke-linejoin="round" />
<polygon points="1558.8,458.2 1561.5,462.9 1564.9,461.2 1562.2,456.5" fill="#050707" stroke="#050707" stroke-width="1.00" stroke-linejoin="round" />
<polygon points="1561.5,462.9 1564.0,467.7 1567.4,466.0 1564.9,461.2" fill="#050707" stroke="#050707" stroke-width="1.00" stroke-linejoin="round" />
<polygon points="1564.0,467.7 1566.4,472.5 1569.8,470.8 1567.4,466.0" fill="#050707" stroke="#050707" stroke-width="1.00" stroke-linejoin="round" />
<polygon points="1566.4,472.5 1568.8,477.3 1572.2,475.6 1569.8,470.8" fill="#050707" stroke="#050707" stroke-width="1.00" stroke-linejoin="round" />
<polygon points="1568.8,477.3 1571.0,482.2 1574.4,480.5 1572.2,475.6" fill="#050707" stroke="#050707" stroke-width="1.00" stroke-linejoin="round" />
<polygon points="1571.0,482.2 1582.0,478.4 1585.4,476.7 1574.4,480.5" fill="#050707" stroke="#050707" stroke-width="1.00" stroke-linejoin="round" />
<polygon points="1582.0,478.4 1579.9,516.7 1583.3,515.0 1585.4,476.7" fill="#050707" stroke="#050707" stroke-width="1.00" stroke-linejoin="round" />
<polygon points="1579.9,516.7 1551.0,489.1 1554.4,487.4 1583.3,515.0" fill="#050707" stroke="#050707" stroke-width="1.00" stroke-linejoin="round" />
<polygon points="1551.0,489.1 1562.7,485.1 1566.1,483.4 1554.4,487.4" fill="#050707" stroke="#050707" stroke-width="1.00" stroke-linejoin="round" />
<polygon points="1562.7,485.1 1560.7,480.7 1564.1,479.0 1566.1,483.4" fill="#050707" stroke="#050707" stroke-width="1.00" stroke-linejoin="round" />
<polygon points="1560.7,480.7 1558.6,476.3 1562.0,474.6 1564.1,479.0" fill="#050707" stroke="#050707" stroke-width="1.00" stroke-linejoin="round" />
<polygon points="1558.6,476.3 1556.4,471.9 1559.8,470.2 1562.0,474.6" fill="#050707" stroke="#050707" stroke-width="1.00" stroke-linejoin="round" />
<polygon points="1556.4,471.9 1554.1,467.6 1557.5,465.9 1559.8,470.2" fill="#050707" stroke="#050707" stroke-width="1.00" stroke-linejoin="round" />
<polygon points="1554.1,467.6 1551.7,463.4 1555.1,461.7 1557.5,465.9" fill="#050707" stroke="#050707" stroke-width="1.00" stroke-linejoin="round" />
<polygon points="1551.7,463.4 1549.2,459.2 1552.6,457.5 1555.1,461.7" fill="#050707" stroke="#050707" stroke-width="1.00" stroke-linejoin="round" />
<polygon points="1549.2,459.2 1546.6,455.1 1550.0,453.4 1552.6,457.5" fill="#050707" stroke="#050707" stroke-width="1.00" stroke-linejoin="round" />
<polygon points="1546.6,455.1 1544.0,451.1 1547.4,449.4 1550.0,453.4" fill="#050707" stroke="#050707" stroke-width="1.00" stroke-linejoin="round" />
<polygon points="1544.0,451.1 1541.3,447.2 1544.7,445.5 1547.4,449.4" fill="#050707" stroke="#050707" stroke-width="1.00" stroke-linejoin="round" />
<polygon points="1541.3,447.2 1538.5,443.3 1541.9,441.6 1544.7,445.5" fill="#050707" stroke="#050707" stroke-width="1.00" stroke-linejoin="round" />
<polygon points="1538.5,443.3 1535.6,439.5 1539.0,437.8 1541.9,441.6" fill="#050707" stroke="#050707" stroke-width="1.00" stroke-linejoin="round" />
<polygon points="1535.6,439.5 1532.7,435.8 1536.1,434.1 1539.0,437.8" fill="#050707" stroke="#050707" stroke-width="1.00" stroke-linejoin="round" />
<polygon points="1532.7,435.8 1529.7,432.3 1533.1,430.6 1536.1,434.1" fill="#050707" stroke="#050707" stroke-width="1.00" stroke-linejoin="round" />
<polygon points="1529.7,432.3 1526.6,428.8 1530.0,427.1 1533.1,430.6" fill="#050707" stroke="#050707" stroke-width="1.00" stroke-linejoin="round" />
<polygon points="1526.6,428.8 1523.5,425.4 1526.9,423.7 1530.0,427.1" fill="#050707" stroke="#050707" stroke-width="1.00" stroke-linejoin="round" />
<polygon points="1523.5,425.4 1520.3,422.2 1523.7,420.5 1526.9,423.7" fill="#050707" stroke="#050707" stroke-width="1.00" stroke-linejoin="round" />
<polygon points="1520.3,422.2 1517.1,419.1 1520.5,417.4 1523.7,420.5" fill="#050707" stroke="#050707" stroke-width="1.00" stroke-linejoin="round" />
<polygon points="1517.1,419.1 1513.9,416.1 1517.3,414.4 1520.5,417.4" fill="#050707" stroke="#050707" stroke-width="1.00" stroke-linejoin="round" />
<polygon points="1513.9,416.1 1510.6,413.2 1514.0,411.5 1517.3,414.4" fill="#050707" stroke="#050707" stroke-width="1.00" stroke-linejoin="round" />
<polygon points="1510.6,413.2 1507.2,410.4 1510.6,408.7 1514.0,411.5" fill="#050707" stroke="#050707" stroke-width="1.00" stroke-linejoin="round" />
<polygon points="1507.2,410.4 1503.9,407.8 1507.3,406.1 1510.6,408.7" fill="#050707" stroke="#050707" stroke-width="1.00" stroke-linejoin="round" />
<polygon points="1503.9,407.8 1500.5,405.3 1503.9,403.6 1507.3,406.1" fill="#050707" stroke="#050707" stroke-width="1.00" stroke-linejoin="round" />
<polygon points="1500.5,405.3 1497.1,403.0 1500.5,401.3 1503.9,403.6" fill="#050707" stroke="#050707" stroke-width="1.00" stroke-linejoin="round" />
<polygon points="1497.1,403.0 1493.6,400.8 1497.0,399.1 1500.5,401.3" fill="#050707" stroke="#050707" stroke-width="1.00" stroke-linejoin="round" />
<polygon points="1493.6,400.8 1490.2,398.7 1493.6,397.0 1497.0,399.1" fill="#050707" stroke="#050707" stroke-width="1.00" stroke-linejoin="round" />
<polygon points="1490.2,398.7 1486.7,396.8 1490.1,395.1 1493.6,397.0" fill="#050707" stroke="#050707" stroke-width="1.00" stroke-linejoin="round" />
<polygon points="1486.7,396.8 1483.3,395.0 1486.7,393.3 1490.1,395.1" fill="#050707" stroke="#050707" stroke-width="1.00" stroke-linejoin="round" />
<polygon points="1483.3,395.0 1479.8,393.4 1483.2,391.7 1486.7,393.3" fill="#050707" stroke="#050707" stroke-width="1.00" stroke-linejoin="round" />
<polygon points="1479.8,393.4 1476.4,392.0 1479.8,390.3 1483.2,391.7" fill="#050707" stroke="#050707" stroke-width="1.00" stroke-linejoin="round" />
<polygon points="1476.4,392.0 1472.9,390.7 1476.3,389.0 1479.8,390.3" fill="#050707" stroke="#050707" stroke-width="1.00" stroke-linejoin="round" />
<polygon points="1472.9,390.7 1469.5,389.6 1472.9,387.9 1476.3,389.0" fill="#050707" stroke="#050707" stroke-width="1.00" stroke-linejoin="round" />
<polygon points="1469.5,389.6 1466.1,388.6 1469.5,386.9 1472.9,387.9" fill="#050707" stroke="#050707" stroke-width="1.00" stroke-linejoin="round" />
<polygon points="1466.1,388.6 1462.7,387.8 1466.1,386.1 1469.5,386.9" fill="#050707" stroke="#050707" stroke-width="1.00" stroke-linejoin="round" />
<polygon points="1462.7,387.8 1459.3,387.1 1462.7,385.4 1466.1,386.1" fill="#050707" stroke="#050707" stroke-width="1.00" stroke-linejoin="round" />
<polygon points="1459.3,387.1 1456.0,386.6 1459.4,384.9 1462.7,385.4" fill="#050707" stroke="#050707" stroke-width="1.00" stroke-linejoin="round" />
<polygon points="1456.0,386.6 1452.7,386.3 1456.1,384.6 1459.4,384.9" fill="#050707" stroke="#050707" stroke-width="1.00" stroke-linejoin="round" />
<polygon points="1452.7,386.3 1449.5,386.2 1452.9,384.5 1456.1,384.6" fill="#050707" stroke="#050707" stroke-width="1.00" stroke-linejoin="round" />
<polygon points="1449.5,386.2 1446.2,386.2 1449.6,384.5 1452.9,384.5" fill="#050707" stroke="#050707" stroke-width="1.00" stroke-linejoin="round" />
<polygon points="1446.2,386.2 1443.1,386.3 1446.5,384.6 1449.6,384.5" fill="#050707" stroke="#050707" stroke-width="1.00" stroke-linejoin="round" />
<polygon points="1443.1,386.3 1440.0,386.7 1443.4,385.0 1446.5,384.6" fill="#050707" stroke="#050707" stroke-width="1.00" stroke-linejoin="round" />
<polygon points="1440.0,386.7 1436.9,387.2 1440.3,385.5 1443.4,385.0" fill="#050707" stroke="#050707" stroke-width="1.00" stroke-linejoin="round" />
<polygon points="1436.9,387.2 1433.9,387.8 1437.3,386.1 1440.3,385.5" fill="#050707" stroke="#050707" stroke-width="1.00" stroke-linejoin="round" />
<polygon points="1433.9,387.8 1431.0,388.7 1434.4,387.0 1437.3,386.1" fill="#050707" stroke="#050707" stroke-width="1.00" stroke-linejoin="round" />
<polygon points="1431.0,388.7 1428.1,389.6 1431.5,387.9 1434.4,387.0" fill="#050707" stroke="#050707" stroke-width="1.00" stroke-linejoin="round" />
<polygon points="1428.1,389.6 1425.4,390.8 1428.8,389.1 1431.5,387.9" fill="#050707" stroke="#050707" stroke-width="1.00" stroke-linejoin="round" />
<polygon points="1425.4,390.8 1422.7,392.1 1426.1,390.4 1428.8,389.1" fill="#050707" stroke="#050707" stroke-width="1.00" stroke-linejoin="round" />
<polygon points="1422.7,392.1 1420.0,393.6 1423.4,391.9 1426.1,390.4" fill="#050707" stroke="#050707" stroke-width="1.00" stroke-linejoin="round" />
<polygon points="1420.0,393.6 1417.5,395.2 1420.9,393.5 1423.4,391.9" fill="#050707" stroke="#050707" stroke-width="1.00" stroke-linejoin="round" />
<polygon points="1417.5,395.2 1415.0,396.9 1418.4,395.2 1420.9,393.5" fill="#050707" stroke="#050707" stroke-width="1.00" stroke-linejoin="round" />
<polygon points="1415.0,396.9 1412.6,398.9 1416.0,397.2 1418.4,395.2" fill="#050707" stroke="#050707" stroke-width="1.00" stroke-linejoin="round" />
<polygon points="1412.6,398.9 1410.4,400.9 1413.8,399.2 1416.0,397.2" fill="#050707" stroke="#050707" stroke-width="1.00" stroke-linejoin="round" />
<polygon points="1410.4,400.9 1408.2,403.1 1411.6,401.4 1413.8,399.2" fill="#050707" stroke="#050707" stroke-width="1.00" stroke-linejoin="round" />
<polygon points="1408.2,403.1 1406.1,405.5 1409.5,403.8 1411.6,401.4" fill="#050707" stroke="#050707" stroke-width="1.00" stroke-linejoin="round" />
<polygon points="1406.1,405.5 1404.1,408.0 1407.5,406.3 1409.5,403.8" fill="#050707" stroke="#050707" stroke-width="1.00" stroke-linejoin="round" />
<polygon points="1404.1,408.0 1402.2,410.6 1405.6,408.9 1407.5,406.3" fill="#050707" stroke="#050707" stroke-width="1.00" stroke-linejoin="round" />
<polygon points="1402.2,410.6 1400.4,413.4 1403.8,411.7 1405.6,408.9" fill="#050707" stroke="#050707" stroke-width="1.00" stroke-linejoin="round" />
<polygon points="1400.4,413.4 1398.8,416.3 1402.2,414.6 1403.8,411.7" fill="#050707" stroke="#050707" stroke-width="1.00" stroke-linejoin="round" />
<polygon points="1398.8,416.3 1397.2,419.3 1400.6,417.6 1402.2,414.6" fill="#050707" stroke="#050707" stroke-width="1.00" stroke-linejoin="round" />
<polygon points="1397.2,419.3 1395.8,422.4 1399.2,420.7 1400.6,417.6" fill="#050707" stroke="#050707" stroke-width="1.00" stroke-linejoin="round" />
<polygon points="1395.8,422.4 1394.4,425.7 1397.8,424.0 1399.2,420.7" fill="#050707" stroke="#050707" stroke-width="1.00" stroke-linejoin="round" />
<polygon points="1394.4,425.7 1393.2,429.1 1396.6,427.4 1397.8,424.0" fill="#050707" stroke="#050707" stroke-width="1.00" stroke-linejoin="round" />
<polygon points="1393.2,429.1 1392.1,432.5 1395.5,430.8 1396.6,427.4" fill="#050707" stroke="#050707" stroke-width="1.00" stroke-linejoin="round" />
<polygon points="1392.1,432.5 1391.1,436.1 1394.5,434.4 1395.5,430.8" fill="#050707" stroke="#050707" stroke-width="1.00" stroke-linejoin="round" />
<polygon points="1391.1,436.1 1390.3,439.8 1393.7,438.1 1394.5,434.4" fill="#050707" stroke="#050707" stroke-width="1.00" stroke-linejoin="round" />
<polygon points="1390.3,439.8 1389.5,443.6 1392.9,441.9 1393.7,438.1" fill="#050707" stroke="#050707" stroke-width="1.00" stroke-linejoin="round" />
<polygon points="1389.5,443.6 1388.9,447.4 1392.3,445.7 1392.9,441.9" fill="#050707" stroke="#050707" stroke-width="1.00" stroke-linejoin="round" />
<polygon points="1388.9,447.4 1388.4,451.4 1391.8,449.7 1392.3,445.7" fill="#050707" stroke="#050707" stroke-width="1.00" stroke-linejoin="round" />
<polygon points="1388.4,451.4 1388.1,455.4 1391.5,453.7 1391.8,449.7" fill="#050707" stroke="#050707" stroke-width="1.00" stroke-linejoin="round" />
<polygon points="1388.1,455.4 1387.8,459.5 1391.2,457.8 1391.5,453.7" fill="#050707" stroke="#050707" stroke-width="1.00" stroke-linejoin="round" />
<polygon points="1387.8,459.5 1387.7,463.7 1391.1,462.0 1391.2,457.8" fill="#050707" stroke="#050707" stroke-width="1.00" stroke-linejoin="round" />
<polygon points="1387.7,463.7 1387.7,467.9 1391.1,466.2 1391.1,462.0" fill="#050707" stroke="#050707" stroke-width="1.00" stroke-linejoin="round" />
<polygon points="1387.7,467.9 1387.8,472.2 1391.2,470.5 1391.1,466.2" fill="#050707" stroke="#050707" stroke-width="1.00" stroke-linejoin="round" />
<polygon points="1387.8,472.2 1388.1,476.6 1391.5,474.9 1391.2,470.5" fill="#050707" stroke="#050707" stroke-width="1.00" stroke-linejoin="round" />
<polygon points="1388.1,476.6 1388.5,481.0 1391.9,479.3 1391.5,474.9" fill="#050707" stroke="#050707" stroke-width="1.00" stroke-linejoin="round" />
<polygon points="1388.5,481.0 1389.0,485.4 1392.4,483.7 1391.9,479.3" fill="#050707" stroke="#050707" stroke-width="1.00" stroke-linejoin="round" />
<polygon points="1389.0,485.4 1389.6,489.9 1393.0,488.2 1392.4,483.7" fill="#050707" stroke="#050707" stroke-width="1.00" stroke-linejoin="round" />
<polygon points="1389.6,489.9 1390.3,494.4 1393.7,492.7 1393.0,488.2" fill="#050707" stroke="#050707" stroke-width="1.00" stroke-linejoin="round" />
<polygon points="1390.3,494.4 1391.2,498.9 1394.6,497.2 1393.7,492.7" fill="#050707" stroke="#050707" stroke-width="1.00" stroke-linejoin="round" />
<polygon points="1391.2,498.9 1392.2,503.4 1395.6,501.7 1394.6,497.2" fill="#050707" stroke="#050707" stroke-width="1.00" stroke-linejoin="round" />
<polygon points="1392.2,503.4 1393.3,508.0 1396.7,506.3 1395.6,501.7" fill="#050707" stroke="#050707" stroke-width="1.00" stroke-linejoin="round" />
<polygon points="1393.3,508.0 1394.5,512.6 1397.9,510.9 1396.7,506.3" fill="#050707" stroke="#050707" stroke-width="1.00" stroke-linejoin="round" />
<polygon points="1394.5,512.6 1395.9,517.1 1399.3,515.4 1397.9,510.9" fill="#050707" stroke="#050707" stroke-width="1.00" stroke-linejoin="round" />
<polygon points="1395.9,517.1 1397.3,521.7 1400.7,520.0 1399.3,515.4" fill="#050707" stroke="#050707" stroke-width="1.00" stroke-linejoin="round" />
<polygon points="1397.3,521.7 1398.9,526.2 1402.3,524.5 1400.7,520.0" fill="#050707" stroke="#050707" stroke-width="1.00" stroke-linejoin="round" />
<polygon points="1398.9,526.2 1400.6,530.7 1404.0,529.0 1402.3,524.5" fill="#050707" stroke="#050707" stroke-width="1.00" stroke-linejoin="round" />
<polygon points="1400.6,530.7 1402.4,535.2 1405.8,533.5 1404.0,529.0" fill="#050707" stroke="#050707" stroke-width="1.00" stroke-linejoin="round" />
<polygon points="1402.4,535.2 1404.3,539.7 1407.7,538.0 1405.8,533.5" fill="#050707" stroke="#050707" stroke-width="1.00" stroke-linejoin="round" />
<polygon points="1404.3,539.7 1406.2,544.1 1409.6,542.4 1407.7,538.0" fill="#050707" stroke="#050707" stroke-width="1.00" stroke-linejoin="round" />
<polygon points="1406.2,544.1 1408.3,548.5 1411.7,546.8 1409.6,542.4" fill="#050707" stroke="#050707" stroke-width="1.00" stroke-linejoin="round" />
<polygon points="1408.3,548.5 1410.5,552.9 1413.9,551.2 1411.7,546.8" fill="#050707" stroke="#050707" stroke-width="1.00" stroke-linejoin="round" />
<polygon points="1410.5,552.9 1412.8,557.2 1416.2,555.5 1413.9,551.2" fill="#050707" stroke="#050707" stroke-width="1.00" stroke-linejoin="round" />
<polygon points="1412.8,557.2 1415.2,561.4 1418.6,559.7 1416.2,555.5" fill="#050707" stroke="#050707" stroke-width="1.00" stroke-linejoin="round" />
<polygon points="1415.2,561.4 1417.7,565.6 1421.1,563.9 1418.6,559.7" fill="#050707" stroke="#050707" stroke-width="1.00" stroke-linejoin="round" />
<polygon points="1417.7,565.6 1420.2,569.7 1423.6,568.0 1421.1,563.9" fill="#050707" stroke="#050707" stroke-width="1.00" stroke-linejoin="round" />
<polygon points="1420.2,569.7 1422.9,573.7 1426.3,572.0 1423.6,568.0" fill="#050707" stroke="#050707" stroke-width="1.00" stroke-linejoin="round" />
<polygon points="1422.9,573.7 1425.6,577.7 1429.0,576.0 1426.3,572.0" fill="#050707" stroke="#050707" stroke-width="1.00" stroke-linejoin="round" />
<polygon points="1425.6,577.7 1428.4,581.5 1431.8,579.8 1429.0,576.0" fill="#050707" stroke="#050707" stroke-width="1.00" stroke-linejoin="round" />
<polygon points="1428.4,581.5 1431.2,585.3 1434.6,583.6 1431.8,579.8" fill="#050707" stroke="#050707" stroke-width="1.00" stroke-linejoin="round" />
<polygon points="1431.2,585.3 1434.2,589.0 1437.6,587.3 1434.6,583.6" fill="#050707" stroke="#050707" stroke-width="1.00" stroke-linejoin="round" />
<polygon points="1434.2,589.0 1437.2,592.6 1440.6,590.9 1437.6,587.3" fill="#050707" stroke="#050707" stroke-width="1.00" stroke-linejoin="round" />
<polygon points="1437.2,592.6 1440.2,596.0 1443.6,594.3 1440.6,590.9" fill="#050707" stroke="#050707" stroke-width="1.00" stroke-linejoin="round" />
<polygon points="1440.2,596.0 1443.3,599.4 1446.7,597.7 1443.6,594.3" fill="#050707" stroke="#050707" stroke-width="1.00" stroke-linejoin="round" />
<polygon points="1443.3,599.4 1446.5,602.7 1449.9,601.0 1446.7,597.7" fill="#050707" stroke="#050707" stroke-width="1.00" stroke-linejoin="round" />
<polygon points="1446.5,602.7 1449.7,605.8 1453.1,604.1 1449.9,601.0" fill="#050707" stroke="#050707" stroke-width="1.00" stroke-linejoin="round" />
<polygon points="1449.7,605.8 1453.0,608.8 1456.4,607.1 1453.1,604.1" fill="#050707" stroke="#050707" stroke-width="1.00" stroke-linejoin="round" />
<polygon points="1453.0,608.8 1456.3,611.7 1459.7,610.0 1456.4,607.1" fill="#050707" stroke="#050707" stroke-width="1.00" stroke-linejoin="round" />
<polygon points="1456.3,611.7 1459.6,614.5 1463.0,612.8 1459.7,610.0" fill="#050707" stroke="#050707" stroke-width="1.00" stroke-linejoin="round" />
<polygon points="1459.6,614.5 1463.0,617.1 1466.4,615.4 1463.0,612.8" fill="#050707" stroke="#050707" stroke-width="1.00" stroke-linejoin="round" />
<polygon points="1463.0,617.1 1466.4,619.6 1469.8,617.9 1466.4,615.4" fill="#050707" stroke="#050707" stroke-width="1.00" stroke-linejoin="round" />
<polygon points="1466.4,619.6 1469.8,621.9 1473.2,620.2 1469.8,617.9" fill="#050707" stroke="#050707" stroke-width="1.00" stroke-linejoin="round" />
<polygon points="1469.8,621.9 1473.2,624.1 1476.6,622.4 1473.2,620.2" fill="#050707" stroke="#050707" stroke-width="1.00" stroke-linejoin="round" />
<polygon points="1473.2,624.1 1476.6,626.2 1480.0,624.5 1476.6,622.4" fill="#050707" stroke="#050707" stroke-width="1.00" stroke-linejoin="round" />
<polygon points="1476.6,626.2 1480.1,628.1 1483.5,626.4 1480.0,624.5" fill="#050707" stroke="#050707" stroke-width="1.00" stroke-linejoin="round" />
<polygon points="1480.1,628.1 1483.6,629.9 1487.0,628.2 1483.5,626.4" fill="#050707" stroke="#050707" stroke-width="1.00" stroke-linejoin="round" />
<polygon points="1483.6,629.9 1487.0,631.5 1490.4,629.8 1487.0,628.2" fill="#050707" stroke="#050707" stroke-width="1.00" stroke-linejoin="round" />
<polygon points="1487.0,631.5 1490.5,632.9 1493.9,631.2 1490.4,629.8" fill="#050707" stroke="#050707" stroke-width="1.00" stroke-linejoin="round" />
<polygon points="1490.5,632.9 1493.9,634.2 1497.3,632.5 1493.9,631.2" fill="#050707" stroke="#050707" stroke-width="1.00" stroke-linejoin="round" />
<polygon points="1493.9,634.2 1497.3,635.4 1500.7,633.7 1497.3,632.5" fill="#050707" stroke="#050707" stroke-width="1.00" stroke-linejoin="round" />
<polygon points="1497.3,635.4 1500.8,636.4 1504.2,634.7 1500.7,633.7" fill="#050707" stroke="#050707" stroke-width="1.00" stroke-linejoin="round" />
<polygon points="1500.8,636.4 1504.1,637.2 1507.5,635.5 1504.2,634.7" fill="#050707" stroke="#050707" stroke-width="1.00" stroke-linejoin="round" />
<polygon points="1504.1,637.2 1507.5,637.8 1510.9,636.1 1507.5,635.5" fill="#050707" stroke="#050707" stroke-width="1.00" stroke-linejoin="round" />
<polygon points="1507.5,637.8 1510.8,638.3 1514.2,636.6 1510.9,636.1" fill="#050707" stroke="#050707" stroke-width="1.00" stroke-linejoin="round" />
<polygon points="1510.8,638.3 1514.1,638.7 1517.5,637.0 1514.2,636.6" fill="#050707" stroke="#050707" stroke-width="1.00" stroke-linejoin="round" />
<polygon points="1514.1,638.7 1517.4,638.8 1520.8,637.1 1517.5,637.0" fill="#050707" stroke="#050707" stroke-width="1.00" stroke-linejoin="round" />
<polygon points="1517.4,638.8 1520.6,638.8 1524.0,637.1 1520.8,637.1" fill="#050707" stroke="#050707" stroke-width="1.00" stroke-linejoin="round" />
<polygon points="1520.6,638.8 1523.8,638.7 1527.2,637.0 1524.0,637.1" fill="#050707" stroke="#050707" stroke-width="1.00" stroke-linejoin="round" />
<polygon points="1523.8,638.7 1526.9,638.3 1530.3,636.6 1527.2,637.0" fill="#050707" stroke="#050707" stroke-width="1.00" stroke-linejoin="round" />
<polygon points="1526.9,638.3 1529.9,637.9 1533.3,636.2 1530.3,636.6" fill="#050707" stroke="#050707" stroke-width="1.00" stroke-linejoin="round" />
<polygon points="1529.9,637.9 1532.9,637.2 1536.3,635.5 1533.3,636.2" fill="#050707" stroke="#050707" stroke-width="1.00" stroke-linejoin="round" />
<polygon points="1532.9,637.2 1535.9,636.4 1539.3,634.7 1536.3,635.5" fill="#050707" stroke="#050707" stroke-width="1.00" stroke-linejoin="round" />
<polygon points="1535.9,636.4 1538.7,635.4 1542.1,633.7 1539.3,634.7" fill="#050707" stroke="#050707" stroke-width="1.00" stroke-linejoin="round" />
<polygon points="1538.7,635.4 1541.5,634.3 1544.9,632.6 1542.1,633.7" fill="#050707" stroke="#050707" stroke-width="1.00" stroke-linejoin="round" />
<polygon points="1541.5,634.3 1544.2,633.0 1547.6,631.3 1544.9,632.6" fill="#050707" stroke="#050707" stroke-width="1.00" stroke-linejoin="round" />
<polygon points="1544.2,633.0 1546.9,631.5 1550.3,629.8 1547.6,631.3" fill="#050707" stroke="#050707" stroke-width="1.00" stroke-linejoin="round" />
<polygon points="1546.9,631.5 1549.4,629.9 1552.8,628.2 1550.3,629.8" fill="#050707" stroke="#050707" stroke-width="1.00" stroke-linejoin="round" />
<polygon points="1549.4,629.9 1551.9,628.1 1555.3,626.4 1552.8,628.2" fill="#050707" stroke="#050707" stroke-width="1.00" stroke-linejoin="round" />
<polygon points="1551.9,628.1 1554.3,626.2 1557.7,624.5 1555.3,626.4" fill="#050707" stroke="#050707" stroke-width="1.00" stroke-linejoin="round" />
<polygon points="1554.3,626.2 1556.5,624.2 1559.9,622.5 1557.7,624.5" fill="#050707" stroke="#050707" stroke-width="1.00" stroke-linejoin="round" />
<polygon points="1556.5,624.2 1558.7,622.0 1562.1,620.3 1559.9,622.5" fill="#050707" stroke="#050707" stroke-width="1.00" stroke-linejoin="round" />
<polygon points="1558.7,622.0 1560.8,619.6 1564.2,617.9 1562.1,620.3" fill="#050707" stroke="#050707" stroke-width="1.00" stroke-linejoin="round" />
<polygon points="1560.8,619.6 1568.9,630.9 1572.3,629.2 1564.2,617.9" fill="#050707" stroke="#050707" stroke-width="1.00" stroke-linejoin="round" />
<polygon points="1568.9,630.9 1566.6,633.5 1564.2,635.9 1561.7,638.2 1559.1,640.3 1556.3,642.2 1553.5,644.0 1550.6,645.6 1547.6,647.1 1544.5,648.3 1541.4,649.4 1538.1,650.3 1534.8,651.0 1531.4,651.6 1528.0,651.9 1524.5,652.1 1521.0,652.1 1517.4,651.9 1513.7,651.6 1510.0,651.0 1506.3,650.3 1502.6,649.4 1498.8,648.3 1495.0,647.0 1491.2,645.6 1487.4,644.0 1483.6,642.2 1479.7,640.3 1475.9,638.1 1472.1,635.9 1468.3,633.4 1464.6,630.8 1460.8,628.1 1457.1,625.2 1453.4,622.1 1449.8,618.9 1446.2,615.6 1442.6,612.1 1439.1,608.5 1435.7,604.8 1432.3,601.0 1429.0,597.0 1425.8,592.9 1422.6,588.8 1419.5,584.5 1416.5,580.1 1413.6,575.7 1410.8,571.2 1408.0,566.5 1405.4,561.9 1402.9,557.1 1400.5,552.3 1398.1,547.5 1395.9,542.6 1393.8,537.6 1391.9,532.7 1390.0,527.7 1388.3,522.6 1386.7,517.6 1385.2,512.6 1383.8,507.5 1382.6,502.5 1381.5,497.5 1380.6,492.5 1379.7,487.5 1379.0,482.6 1378.5,477.7 1378.1,472.8 1377.8,468.0 1377.6,463.3 1377.6,458.6 1377.8,454.0 1378.0,449.4 1378.4,445.0 1379.0,440.6 1379.7,436.3 1380.5,432.2 1381.4,428.1 1382.5,424.1 1383.7,420.3 1385.1,416.6 1386.5,413.0 1388.1,409.5 1389.9,406.2 1391.7,403.0 1393.7,399.9 1395.8,397.0 1398.0,394.3 1400.3,391.7 1402.7,389.2 1405.2,386.9 1407.8,384.8 1410.5,382.8 1413.4,381.1 1416.3,379.4 1419.3,378.0 1422.3,376.7 1425.5,375.7 1428.7,374.7 1432.0,374.0 1435.4,373.5 1438.8,373.1 1442.3,372.9 1445.9,372.9 1449.5,373.1 1453.1,373.4 1456.8,374.0 1460.5,374.7 1464.3,375.6 1468.0,376.7 1471.8,377.9 1475.6,379.3 1479.4,380.9 1483.3,382.7 1487.1,384.7 1490.9,386.8 1494.7,389.0 1498.5,391.5 1502.3,394.1 1506.0,396.8 1509.7,399.7 1513.4,402.7 1517.1,405.9 1520.7,409.3 1524.2,412.7 1527.7,416.3 1531.2,420.0 1534.5,423.9 1537.9,427.8 1541.1,431.9 1544.3,436.0 1547.4,440.3 1550.4,444.7 1553.3,449.1 1556.1,453.6 1558.8,458.2 1561.5,462.9 1564.0,467.7 1566.4,472.5 1568.8,477.3 1571.0,482.2 1582.0,478.4 1579.9,516.7 1551.0,489.1 1562.7,485.1 1560.7,480.7 1558.6,476.3 1556.4,471.9 1554.1,467.6 1551.7,463.4 1549.2,459.2 1546.6,455.1 1544.0,451.1 1541.3,447.2 1538.5,443.3 1535.6,439.5 1532.7,435.8 1529.7,432.3 1526.6,428.8 1523.5,425.4 1520.3,422.2 1517.1,419.1 1513.9,416.1 1510.6,413.2 1507.2,410.4 1503.9,407.8 1500.5,405.3 1497.1,403.0 1493.6,400.8 1490.2,398.7 1486.7,396.8 1483.3,395.0 1479.8,393.4 1476.4,392.0 1472.9,390.7 1469.5,389.6 1466.1,388.6 1462.7,387.8 1459.3,387.1 1456.0,386.6 1452.7,386.3 1449.5,386.2 1446.2,386.2 1443.1,386.3 1440.0,386.7 1436.9,387.2 1433.9,387.8 1431.0,388.7 1428.1,389.6 1425.4,390.8 1422.7,392.1 1420.0,393.6 1417.5,395.2 1415.0,396.9 1412.6,398.9 1410.4,400.9 1408.2,403.1 1406.1,405.5 1404.1,408.0 1402.2,410.6 1400.4,413.4 1398.8,416.3 1397.2,419.3 1395.8,422.4 1394.4,425.7 1393.2,429.1 1392.1,432.5 1391.1,436.1 1390.3,439.8 1389.5,443.6 1388.9,447.4 1388.4,451.4 1388.1,455.4 1387.8,459.5 1387.7,463.7 1387.7,467.9 1387.8,472.2 1388.1,476.6 1388.5,481.0 1389.0,485.4 1389.6,489.9 1390.3,494.4 1391.2,498.9 1392.2,503.4 1393.3,508.0 1394.5,512.6 1395.9,517.1 1397.3,521.7 1398.9,526.2 1400.6,530.7 1402.4,535.2 1404.3,539.7 1406.2,544.1 1408.3,548.5 1410.5,552.9 1412.8,557.2 1415.2,561.4 1417.7,565.6 1420.2,569.7 1422.9,573.7 1425.6,577.7 1428.4,581.5 1431.2,585.3 1434.2,589.0 1437.2,592.6 1440.2,596.0 1443.3,599.4 1446.5,602.7 1449.7,605.8 1453.0,608.8 1456.3,611.7 1459.6,614.5 1463.0,617.1 1466.4,619.6 1469.8,621.9 1473.2,624.1 1476.6,626.2 1480.1,628.1 1483.6,629.9 1487.0,631.5 1490.5,632.9 1493.9,634.2 1497.3,635.4 1500.8,636.4 1504.1,637.2 1507.5,637.8 1510.8,638.3 1514.1,638.7 1517.4,638.8 1520.6,638.8 1523.8,638.7 1526.9,638.3 1529.9,637.9 1532.9,637.2 1535.9,636.4 1538.7,635.4 1541.5,634.3 1544.2,633.0 1546.9,631.5 1549.4,629.9 1551.9,628.1 1554.3,626.2 1556.5,624.2 1558.7,622.0 1560.8,619.6" fill="#1ea70d" stroke="#050707" stroke-width="2.20" stroke-linejoin="round" />
<polygon points="1359.3,335.4 1482.6,219.4 1485.6,221.8 1363.4,336.7" fill="#ff0000" stroke="#050707" stroke-width="2.00" stroke-linejoin="round" />
<polygon points="1363.4,336.7 1485.6,221.8 1486.4,356.8 1374.5,363.8" fill="#ff0000" stroke="#050707" stroke-width="2.40" stroke-linejoin="round" />
<polygon points="1330.7,325.8 1359.5,338.7 1359.5,388.3 1330.7,374.8" fill="#0b0b98" stroke="#050707" stroke-width="2.40" stroke-linejoin="round" />
<path d="M1359.5,338.7 C1366,338.3 1374.6,341 1375.4,354 C1375.6,366 1370,380 1361,388.6 L1359.5,388.3 Z" fill="#3535ff" stroke="#050707" stroke-width="2.4" stroke-linejoin="round"/>
<polygon points="1338.2,358.6 1333.2,380.2 1333.2,384.8 1338.2,363.2" fill="#ff0000" stroke="#050707" stroke-width="2.60" stroke-linejoin="round" />
<polygon points="1333.2,380.2 1321.1,373.0 1321.1,377.6 1333.2,384.8" fill="#ff0000" stroke="#050707" stroke-width="2.60" stroke-linejoin="round" />
<polygon points="1321.1,373.0 1171.1,449.2 1171.1,453.8 1321.1,377.6" fill="#ff0000" stroke="#050707" stroke-width="2.60" stroke-linejoin="round" />
<polygon points="1171.1,449.2 1155.1,444.2 1155.1,448.8 1171.1,453.8" fill="#ff0000" stroke="#050707" stroke-width="2.60" stroke-linejoin="round" />
<polygon points="1307.6,366.7 1294.0,360.4 1294.0,365.0 1307.6,371.3" fill="#ff0000" stroke="#050707" stroke-width="2.60" stroke-linejoin="round" />
<polygon points="1294.0,360.4 1338.2,358.6 1333.2,380.2 1321.1,373.0 1171.1,449.2 1155.1,444.2 1307.6,366.7" fill="#ff0000" stroke="#050707" stroke-width="2.60" stroke-linejoin="round" />
<g transform="translate(868.0,52.4)">
<path d="M225.95,450.14 C225.05,449.59 222.43,448.69 220.54,446.89 C218.65,445.09 216.08,441.85 214.59,439.32 C213.11,436.80 212.25,434.28 211.62,431.76 C210.99,429.23 210.72,426.35 210.81,424.19 C210.90,422.03 211.26,420.24 212.16,418.78 C213.06,417.32 214.64,416.35 216.22,415.43 C217.79,414.51 220.72,413.63 221.62,413.27 L256.22,401.59 C257.12,401.74 259.91,401.49 261.62,402.46 C263.33,403.43 265.27,405.61 266.49,407.43 C267.70,409.25 268.56,411.22 268.92,413.38 C269.28,415.54 269.01,418.23 268.65,420.41 C268.29,422.59 267.07,425.45 266.76,426.46 L242.16,439.97 C241.85,440.59 241.08,442.48 240.27,443.65 C239.46,444.82 238.60,446.01 237.30,447.00 C235.99,447.99 234.32,449.07 232.43,449.59 C230.54,450.12 227.03,450.05 225.95,450.14Z" fill="#f2ff12" stroke="#050707" stroke-width="3.5" stroke-linejoin="round"/>
<path d="M222.43,413.65 C223.38,414.77 226.53,417.93 228.11,420.41 C229.68,422.88 230.95,425.90 231.89,428.51 C232.84,431.13 233.51,433.74 233.78,436.08 C234.05,438.42 234.01,440.54 233.51,442.57 C233.02,444.59 231.26,447.30 230.81,448.24" fill="none" stroke="#050707" stroke-width="3.0" stroke-linecap="round"/>
<path d="M225.95,412.84 C227.03,414.05 230.63,417.34 232.43,420.14 C234.23,422.93 235.84,426.58 236.76,429.59 C237.68,432.61 237.93,435.63 237.95,438.24 C237.96,440.86 237.05,444.10 236.86,445.27" fill="none" stroke="#050707" stroke-width="3.0" stroke-linecap="round"/>
<path d="M229.46,412.19 C230.59,413.38 234.41,416.60 236.22,419.32 C238.02,422.05 239.35,425.63 240.27,428.51 C241.19,431.40 241.55,434.55 241.73,436.62 C241.91,438.69 241.41,440.23 241.35,440.95" fill="none" stroke="#050707" stroke-width="3.0" stroke-linecap="round"/>
<path d="M256.49,402.57 C257.34,403.65 260.24,406.71 261.62,409.05 C263.00,411.40 264.13,414.28 264.76,416.62 C265.39,418.96 265.52,421.26 265.41,423.11 C265.29,424.95 264.28,426.94 264.05,427.70" fill="none" stroke="#050707" stroke-width="3.0" stroke-linecap="round"/>
<line x1="174.6" y1="449.6" x2="215.7" y2="429.8" stroke="#050707" stroke-width="4.8" stroke-linecap="round"/>
<line x1="179.1" y1="447.5" x2="213.9" y2="430.7" stroke="#fff" stroke-width="1.2" stroke-dasharray="1.2 1.5"/>
<line x1="189.6" y1="457.6" x2="231.6" y2="437.9" stroke="#050707" stroke-width="4.8" stroke-linecap="round"/>
<line x1="194.1" y1="455.5" x2="229.8" y2="438.8" stroke="#fff" stroke-width="1.2" stroke-dasharray="1.2 1.5"/>
</g>
<line x1="1121.4" y1="480.0" x2="1121.4" y2="580.5" stroke="#050707" stroke-width="3.80" stroke-linecap="butt"/>
<line x1="1134.6" y1="286.5" x2="1342.0" y2="353.5" stroke="#050707" stroke-width="3.80" stroke-linecap="butt"/>
<line x1="1811.6" y1="188.2" x2="1674.8" y2="229.7" stroke="#050707" stroke-width="3.80" stroke-linecap="butt"/>
<line x1="1820.0" y1="462.6" x2="1693.9" y2="500.7" stroke="#050707" stroke-width="3.80" stroke-linecap="butt"/>
<text transform="translate(145.27,147.10) scale(0.7384,1)" font-size="78.34" font-weight="normal" fill="#050707" letter-spacing="6.152">Photo Sensor</text>
<text transform="translate(146.82,147.10) scale(0.7384,1)" font-size="78.34" font-weight="normal" fill="#050707" letter-spacing="6.152">Photo Sensor</text>
<text transform="translate(173.93,309.90) scale(0.6340,1)" font-size="78.34" font-weight="normal" fill="#050707" letter-spacing="8.834">LED</text>
<text transform="translate(176.23,309.90) scale(0.6340,1)" font-size="78.34" font-weight="normal" fill="#050707" letter-spacing="8.834">LED</text>
<text transform="translate(42.19,695.05) scale(0.7435,1)" font-size="78.34" font-weight="normal" fill="#050707" letter-spacing="6.744">Encoder</text>
<text transform="translate(43.70,695.05) scale(0.7435,1)" font-size="78.34" font-weight="normal" fill="#050707" letter-spacing="6.744">Encoder</text>
<text transform="translate(102.00,769.80) scale(0.7344,1)" font-size="78.34" font-weight="normal" fill="#050707" letter-spacing="6.542">Disk</text>
<text transform="translate(103.58,769.80) scale(0.7344,1)" font-size="78.34" font-weight="normal" fill="#050707" letter-spacing="6.542">Disk</text>
<text transform="translate(1039.31,274.80) scale(0.7167,1)" font-size="78.34" font-weight="normal" fill="#050707" letter-spacing="7.206">Lens</text>
<text transform="translate(1041.01,274.80) scale(0.7167,1)" font-size="78.34" font-weight="normal" fill="#050707" letter-spacing="7.206">Lens</text>
<text transform="translate(1051.94,651.80) scale(0.6391,1)" font-size="78.34" font-weight="normal" fill="#050707" letter-spacing="8.878">LED</text>
<text transform="translate(1054.21,651.80) scale(0.6391,1)" font-size="78.34" font-weight="normal" fill="#050707" letter-spacing="8.878">LED</text>
<text transform="translate(1770.97,166.90) scale(0.7701,1)" font-size="78.34" font-weight="normal" fill="#050707" letter-spacing="5.910">Detector</text>
<text transform="translate(1772.29,166.90) scale(0.7701,1)" font-size="78.34" font-weight="normal" fill="#050707" letter-spacing="5.910">Detector</text>
<text transform="translate(1836.85,241.60) scale(0.7026,1)" font-size="78.34" font-weight="normal" fill="#050707" letter-spacing="6.790">Chip</text>
<text transform="translate(1838.66,241.60) scale(0.7026,1)" font-size="78.34" font-weight="normal" fill="#050707" letter-spacing="6.790">Chip</text>
<text transform="translate(1777.24,441.20) scale(0.7434,1)" font-size="78.34" font-weight="normal" fill="#050707" letter-spacing="6.743">Encoder</text>
<text transform="translate(1778.75,441.20) scale(0.7434,1)" font-size="78.34" font-weight="normal" fill="#050707" letter-spacing="6.743">Encoder</text>
<text transform="translate(1838.13,515.90) scale(0.7284,1)" font-size="78.34" font-weight="normal" fill="#050707" letter-spacing="6.516">Disk</text>
<text transform="translate(1839.76,515.90) scale(0.7284,1)" font-size="78.34" font-weight="normal" fill="#050707" letter-spacing="6.516">Disk</text>
<text transform="translate(278.82,997.90) scale(0.9213,1)" font-size="104.80" font-weight="bold" fill="#ff0000">I</text>
<text transform="translate(279.52,997.90) scale(0.9213,1)" font-size="104.80" font-weight="bold" fill="#ff0000">I</text>
<text transform="translate(306.16,997.90) scale(0.8430,1)" font-size="104.80" font-weight="bold" fill="#ff0000">N</text>
<text transform="translate(307.20,997.90) scale(0.8430,1)" font-size="104.80" font-weight="bold" fill="#ff0000">N</text>
<text transform="translate(308.24,997.90) scale(0.8430,1)" font-size="104.80" font-weight="bold" fill="#ff0000">N</text>
<text transform="translate(375.96,997.90) scale(0.6066,1)" font-size="104.80" font-weight="bold" fill="#ff0000">C</text>
<text transform="translate(378.49,997.90) scale(0.6066,1)" font-size="104.80" font-weight="bold" fill="#ff0000">C</text>
<text transform="translate(381.02,997.90) scale(0.6066,1)" font-size="104.80" font-weight="bold" fill="#ff0000">C</text>
<text transform="translate(430.69,997.90) scale(0.6324,1)" font-size="104.80" font-weight="bold" fill="#ff0000">R</text>
<text transform="translate(433.05,997.90) scale(0.6324,1)" font-size="104.80" font-weight="bold" fill="#ff0000">R</text>
<text transform="translate(435.41,997.90) scale(0.6324,1)" font-size="104.80" font-weight="bold" fill="#ff0000">R</text>
<text transform="translate(485.97,997.90) scale(0.5910,1)" font-size="104.80" font-weight="bold" fill="#ff0000">E</text>
<text transform="translate(488.53,997.90) scale(0.5910,1)" font-size="104.80" font-weight="bold" fill="#ff0000">E</text>
<text transform="translate(491.08,997.90) scale(0.5910,1)" font-size="104.80" font-weight="bold" fill="#ff0000">E</text>
<text transform="translate(533.36,997.90) scale(0.9601,1)" font-size="104.80" font-weight="bold" fill="#ff0000">M</text>
<text transform="translate(534.03,997.90) scale(0.9601,1)" font-size="104.80" font-weight="bold" fill="#ff0000">M</text>
<text transform="translate(620.07,997.90) scale(0.5910,1)" font-size="104.80" font-weight="bold" fill="#ff0000">E</text>
<text transform="translate(622.63,997.90) scale(0.5910,1)" font-size="104.80" font-weight="bold" fill="#ff0000">E</text>
<text transform="translate(625.18,997.90) scale(0.5910,1)" font-size="104.80" font-weight="bold" fill="#ff0000">E</text>
<text transform="translate(668.09,997.90) scale(0.8389,1)" font-size="104.80" font-weight="bold" fill="#ff0000">N</text>
<text transform="translate(669.15,997.90) scale(0.8389,1)" font-size="104.80" font-weight="bold" fill="#ff0000">N</text>
<text transform="translate(670.21,997.90) scale(0.8389,1)" font-size="104.80" font-weight="bold" fill="#ff0000">N</text>
<text transform="translate(733.12,997.90) scale(0.7402,1)" font-size="104.80" font-weight="bold" fill="#ff0000">T</text>
<text transform="translate(734.79,997.90) scale(0.7402,1)" font-size="104.80" font-weight="bold" fill="#ff0000">T</text>
<text transform="translate(736.46,997.90) scale(0.7402,1)" font-size="104.80" font-weight="bold" fill="#ff0000">T</text>
<text transform="translate(776.65,997.90) scale(0.8201,1)" font-size="104.80" font-weight="bold" fill="#ff0000">A</text>
<text transform="translate(777.86,997.90) scale(0.8201,1)" font-size="104.80" font-weight="bold" fill="#ff0000">A</text>
<text transform="translate(779.07,997.90) scale(0.8201,1)" font-size="104.80" font-weight="bold" fill="#ff0000">A</text>
<text transform="translate(840.81,997.90) scale(0.6146,1)" font-size="104.80" font-weight="bold" fill="#ff0000">L</text>
<text transform="translate(843.18,997.90) scale(0.6146,1)" font-size="104.80" font-weight="bold" fill="#ff0000">L</text>
<text transform="translate(845.54,997.90) scale(0.6146,1)" font-size="104.80" font-weight="bold" fill="#ff0000">L</text>
<text transform="translate(1255.66,997.80) scale(0.8167,1)" font-size="104.80" font-weight="bold" fill="#ff0000">A</text>
<text transform="translate(1256.89,997.80) scale(0.8167,1)" font-size="104.80" font-weight="bold" fill="#ff0000">A</text>
<text transform="translate(1258.12,997.80) scale(0.8167,1)" font-size="104.80" font-weight="bold" fill="#ff0000">A</text>
<text transform="translate(1320.22,997.80) scale(0.6865,1)" font-size="104.80" font-weight="bold" fill="#ff0000">B</text>
<text transform="translate(1322.23,997.80) scale(0.6865,1)" font-size="104.80" font-weight="bold" fill="#ff0000">B</text>
<text transform="translate(1324.24,997.80) scale(0.6865,1)" font-size="104.80" font-weight="bold" fill="#ff0000">B</text>
<text transform="translate(1381.72,997.80) scale(0.6615,1)" font-size="104.80" font-weight="bold" fill="#ff0000">S</text>
<text transform="translate(1383.87,997.80) scale(0.6615,1)" font-size="104.80" font-weight="bold" fill="#ff0000">S</text>
<text transform="translate(1386.03,997.80) scale(0.6615,1)" font-size="104.80" font-weight="bold" fill="#ff0000">S</text>
<text transform="translate(1438.22,997.80) scale(0.6166,1)" font-size="104.80" font-weight="bold" fill="#ff0000">O</text>
<text transform="translate(1440.71,997.80) scale(0.6166,1)" font-size="104.80" font-weight="bold" fill="#ff0000">O</text>
<text transform="translate(1443.20,997.80) scale(0.6166,1)" font-size="104.80" font-weight="bold" fill="#ff0000">O</text>
<text transform="translate(1497.60,997.80) scale(0.6170,1)" font-size="104.80" font-weight="bold" fill="#ff0000">L</text>
<text transform="translate(1499.95,997.80) scale(0.6170,1)" font-size="104.80" font-weight="bold" fill="#ff0000">L</text>
<text transform="translate(1502.30,997.80) scale(0.6170,1)" font-size="104.80" font-weight="bold" fill="#ff0000">L</text>
<text transform="translate(1542.68,997.80) scale(0.7187,1)" font-size="104.80" font-weight="bold" fill="#ff0000">U</text>
<text transform="translate(1544.48,997.80) scale(0.7187,1)" font-size="104.80" font-weight="bold" fill="#ff0000">U</text>
<text transform="translate(1546.29,997.80) scale(0.7187,1)" font-size="104.80" font-weight="bold" fill="#ff0000">U</text>
<text transform="translate(1601.32,997.80) scale(0.7402,1)" font-size="104.80" font-weight="bold" fill="#ff0000">T</text>
<text transform="translate(1602.99,997.80) scale(0.7402,1)" font-size="104.80" font-weight="bold" fill="#ff0000">T</text>
<text transform="translate(1604.66,997.80) scale(0.7402,1)" font-size="104.80" font-weight="bold" fill="#ff0000">T</text>
<text transform="translate(1654.40,997.80) scale(0.5867,1)" font-size="104.80" font-weight="bold" fill="#ff0000">E</text>
<text transform="translate(1656.98,997.80) scale(0.5867,1)" font-size="104.80" font-weight="bold" fill="#ff0000">E</text>
<text transform="translate(1659.56,997.80) scale(0.5867,1)" font-size="104.80" font-weight="bold" fill="#ff0000">E</text>
</svg>
</body></html>
